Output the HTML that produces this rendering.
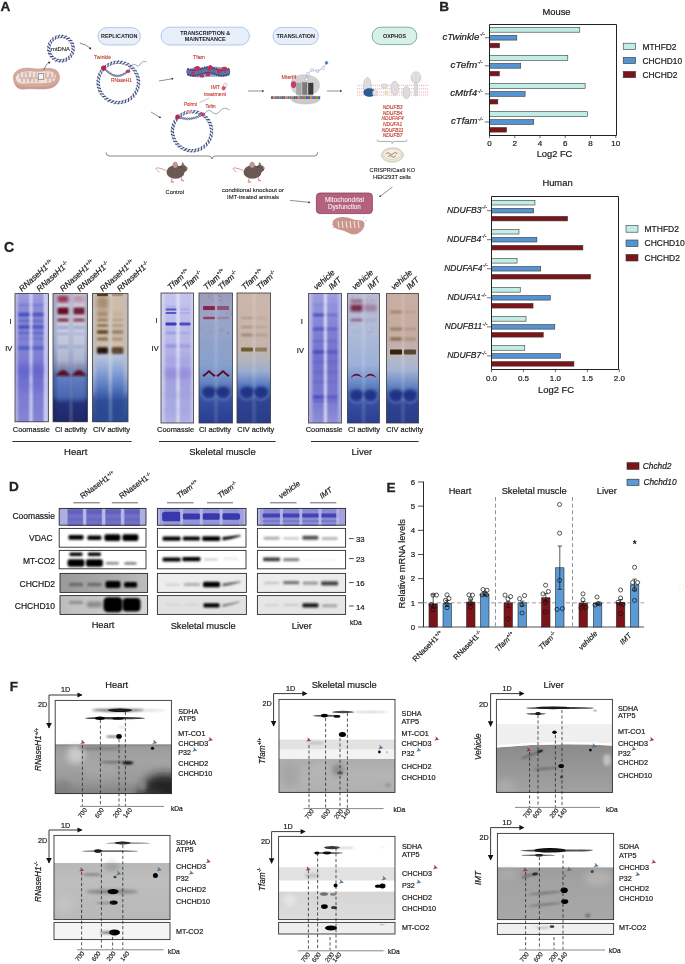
<!DOCTYPE html>
<html><head><meta charset="utf-8"><title>Figure</title><style>
html,body{margin:0;padding:0;background:#ffffff;width:685px;height:964px;overflow:hidden;}
svg{display:block;will-change:transform;}
text{font-family:"Liberation Sans", sans-serif;}
</style></head><body>
<svg width="685" height="964" viewBox="0 0 685 964">
<defs><filter id="b06" x="-50%" y="-50%" width="200%" height="200%"><feGaussianBlur stdDeviation="0.6"/></filter><filter id="b1" x="-50%" y="-50%" width="200%" height="200%"><feGaussianBlur stdDeviation="1"/></filter><filter id="b08" x="-50%" y="-50%" width="200%" height="200%"><feGaussianBlur stdDeviation="0.8"/></filter><filter id="b15" x="-50%" y="-50%" width="200%" height="200%"><feGaussianBlur stdDeviation="1.5"/></filter><filter id="b2" x="-50%" y="-50%" width="200%" height="200%"><feGaussianBlur stdDeviation="2"/></filter><filter id="b3" x="-50%" y="-50%" width="200%" height="200%"><feGaussianBlur stdDeviation="3"/></filter><filter id="b5" x="-50%" y="-50%" width="200%" height="200%"><feGaussianBlur stdDeviation="5"/></filter><linearGradient id="vg1" x1="0" x2="0" y1="0" y2="1"><stop offset="0.0000" stop-color="#bcbce8"/><stop offset="0.5179" stop-color="#a8a8e0"/><stop offset="1.0000" stop-color="#b4b4e6"/></linearGradient><linearGradient id="vg2" x1="0" x2="0" y1="0" y2="1"><stop offset="0.0000" stop-color="#a0a0de"/><stop offset="0.1279" stop-color="#8c8cd6"/><stop offset="0.4789" stop-color="#8080d2"/><stop offset="0.6349" stop-color="#6c6ccc"/><stop offset="0.7676" stop-color="#7a7ad0"/><stop offset="1.0000" stop-color="#8686d4"/></linearGradient><linearGradient id="vg3" x1="0" x2="0" y1="0" y2="1"><stop offset="0.0000" stop-color="#a8acc8"/><stop offset="0.2839" stop-color="#a8b0cc"/><stop offset="0.4399" stop-color="#98a4c8"/><stop offset="0.5647" stop-color="#7c88b4"/><stop offset="0.6427" stop-color="#4a68b0"/><stop offset="0.7988" stop-color="#3a58a0"/><stop offset="0.8456" stop-color="#222e70"/><stop offset="1.0000" stop-color="#1c2662"/></linearGradient><linearGradient id="vg4" x1="0" x2="0" y1="0" y2="1"><stop offset="0.0000" stop-color="#d0ccdc"/><stop offset="0.3619" stop-color="#c4c8dc"/><stop offset="0.5647" stop-color="#a8b0cc"/><stop offset="0.6427" stop-color="#6080c0"/><stop offset="0.7988" stop-color="#4a68b0"/><stop offset="0.8456" stop-color="#24307a"/><stop offset="1.0000" stop-color="#1e2868"/></linearGradient><linearGradient id="vg5" x1="0" x2="0" y1="0" y2="1"><stop offset="0.0000" stop-color="#c8bcb8"/><stop offset="0.4399" stop-color="#c4bcbc"/><stop offset="0.5023" stop-color="#b8c0d4"/><stop offset="0.6115" stop-color="#a4b4d4"/><stop offset="0.7520" stop-color="#7088c0"/><stop offset="0.8300" stop-color="#3a58a0"/><stop offset="1.0000" stop-color="#2a4890"/></linearGradient><linearGradient id="vg6" x1="0" x2="0" y1="0" y2="1"><stop offset="0.0000" stop-color="#d2c0b0"/><stop offset="0.4009" stop-color="#cebca8"/><stop offset="0.4867" stop-color="#b8c4dc"/><stop offset="0.5959" stop-color="#8aa4d4"/><stop offset="0.7129" stop-color="#5a7cc4"/><stop offset="0.8300" stop-color="#2e4c98"/><stop offset="1.0000" stop-color="#2a4890"/></linearGradient><linearGradient id="vg7" x1="0" x2="0" y1="0" y2="1"><stop offset="0.0000" stop-color="#d2d2f0"/><stop offset="1.0000" stop-color="#c4c4ec"/></linearGradient><linearGradient id="vg8" x1="0" x2="0" y1="0" y2="1"><stop offset="0.0000" stop-color="#c4c4ee"/><stop offset="0.3615" stop-color="#b8b8e8"/><stop offset="0.5154" stop-color="#acace4"/><stop offset="0.6692" stop-color="#a2a2e0"/><stop offset="1.0000" stop-color="#b0b0e6"/></linearGradient><linearGradient id="vg9" x1="0" x2="0" y1="0" y2="1"><stop offset="0.0000" stop-color="#9c9cbc"/><stop offset="0.2077" stop-color="#9aa4c8"/><stop offset="0.5538" stop-color="#86a0cc"/><stop offset="0.6692" stop-color="#6a8ac4"/><stop offset="0.8231" stop-color="#3650a0"/><stop offset="1.0000" stop-color="#2a3c90"/></linearGradient><linearGradient id="vg10" x1="0" x2="0" y1="0" y2="1"><stop offset="0.0000" stop-color="#ccb6ac"/><stop offset="0.4000" stop-color="#c6b4ac"/><stop offset="0.5154" stop-color="#b4b4bc"/><stop offset="0.6077" stop-color="#98acd0"/><stop offset="0.7077" stop-color="#5a7ac0"/><stop offset="0.8231" stop-color="#2e4494"/><stop offset="1.0000" stop-color="#2a3c88"/></linearGradient><linearGradient id="vg11" x1="0" x2="0" y1="0" y2="1"><stop offset="0.0000" stop-color="#b8b8e8"/><stop offset="1.0000" stop-color="#a8a8e0"/></linearGradient><linearGradient id="vg12" x1="0" x2="0" y1="0" y2="1"><stop offset="0.0000" stop-color="#a0a0e0"/><stop offset="0.2813" stop-color="#8080d4"/><stop offset="0.5131" stop-color="#7070cc"/><stop offset="0.8223" stop-color="#7a7ad0"/><stop offset="1.0000" stop-color="#9090d8"/></linearGradient><linearGradient id="vg13" x1="0" x2="0" y1="0" y2="1"><stop offset="0.0000" stop-color="#b8bcd4"/><stop offset="0.2813" stop-color="#b0bcd8"/><stop offset="0.5518" stop-color="#9cb0d8"/><stop offset="0.6832" stop-color="#6c8cc8"/><stop offset="0.8377" stop-color="#3650a0"/><stop offset="1.0000" stop-color="#2c3e92"/></linearGradient><linearGradient id="vg14" x1="0" x2="0" y1="0" y2="1"><stop offset="0.0000" stop-color="#c8ada2"/><stop offset="0.3586" stop-color="#c4aca2"/><stop offset="0.4977" stop-color="#b8b8c4"/><stop offset="0.5904" stop-color="#a4b4d4"/><stop offset="0.7063" stop-color="#6888c4"/><stop offset="0.8377" stop-color="#2e4494"/><stop offset="1.0000" stop-color="#2a3c88"/></linearGradient><marker id="ah" viewBox="0 0 10 10" refX="9" refY="5" markerWidth="5" markerHeight="5" orient="auto" markerUnits="userSpaceOnUse"><path d="M0,0 L10,5 L0,10 z" fill="#111"/></marker><linearGradient id="vg15" x1="0" x2="0" y1="0" y2="1"><stop offset="0.0000" stop-color="#868686"/><stop offset="0.0649" stop-color="#9c9c9c"/><stop offset="0.3185" stop-color="#a4a4a4"/><stop offset="0.7241" stop-color="#9a9a9a"/><stop offset="1.0000" stop-color="#808080"/></linearGradient><linearGradient id="vg16" x1="0" x2="0" y1="0" y2="1"><stop offset="0.0000" stop-color="#b8b8b8"/><stop offset="0.3004" stop-color="#bebebe"/><stop offset="1.0000" stop-color="#b8b8b8"/></linearGradient><linearGradient id="vg17" x1="0" x2="0" y1="0" y2="1"><stop offset="0.0000" stop-color="#acacac"/><stop offset="0.4790" stop-color="#b4b4b4"/><stop offset="1.0000" stop-color="#b0b0b0"/></linearGradient><linearGradient id="vg18" x1="0" x2="0" y1="0" y2="1"><stop offset="0.0000" stop-color="#d6d6d6"/><stop offset="1.0000" stop-color="#dcdcdc"/></linearGradient><linearGradient id="vg19" x1="0" x2="0" y1="0" y2="1"><stop offset="0.0000" stop-color="#8a8a8a"/><stop offset="0.3306" stop-color="#939393"/><stop offset="1.0000" stop-color="#a2a2a2"/></linearGradient><linearGradient id="vg20" x1="0" x2="0" y1="0" y2="1"><stop offset="0.0000" stop-color="#9c9c9c"/><stop offset="0.2414" stop-color="#a2a2a2"/><stop offset="1.0000" stop-color="#a8a8a8"/></linearGradient></defs>
<rect x="0" y="0" width="685" height="964" fill="#ffffff"/>
<text x="439.20" y="10.80" font-size="13.6" fill="#222" font-weight="bold" stroke="#222" stroke-width="0.3">B</text>
<text x="556.50" y="14.70" font-size="9.4" fill="#1a1a1a" stroke="#1a1a1a" stroke-width="0.2" text-anchor="middle" >Mouse</text>
<rect x="489.50" y="27.40" width="90.30" height="4.80" fill="#c0ede6" stroke="#3a3a3a" stroke-width="0.6" />
<rect x="489.50" y="35.30" width="27.28" height="4.80" fill="#5593d2" stroke="#3a3a3a" stroke-width="0.6" />
<rect x="489.50" y="43.20" width="10.10" height="4.60" fill="#7c1419" stroke="#3a3a3a" stroke-width="0.6" />
<line x1="484.80" y1="37.70" x2="489.50" y2="37.70" stroke="#333" stroke-width="0.7" />
<text x="442.40" y="39.70" font-size="9.4" fill="#1a1a1a" stroke="#1a1a1a" stroke-width="0.2" font-style="italic" textLength="37.00" lengthAdjust="spacingAndGlyphs" >cTwinkle</text>
<text x="479.70" y="36.30" font-size="5.4" fill="#444" stroke="#444" stroke-width="0.2" font-style="italic" >-/-</text>
<rect x="489.50" y="55.50" width="78.31" height="4.80" fill="#c0ede6" stroke="#3a3a3a" stroke-width="0.6" />
<rect x="489.50" y="63.40" width="31.20" height="4.80" fill="#5593d2" stroke="#3a3a3a" stroke-width="0.6" />
<rect x="489.50" y="71.30" width="9.85" height="4.60" fill="#7c1419" stroke="#3a3a3a" stroke-width="0.6" />
<line x1="484.80" y1="65.80" x2="489.50" y2="65.80" stroke="#333" stroke-width="0.7" />
<text x="450.60" y="67.80" font-size="9.4" fill="#1a1a1a" stroke="#1a1a1a" stroke-width="0.2" font-style="italic" textLength="26.60" lengthAdjust="spacingAndGlyphs" >cTefm</text>
<text x="477.50" y="64.40" font-size="5.4" fill="#444" stroke="#444" stroke-width="0.2" font-style="italic" >-/-</text>
<rect x="489.50" y="83.60" width="95.61" height="4.80" fill="#c0ede6" stroke="#3a3a3a" stroke-width="0.6" />
<rect x="489.50" y="91.50" width="35.62" height="4.80" fill="#5593d2" stroke="#3a3a3a" stroke-width="0.6" />
<rect x="489.50" y="99.40" width="8.34" height="4.60" fill="#7c1419" stroke="#3a3a3a" stroke-width="0.6" />
<line x1="484.80" y1="93.90" x2="489.50" y2="93.90" stroke="#333" stroke-width="0.7" />
<text x="450.20" y="95.90" font-size="9.4" fill="#1a1a1a" stroke="#1a1a1a" stroke-width="0.2" font-style="italic" textLength="27.00" lengthAdjust="spacingAndGlyphs" >cMtrf4</text>
<text x="477.50" y="92.50" font-size="5.4" fill="#444" stroke="#444" stroke-width="0.2" font-style="italic" >-/-</text>
<rect x="489.50" y="111.70" width="97.88" height="4.80" fill="#c0ede6" stroke="#3a3a3a" stroke-width="0.6" />
<rect x="489.50" y="119.60" width="44.21" height="4.80" fill="#5593d2" stroke="#3a3a3a" stroke-width="0.6" />
<rect x="489.50" y="127.50" width="17.05" height="4.60" fill="#7c1419" stroke="#3a3a3a" stroke-width="0.6" />
<line x1="484.80" y1="122.00" x2="489.50" y2="122.00" stroke="#333" stroke-width="0.7" />
<text x="451.00" y="124.00" font-size="9.4" fill="#1a1a1a" stroke="#1a1a1a" stroke-width="0.2" font-style="italic" textLength="26.60" lengthAdjust="spacingAndGlyphs" >cTfam</text>
<text x="477.90" y="120.60" font-size="5.4" fill="#444" stroke="#444" stroke-width="0.2" font-style="italic" >-/-</text>
<path d="M489.5,24.5 L616.5,24.5 L616.5,135.5 L489.5,135.5 Z" fill="none" stroke="#222" stroke-width="1"/>
<line x1="489.50" y1="135.00" x2="489.50" y2="138.20" stroke="#333" stroke-width="0.7" />
<text x="489.50" y="146.40" font-size="8" fill="#1a1a1a" stroke="#1a1a1a" stroke-width="0.2" text-anchor="middle" >0</text>
<line x1="514.76" y1="135.00" x2="514.76" y2="138.20" stroke="#333" stroke-width="0.7" />
<text x="514.76" y="146.40" font-size="8" fill="#1a1a1a" stroke="#1a1a1a" stroke-width="0.2" text-anchor="middle" >2</text>
<line x1="540.02" y1="135.00" x2="540.02" y2="138.20" stroke="#333" stroke-width="0.7" />
<text x="540.02" y="146.40" font-size="8" fill="#1a1a1a" stroke="#1a1a1a" stroke-width="0.2" text-anchor="middle" >4</text>
<line x1="565.28" y1="135.00" x2="565.28" y2="138.20" stroke="#333" stroke-width="0.7" />
<text x="565.28" y="146.40" font-size="8" fill="#1a1a1a" stroke="#1a1a1a" stroke-width="0.2" text-anchor="middle" >6</text>
<line x1="590.54" y1="135.00" x2="590.54" y2="138.20" stroke="#333" stroke-width="0.7" />
<text x="590.54" y="146.40" font-size="8" fill="#1a1a1a" stroke="#1a1a1a" stroke-width="0.2" text-anchor="middle" >8</text>
<line x1="615.80" y1="135.00" x2="615.80" y2="138.20" stroke="#333" stroke-width="0.7" />
<text x="615.80" y="146.40" font-size="8" fill="#1a1a1a" stroke="#1a1a1a" stroke-width="0.2" text-anchor="middle" >10</text>
<text x="554.50" y="157.00" font-size="9.3" fill="#1a1a1a" stroke="#1a1a1a" stroke-width="0.2" text-anchor="middle" >Log2 FC</text>
<rect x="623.20" y="43.20" width="12.40" height="6.30" fill="#c0ede6" stroke="#3a3a3a" stroke-width="0.6" />
<text x="642.50" y="49.60" font-size="8.4" fill="#1a1a1a" stroke="#1a1a1a" stroke-width="0.2" >MTHFD2</text>
<rect x="623.20" y="57.30" width="12.40" height="6.30" fill="#5593d2" stroke="#3a3a3a" stroke-width="0.6" />
<text x="642.50" y="63.70" font-size="8.4" fill="#1a1a1a" stroke="#1a1a1a" stroke-width="0.2" >CHCHD10</text>
<rect x="623.20" y="71.40" width="12.40" height="6.30" fill="#7c1419" stroke="#3a3a3a" stroke-width="0.6" />
<text x="642.50" y="77.80" font-size="8.4" fill="#1a1a1a" stroke="#1a1a1a" stroke-width="0.2" >CHCHD2</text>
<text x="557.50" y="186.00" font-size="9.4" fill="#1a1a1a" stroke="#1a1a1a" stroke-width="0.2" text-anchor="middle" >Human</text>
<rect x="491.50" y="200.40" width="43.45" height="4.60" fill="#c0ede6" stroke="#3a3a3a" stroke-width="0.6" />
<rect x="491.50" y="208.35" width="42.17" height="4.60" fill="#5593d2" stroke="#3a3a3a" stroke-width="0.6" />
<rect x="491.50" y="216.30" width="76.04" height="4.60" fill="#7c1419" stroke="#3a3a3a" stroke-width="0.6" />
<line x1="487.00" y1="210.65" x2="491.50" y2="210.65" stroke="#333" stroke-width="0.7" />
<text x="447.00" y="212.75" font-size="9" fill="#1a1a1a" stroke="#1a1a1a" stroke-width="0.2" font-style="italic" textLength="34.60" lengthAdjust="spacingAndGlyphs" >NDUFB3</text>
<text x="481.90" y="209.35" font-size="5.4" fill="#444" stroke="#444" stroke-width="0.2" font-style="italic" >-/-</text>
<rect x="491.50" y="229.45" width="27.48" height="4.60" fill="#c0ede6" stroke="#3a3a3a" stroke-width="0.6" />
<rect x="491.50" y="237.40" width="45.37" height="4.60" fill="#5593d2" stroke="#3a3a3a" stroke-width="0.6" />
<rect x="491.50" y="245.35" width="91.38" height="4.60" fill="#7c1419" stroke="#3a3a3a" stroke-width="0.6" />
<line x1="487.00" y1="239.70" x2="491.50" y2="239.70" stroke="#333" stroke-width="0.7" />
<text x="447.00" y="241.80" font-size="9" fill="#1a1a1a" stroke="#1a1a1a" stroke-width="0.2" font-style="italic" textLength="34.20" lengthAdjust="spacingAndGlyphs" >NDUFB4</text>
<text x="481.50" y="238.40" font-size="5.4" fill="#444" stroke="#444" stroke-width="0.2" font-style="italic" >-/-</text>
<rect x="491.50" y="258.50" width="25.56" height="4.60" fill="#c0ede6" stroke="#3a3a3a" stroke-width="0.6" />
<rect x="491.50" y="266.45" width="49.20" height="4.60" fill="#5593d2" stroke="#3a3a3a" stroke-width="0.6" />
<rect x="491.50" y="274.40" width="99.05" height="4.60" fill="#7c1419" stroke="#3a3a3a" stroke-width="0.6" />
<line x1="487.00" y1="268.75" x2="491.50" y2="268.75" stroke="#333" stroke-width="0.7" />
<text x="444.20" y="270.85" font-size="9" fill="#1a1a1a" stroke="#1a1a1a" stroke-width="0.2" font-style="italic" textLength="38.20" lengthAdjust="spacingAndGlyphs" >NDUFAF4</text>
<text x="482.70" y="267.45" font-size="5.4" fill="#444" stroke="#444" stroke-width="0.2" font-style="italic" >-/-</text>
<rect x="491.50" y="287.55" width="28.75" height="4.60" fill="#c0ede6" stroke="#3a3a3a" stroke-width="0.6" />
<rect x="491.50" y="295.50" width="58.79" height="4.60" fill="#5593d2" stroke="#3a3a3a" stroke-width="0.6" />
<rect x="491.50" y="303.45" width="41.54" height="4.60" fill="#7c1419" stroke="#3a3a3a" stroke-width="0.6" />
<line x1="487.00" y1="297.80" x2="491.50" y2="297.80" stroke="#333" stroke-width="0.7" />
<text x="447.40" y="299.90" font-size="9" fill="#1a1a1a" stroke="#1a1a1a" stroke-width="0.2" font-style="italic" textLength="33.60" lengthAdjust="spacingAndGlyphs" >NDUFA1</text>
<text x="481.30" y="296.50" font-size="5.4" fill="#444" stroke="#444" stroke-width="0.2" font-style="italic" >-/-</text>
<rect x="491.50" y="316.60" width="34.51" height="4.60" fill="#c0ede6" stroke="#3a3a3a" stroke-width="0.6" />
<rect x="491.50" y="324.55" width="63.26" height="4.60" fill="#5593d2" stroke="#3a3a3a" stroke-width="0.6" />
<rect x="491.50" y="332.50" width="51.76" height="4.60" fill="#7c1419" stroke="#3a3a3a" stroke-width="0.6" />
<line x1="487.00" y1="326.85" x2="491.50" y2="326.85" stroke="#333" stroke-width="0.7" />
<text x="444.80" y="328.95" font-size="9" fill="#1a1a1a" stroke="#1a1a1a" stroke-width="0.2" font-style="italic" textLength="37.40" lengthAdjust="spacingAndGlyphs" >NDUFB11</text>
<text x="482.50" y="325.55" font-size="5.4" fill="#444" stroke="#444" stroke-width="0.2" font-style="italic" >-/-</text>
<rect x="491.50" y="345.65" width="33.23" height="4.60" fill="#c0ede6" stroke="#3a3a3a" stroke-width="0.6" />
<rect x="491.50" y="353.60" width="69.01" height="4.60" fill="#5593d2" stroke="#3a3a3a" stroke-width="0.6" />
<rect x="491.50" y="361.55" width="82.43" height="4.60" fill="#7c1419" stroke="#3a3a3a" stroke-width="0.6" />
<line x1="487.00" y1="355.90" x2="491.50" y2="355.90" stroke="#333" stroke-width="0.7" />
<text x="447.20" y="358.00" font-size="9" fill="#1a1a1a" stroke="#1a1a1a" stroke-width="0.2" font-style="italic" textLength="34.00" lengthAdjust="spacingAndGlyphs" >NDUFB7</text>
<text x="481.50" y="354.60" font-size="5.4" fill="#444" stroke="#444" stroke-width="0.2" font-style="italic" >-/-</text>
<path d="M491.5,196.5 L618.5,196.5 L618.5,369.5 L491.5,369.5 Z" fill="none" stroke="#222" stroke-width="1"/>
<line x1="491.50" y1="369.00" x2="491.50" y2="372.20" stroke="#333" stroke-width="0.7" />
<text x="491.50" y="381.00" font-size="8" fill="#1a1a1a" stroke="#1a1a1a" stroke-width="0.2" text-anchor="middle" >0.0</text>
<line x1="523.45" y1="369.00" x2="523.45" y2="372.20" stroke="#333" stroke-width="0.7" />
<text x="523.45" y="381.00" font-size="8" fill="#1a1a1a" stroke="#1a1a1a" stroke-width="0.2" text-anchor="middle" >0.5</text>
<line x1="555.40" y1="369.00" x2="555.40" y2="372.20" stroke="#333" stroke-width="0.7" />
<text x="555.40" y="381.00" font-size="8" fill="#1a1a1a" stroke="#1a1a1a" stroke-width="0.2" text-anchor="middle" >1.0</text>
<line x1="587.35" y1="369.00" x2="587.35" y2="372.20" stroke="#333" stroke-width="0.7" />
<text x="587.35" y="381.00" font-size="8" fill="#1a1a1a" stroke="#1a1a1a" stroke-width="0.2" text-anchor="middle" >1.5</text>
<line x1="619.30" y1="369.00" x2="619.30" y2="372.20" stroke="#333" stroke-width="0.7" />
<text x="619.30" y="381.00" font-size="8" fill="#1a1a1a" stroke="#1a1a1a" stroke-width="0.2" text-anchor="middle" >2.0</text>
<text x="556.00" y="393.00" font-size="9.4" fill="#1a1a1a" stroke="#1a1a1a" stroke-width="0.2" text-anchor="middle" >Log2 FC</text>
<rect x="626.00" y="225.60" width="12.00" height="6.60" fill="#c0ede6" stroke="#3a3a3a" stroke-width="0.6" />
<text x="644.50" y="232.00" font-size="8.5" fill="#1a1a1a" stroke="#1a1a1a" stroke-width="0.2" >MTHFD2</text>
<rect x="626.00" y="240.00" width="12.00" height="6.60" fill="#5593d2" stroke="#3a3a3a" stroke-width="0.6" />
<text x="644.50" y="246.40" font-size="8.5" fill="#1a1a1a" stroke="#1a1a1a" stroke-width="0.2" >CHCHD10</text>
<rect x="626.00" y="254.40" width="12.00" height="6.60" fill="#7c1419" stroke="#3a3a3a" stroke-width="0.6" />
<text x="644.50" y="260.80" font-size="8.5" fill="#1a1a1a" stroke="#1a1a1a" stroke-width="0.2" >CHCHD2</text>
<text x="386.40" y="491.60" font-size="13.6" fill="#222" font-weight="bold" stroke="#222" stroke-width="0.3">E</text>
<line x1="423.50" y1="481.50" x2="423.50" y2="627.00" stroke="#111" stroke-width="0.9" />
<line x1="423.00" y1="627.00" x2="644.00" y2="627.00" stroke="#555" stroke-width="1.1" />
<line x1="418.00" y1="627.00" x2="423.50" y2="627.00" stroke="#222" stroke-width="0.8" />
<text x="415.20" y="629.70" font-size="7.8" fill="#1a1a1a" stroke="#1a1a1a" stroke-width="0.2" text-anchor="end" >0</text>
<line x1="418.00" y1="602.83" x2="423.50" y2="602.83" stroke="#222" stroke-width="0.8" />
<text x="415.20" y="605.53" font-size="7.8" fill="#1a1a1a" stroke="#1a1a1a" stroke-width="0.2" text-anchor="end" >1</text>
<line x1="418.00" y1="578.66" x2="423.50" y2="578.66" stroke="#222" stroke-width="0.8" />
<text x="415.20" y="581.36" font-size="7.8" fill="#1a1a1a" stroke="#1a1a1a" stroke-width="0.2" text-anchor="end" >2</text>
<line x1="418.00" y1="554.49" x2="423.50" y2="554.49" stroke="#222" stroke-width="0.8" />
<text x="415.20" y="557.19" font-size="7.8" fill="#1a1a1a" stroke="#1a1a1a" stroke-width="0.2" text-anchor="end" >3</text>
<line x1="418.00" y1="530.32" x2="423.50" y2="530.32" stroke="#222" stroke-width="0.8" />
<text x="415.20" y="533.02" font-size="7.8" fill="#1a1a1a" stroke="#1a1a1a" stroke-width="0.2" text-anchor="end" >4</text>
<line x1="418.00" y1="506.15" x2="423.50" y2="506.15" stroke="#222" stroke-width="0.8" />
<text x="415.20" y="508.85" font-size="7.8" fill="#1a1a1a" stroke="#1a1a1a" stroke-width="0.2" text-anchor="end" >5</text>
<line x1="418.00" y1="481.98" x2="423.50" y2="481.98" stroke="#222" stroke-width="0.8" />
<text x="415.20" y="484.68" font-size="7.8" fill="#1a1a1a" stroke="#1a1a1a" stroke-width="0.2" text-anchor="end" >6</text>
<text transform="translate(404.60,563.80) rotate(-90)" x="0" y="0" font-size="9.3" fill="#1a1a1a" stroke="#1a1a1a" stroke-width="0.2" text-anchor="middle" >Relative mRNA levels</text>
<text x="460.00" y="494.40" font-size="9.3" fill="#1a1a1a" stroke="#1a1a1a" stroke-width="0.2" text-anchor="middle" >Heart</text>
<text x="534.20" y="494.40" font-size="9.3" fill="#1a1a1a" stroke="#1a1a1a" stroke-width="0.2" text-anchor="middle" >Skeletal muscle</text>
<text x="606.80" y="494.40" font-size="9.3" fill="#1a1a1a" stroke="#1a1a1a" stroke-width="0.2" text-anchor="middle" >Liver</text>
<line x1="495.50" y1="497.00" x2="495.50" y2="627.00" stroke="#777" stroke-width="0.8" stroke-dasharray="4,2.6"/>
<line x1="572.50" y1="497.00" x2="572.50" y2="627.00" stroke="#777" stroke-width="0.8" stroke-dasharray="4,2.6"/>
<line x1="423.00" y1="602.83" x2="644.00" y2="602.83" stroke="#888" stroke-width="0.8" stroke-dasharray="4.2,2.6"/>
<rect x="429.00" y="603.80" width="8.40" height="23.20" fill="#7c1419" stroke="#222" stroke-width="0.6" />
<line x1="433.20" y1="607.66" x2="433.20" y2="594.37" stroke="#111" stroke-width="0.7" />
<line x1="431.00" y1="594.37" x2="435.40" y2="594.37" stroke="#111" stroke-width="0.7" />
<line x1="431.00" y1="607.66" x2="435.40" y2="607.66" stroke="#111" stroke-width="0.7" />
<circle cx="433.00" cy="595.10" r="2.05" fill="none" stroke="#111" stroke-width="0.7"/>
<circle cx="436.50" cy="595.10" r="2.05" fill="none" stroke="#111" stroke-width="0.7"/>
<circle cx="431.00" cy="604.52" r="2.05" fill="none" stroke="#111" stroke-width="0.7"/>
<circle cx="434.00" cy="606.46" r="2.05" fill="none" stroke="#111" stroke-width="0.7"/>
<circle cx="433.00" cy="609.60" r="2.05" fill="none" stroke="#111" stroke-width="0.7"/>
<rect x="443.00" y="603.31" width="8.40" height="23.69" fill="#5b9bd5" stroke="#222" stroke-width="0.6" />
<line x1="447.20" y1="606.46" x2="447.20" y2="600.41" stroke="#111" stroke-width="0.7" />
<line x1="445.00" y1="600.41" x2="449.40" y2="600.41" stroke="#111" stroke-width="0.7" />
<line x1="445.00" y1="606.46" x2="449.40" y2="606.46" stroke="#111" stroke-width="0.7" />
<circle cx="447.00" cy="594.85" r="2.05" fill="none" stroke="#111" stroke-width="0.7"/>
<circle cx="445.50" cy="600.41" r="2.05" fill="none" stroke="#111" stroke-width="0.7"/>
<circle cx="449.00" cy="598.48" r="2.05" fill="none" stroke="#111" stroke-width="0.7"/>
<circle cx="447.00" cy="604.04" r="2.05" fill="none" stroke="#111" stroke-width="0.7"/>
<circle cx="447.00" cy="607.66" r="2.05" fill="none" stroke="#111" stroke-width="0.7"/>
<rect x="466.60" y="602.10" width="8.40" height="24.90" fill="#7c1419" stroke="#222" stroke-width="0.6" />
<line x1="470.80" y1="604.76" x2="470.80" y2="599.20" stroke="#111" stroke-width="0.7" />
<line x1="468.60" y1="599.20" x2="473.00" y2="599.20" stroke="#111" stroke-width="0.7" />
<line x1="468.60" y1="604.76" x2="473.00" y2="604.76" stroke="#111" stroke-width="0.7" />
<circle cx="469.00" cy="594.85" r="2.05" fill="none" stroke="#111" stroke-width="0.7"/>
<circle cx="472.50" cy="595.10" r="2.05" fill="none" stroke="#111" stroke-width="0.7"/>
<circle cx="470.50" cy="599.20" r="2.05" fill="none" stroke="#111" stroke-width="0.7"/>
<circle cx="470.50" cy="602.83" r="2.05" fill="none" stroke="#111" stroke-width="0.7"/>
<circle cx="470.50" cy="607.18" r="2.05" fill="none" stroke="#111" stroke-width="0.7"/>
<rect x="480.60" y="594.13" width="8.40" height="32.87" fill="#5b9bd5" stroke="#222" stroke-width="0.6" />
<line x1="484.80" y1="595.82" x2="484.80" y2="592.44" stroke="#111" stroke-width="0.7" />
<line x1="482.60" y1="592.44" x2="487.00" y2="592.44" stroke="#111" stroke-width="0.7" />
<line x1="482.60" y1="595.82" x2="487.00" y2="595.82" stroke="#111" stroke-width="0.7" />
<circle cx="483.00" cy="589.54" r="2.05" fill="none" stroke="#111" stroke-width="0.7"/>
<circle cx="487.00" cy="590.26" r="2.05" fill="none" stroke="#111" stroke-width="0.7"/>
<circle cx="485.00" cy="593.16" r="2.05" fill="none" stroke="#111" stroke-width="0.7"/>
<circle cx="482.00" cy="594.85" r="2.05" fill="none" stroke="#111" stroke-width="0.7"/>
<circle cx="486.50" cy="594.85" r="2.05" fill="none" stroke="#111" stroke-width="0.7"/>
<rect x="504.00" y="602.83" width="8.40" height="24.17" fill="#7c1419" stroke="#222" stroke-width="0.6" />
<line x1="508.20" y1="607.66" x2="508.20" y2="601.62" stroke="#111" stroke-width="0.7" />
<line x1="506.00" y1="601.62" x2="510.40" y2="601.62" stroke="#111" stroke-width="0.7" />
<line x1="506.00" y1="607.66" x2="510.40" y2="607.66" stroke="#111" stroke-width="0.7" />
<circle cx="505.00" cy="595.10" r="2.05" fill="none" stroke="#111" stroke-width="0.7"/>
<circle cx="510.60" cy="596.55" r="2.05" fill="none" stroke="#111" stroke-width="0.7"/>
<circle cx="508.00" cy="598.96" r="2.05" fill="none" stroke="#111" stroke-width="0.7"/>
<circle cx="508.00" cy="618.78" r="2.05" fill="none" stroke="#111" stroke-width="0.7"/>
<rect x="518.00" y="602.83" width="8.40" height="24.17" fill="#5b9bd5" stroke="#222" stroke-width="0.6" />
<line x1="522.20" y1="605.97" x2="522.20" y2="601.14" stroke="#111" stroke-width="0.7" />
<line x1="520.00" y1="601.14" x2="524.40" y2="601.14" stroke="#111" stroke-width="0.7" />
<line x1="520.00" y1="605.97" x2="524.40" y2="605.97" stroke="#111" stroke-width="0.7" />
<circle cx="519.60" cy="598.72" r="2.05" fill="none" stroke="#111" stroke-width="0.7"/>
<circle cx="524.60" cy="595.58" r="2.05" fill="none" stroke="#111" stroke-width="0.7"/>
<circle cx="522.00" cy="604.76" r="2.05" fill="none" stroke="#111" stroke-width="0.7"/>
<circle cx="522.00" cy="612.98" r="2.05" fill="none" stroke="#111" stroke-width="0.7"/>
<rect x="541.60" y="597.75" width="8.40" height="29.25" fill="#7c1419" stroke="#222" stroke-width="0.6" />
<line x1="545.80" y1="601.62" x2="545.80" y2="593.65" stroke="#111" stroke-width="0.7" />
<line x1="543.60" y1="593.65" x2="548.00" y2="593.65" stroke="#111" stroke-width="0.7" />
<line x1="543.60" y1="601.62" x2="548.00" y2="601.62" stroke="#111" stroke-width="0.7" />
<circle cx="545.60" cy="585.19" r="2.05" fill="none" stroke="#111" stroke-width="0.7"/>
<circle cx="543.00" cy="593.89" r="2.05" fill="none" stroke="#111" stroke-width="0.7"/>
<circle cx="548.40" cy="591.47" r="2.05" fill="none" stroke="#111" stroke-width="0.7"/>
<circle cx="545.60" cy="602.35" r="2.05" fill="none" stroke="#111" stroke-width="0.7"/>
<circle cx="545.60" cy="612.01" r="2.05" fill="none" stroke="#111" stroke-width="0.7"/>
<rect x="555.60" y="567.78" width="8.40" height="59.22" fill="#5b9bd5" stroke="#222" stroke-width="0.6" />
<line x1="559.80" y1="589.29" x2="559.80" y2="546.03" stroke="#111" stroke-width="0.7" />
<line x1="557.60" y1="546.03" x2="562.00" y2="546.03" stroke="#111" stroke-width="0.7" />
<line x1="557.60" y1="589.29" x2="562.00" y2="589.29" stroke="#111" stroke-width="0.7" />
<circle cx="559.60" cy="504.46" r="2.05" fill="none" stroke="#111" stroke-width="0.7"/>
<circle cx="559.60" cy="533.22" r="2.05" fill="none" stroke="#111" stroke-width="0.7"/>
<circle cx="559.60" cy="580.35" r="2.05" fill="none" stroke="#111" stroke-width="0.7"/>
<circle cx="557.00" cy="609.36" r="2.05" fill="none" stroke="#111" stroke-width="0.7"/>
<circle cx="562.40" cy="608.63" r="2.05" fill="none" stroke="#111" stroke-width="0.7"/>
<rect x="579.00" y="603.07" width="8.40" height="23.93" fill="#7c1419" stroke="#222" stroke-width="0.6" />
<line x1="583.20" y1="605.25" x2="583.20" y2="601.62" stroke="#111" stroke-width="0.7" />
<line x1="581.00" y1="601.62" x2="585.40" y2="601.62" stroke="#111" stroke-width="0.7" />
<line x1="581.00" y1="605.25" x2="585.40" y2="605.25" stroke="#111" stroke-width="0.7" />
<circle cx="583.00" cy="593.89" r="2.05" fill="none" stroke="#111" stroke-width="0.7"/>
<circle cx="583.00" cy="599.69" r="2.05" fill="none" stroke="#111" stroke-width="0.7"/>
<circle cx="581.00" cy="607.91" r="2.05" fill="none" stroke="#111" stroke-width="0.7"/>
<circle cx="586.00" cy="607.42" r="2.05" fill="none" stroke="#111" stroke-width="0.7"/>
<rect x="593.40" y="603.56" width="8.40" height="23.44" fill="#5b9bd5" stroke="#222" stroke-width="0.6" />
<line x1="597.60" y1="604.52" x2="597.60" y2="602.83" stroke="#111" stroke-width="0.7" />
<line x1="595.40" y1="602.83" x2="599.80" y2="602.83" stroke="#111" stroke-width="0.7" />
<line x1="595.40" y1="604.52" x2="599.80" y2="604.52" stroke="#111" stroke-width="0.7" />
<circle cx="597.00" cy="597.03" r="2.05" fill="none" stroke="#111" stroke-width="0.7"/>
<circle cx="595.00" cy="605.01" r="2.05" fill="none" stroke="#111" stroke-width="0.7"/>
<circle cx="599.60" cy="603.80" r="2.05" fill="none" stroke="#111" stroke-width="0.7"/>
<circle cx="598.00" cy="603.56" r="2.05" fill="none" stroke="#111" stroke-width="0.7"/>
<rect x="616.40" y="602.35" width="8.40" height="24.65" fill="#7c1419" stroke="#222" stroke-width="0.6" />
<line x1="620.60" y1="604.76" x2="620.60" y2="599.69" stroke="#111" stroke-width="0.7" />
<line x1="618.40" y1="599.69" x2="622.80" y2="599.69" stroke="#111" stroke-width="0.7" />
<line x1="618.40" y1="604.76" x2="622.80" y2="604.76" stroke="#111" stroke-width="0.7" />
<circle cx="620.60" cy="590.02" r="2.05" fill="none" stroke="#111" stroke-width="0.7"/>
<circle cx="620.60" cy="598.00" r="2.05" fill="none" stroke="#111" stroke-width="0.7"/>
<circle cx="618.00" cy="602.35" r="2.05" fill="none" stroke="#111" stroke-width="0.7"/>
<circle cx="623.00" cy="604.52" r="2.05" fill="none" stroke="#111" stroke-width="0.7"/>
<circle cx="620.60" cy="613.71" r="2.05" fill="none" stroke="#111" stroke-width="0.7"/>
<rect x="630.40" y="584.94" width="8.40" height="42.06" fill="#5b9bd5" stroke="#222" stroke-width="0.6" />
<line x1="634.60" y1="590.26" x2="634.60" y2="579.14" stroke="#111" stroke-width="0.7" />
<line x1="632.40" y1="579.14" x2="636.80" y2="579.14" stroke="#111" stroke-width="0.7" />
<line x1="632.40" y1="590.26" x2="636.80" y2="590.26" stroke="#111" stroke-width="0.7" />
<circle cx="634.60" cy="567.30" r="2.05" fill="none" stroke="#111" stroke-width="0.7"/>
<circle cx="632.60" cy="582.53" r="2.05" fill="none" stroke="#111" stroke-width="0.7"/>
<circle cx="637.60" cy="582.53" r="2.05" fill="none" stroke="#111" stroke-width="0.7"/>
<circle cx="634.60" cy="589.54" r="2.05" fill="none" stroke="#111" stroke-width="0.7"/>
<circle cx="634.60" cy="600.41" r="2.05" fill="none" stroke="#111" stroke-width="0.7"/>
<text x="634.60" y="547.50" font-size="10" fill="#111" text-anchor="middle" font-weight="bold" >*</text>
<circle cx="681.4" cy="587" r="2.3" fill="none" stroke="#eeeeee" stroke-width="0.6"/>
<rect x="627.00" y="462.70" width="12.00" height="6.60" fill="#7c1419" stroke="#222" stroke-width="0.6" />
<rect x="627.00" y="479.20" width="12.00" height="6.20" fill="#5b9bd5" stroke="#222" stroke-width="0.6" />
<text x="642.80" y="468.60" font-size="8.3" fill="#1a1a1a" stroke="#1a1a1a" stroke-width="0.2" font-style="italic" >Chchd2</text>
<text x="643.40" y="485.00" font-size="8.3" fill="#1a1a1a" stroke="#1a1a1a" stroke-width="0.2" font-style="italic" >Chchd10</text>
<text transform="translate(443.50,634.00) rotate(-45)" x="0" y="0" font-size="7.5" fill="#1a1a1a" stroke="#1a1a1a" stroke-width="0.2" text-anchor="end" >RNaseH1<tspan font-size="4.8" dy="-2.8">+/+</tspan></text>
<text transform="translate(482.50,634.00) rotate(-45)" x="0" y="0" font-size="7.5" fill="#1a1a1a" stroke="#1a1a1a" stroke-width="0.2" text-anchor="end" >RNaseH1<tspan font-size="4.8" dy="-2.8">-/-</tspan></text>
<text transform="translate(515.00,635.00) rotate(-45)" x="0" y="0" font-size="7.5" fill="#1a1a1a" stroke="#1a1a1a" stroke-width="0.2" text-anchor="end" ><tspan font-style="italic">Tfam</tspan><tspan font-size="4.8" dy="-2.8">+/+</tspan></text>
<text transform="translate(557.00,635.00) rotate(-45)" x="0" y="0" font-size="7.5" fill="#1a1a1a" stroke="#1a1a1a" stroke-width="0.2" text-anchor="end" ><tspan font-style="italic">Tfam</tspan><tspan font-size="4.8" dy="-2.8">-/-</tspan></text>
<text transform="translate(598.00,634.00) rotate(-45)" x="0" y="0" font-size="7.5" fill="#1a1a1a" stroke="#1a1a1a" stroke-width="0.2" text-anchor="end" ><tspan font-style="italic">vehicle</tspan></text>
<text transform="translate(632.00,636.00) rotate(-45)" x="0" y="0" font-size="7.5" fill="#1a1a1a" stroke="#1a1a1a" stroke-width="0.2" text-anchor="end" ><tspan font-style="italic">IMT</tspan></text>
<text x="8.90" y="491.40" font-size="13.6" fill="#222" font-weight="bold" stroke="#222" stroke-width="0.3">D</text>
<text x="55.00" y="519.00" font-size="8.5" fill="#1a1a1a" stroke="#1a1a1a" stroke-width="0.2" text-anchor="end" >Coomassie</text>
<text x="52.60" y="541.30" font-size="8.5" fill="#1a1a1a" stroke="#1a1a1a" stroke-width="0.2" text-anchor="end" >VDAC</text>
<text x="55.00" y="564.00" font-size="8.5" fill="#1a1a1a" stroke="#1a1a1a" stroke-width="0.2" text-anchor="end" >MT-CO2</text>
<text x="55.00" y="587.40" font-size="8.5" fill="#1a1a1a" stroke="#1a1a1a" stroke-width="0.2" text-anchor="end" >CHCHD2</text>
<text x="55.00" y="609.00" font-size="8.5" fill="#1a1a1a" stroke="#1a1a1a" stroke-width="0.2" text-anchor="end" >CHCHD10</text>
<svg x="59.20" y="508.40" width="86.80" height="16.80" viewBox="59.20 508.40 86.80 16.80" overflow="hidden">
<rect x="59.20" y="508.40" width="86.80" height="16.80" fill="#aeaee0" />
<rect x="59.20" y="508.40" width="86.80" height="16.80" fill="#aeaee0" />
<g filter="url(#b06)"><rect x="67.55" y="507" width="16.50" height="20" fill="#7270c6"/></g>
<g filter="url(#b06)"><rect x="85.75" y="507" width="16.50" height="20" fill="#7270c6"/></g>
<g filter="url(#b06)"><rect x="104.95" y="507" width="16.50" height="20" fill="#7270c6"/></g>
<g filter="url(#b06)"><rect x="123.35" y="507" width="16.50" height="20" fill="#7270c6"/></g>
<g filter="url(#b06)"><rect x="67.80" y="509.75" width="16.00" height="4.50" rx="1.35" fill="#5654b6" opacity="0.55"/></g>
<g filter="url(#b06)"><rect x="86.00" y="509.75" width="16.00" height="4.50" rx="1.35" fill="#5654b6" opacity="0.55"/></g>
<g filter="url(#b06)"><rect x="105.20" y="509.75" width="16.00" height="4.50" rx="1.35" fill="#5654b6" opacity="0.55"/></g>
<g filter="url(#b06)"><rect x="123.60" y="509.75" width="16.00" height="4.50" rx="1.35" fill="#5654b6" opacity="0.55"/></g>
<g filter="url(#b06)"><rect x="67.80" y="518.25" width="16.00" height="2.50" rx="0.75" fill="#5a58b8" opacity="0.35"/></g>
<g filter="url(#b06)"><rect x="86.00" y="518.25" width="16.00" height="2.50" rx="0.75" fill="#5a58b8" opacity="0.35"/></g>
<g filter="url(#b06)"><rect x="105.20" y="518.25" width="16.00" height="2.50" rx="0.75" fill="#5a58b8" opacity="0.35"/></g>
<g filter="url(#b06)"><rect x="123.60" y="518.25" width="16.00" height="2.50" rx="0.75" fill="#5a58b8" opacity="0.35"/></g>
<g filter="url(#b06)"><rect x="82.80" y="508" width="3.60" height="18" fill="#b8b8ea" opacity="0.85"/></g>
<g filter="url(#b06)"><rect x="101.80" y="508" width="3.60" height="18" fill="#b8b8ea" opacity="0.85"/></g>
<g filter="url(#b06)"><rect x="120.80" y="508" width="3.60" height="18" fill="#b8b8ea" opacity="0.85"/></g>
</svg>
<rect x="59.20" y="508.40" width="86.80" height="16.80" fill="none" stroke="#2a2a2a" stroke-width="0.9" />
<svg x="59.20" y="528.40" width="86.80" height="18.80" viewBox="59.20 528.40 86.80 18.80" overflow="hidden">
<rect x="59.20" y="528.40" width="86.80" height="18.80" fill="#ffffff" />
<g filter="url(#b08)"><rect x="68.50" y="535.10" width="15.00" height="4.60" rx="1.38" fill="#000" opacity="1"/></g>
<g filter="url(#b08)"><rect x="87.40" y="535.60" width="14.00" height="4.40" rx="1.32" fill="#000" opacity="1"/></g>
<g filter="url(#b08)"><rect x="104.40" y="534.30" width="16.00" height="6.60" rx="1.98" fill="#000" opacity="1"/></g>
<g filter="url(#b08)"><rect x="122.40" y="534.30" width="16.00" height="6.60" rx="1.98" fill="#000" opacity="1"/></g>
</svg>
<rect x="59.20" y="528.40" width="86.80" height="18.80" fill="none" stroke="#2a2a2a" stroke-width="0.9" />
<svg x="59.20" y="550.40" width="86.80" height="18.40" viewBox="59.20 550.40 86.80 18.40" overflow="hidden">
<rect x="59.20" y="550.40" width="86.80" height="18.40" fill="#ffffff" />
<g filter="url(#b08)"><rect x="69.50" y="552.50" width="13.00" height="3.40" rx="1.02" fill="#000" opacity="1"/></g>
<g filter="url(#b08)"><rect x="87.90" y="552.50" width="13.00" height="3.40" rx="1.02" fill="#000" opacity="1"/></g>
<g filter="url(#b08)"><rect x="67.50" y="559.25" width="17.00" height="7.50" rx="2.25" fill="#000" opacity="1"/></g>
<g filter="url(#b08)"><rect x="85.90" y="559.25" width="17.00" height="7.50" rx="2.25" fill="#000" opacity="1"/></g>
<g filter="url(#b08)"><rect x="105.90" y="561.90" width="13.00" height="2.60" rx="0.78" fill="#555" opacity="0.7"/></g>
<g filter="url(#b08)"><rect x="124.40" y="562.10" width="12.00" height="2.60" rx="0.78" fill="#555" opacity="0.7"/></g>
</svg>
<rect x="59.20" y="550.40" width="86.80" height="18.40" fill="none" stroke="#2a2a2a" stroke-width="0.9" />
<svg x="60.00" y="573.40" width="87.60" height="19.00" viewBox="60.00 573.40 87.60 19.00" overflow="hidden">
<rect x="60.00" y="573.40" width="87.60" height="19.00" fill="#a8a8a8" />
<defs><linearGradient id="gc2h" x1="0" x2="1" y1="0" y2="0"><stop offset="0" stop-color="#9a9a9a"/><stop offset="0.5" stop-color="#a8a8a8"/><stop offset="1" stop-color="#bdbdbd"/></linearGradient></defs>
<rect x="60.00" y="573.40" width="87.60" height="19.00" fill="url(#gc2h)" />
<g filter="url(#b1)"><rect x="69.00" y="582.85" width="14.00" height="3.50" rx="1.05" fill="#555" opacity="0.7"/></g>
<g filter="url(#b1)"><rect x="87.40" y="582.85" width="14.00" height="3.50" rx="1.05" fill="#555" opacity="0.7"/></g>
<g filter="url(#b08)"><rect x="105.50" y="581.10" width="15.00" height="7.00" rx="2.10" fill="#000" opacity="1"/></g>
<g filter="url(#b08)"><rect x="124.10" y="582.05" width="13.00" height="5.50" rx="1.65" fill="#000" opacity="1"/></g>
</svg>
<rect x="60.00" y="573.40" width="87.60" height="19.00" fill="none" stroke="#2a2a2a" stroke-width="0.9" />
<svg x="60.00" y="595.60" width="87.60" height="18.80" viewBox="60.00 595.60 87.60 18.80" overflow="hidden">
<rect x="60.00" y="595.60" width="87.60" height="18.80" fill="#c8c8c8" />
<defs><linearGradient id="gc10h" x1="0" x2="1" y1="0" y2="0"><stop offset="0" stop-color="#bdbdbd"/><stop offset="1" stop-color="#d6d6d6"/></linearGradient></defs>
<rect x="60.00" y="595.60" width="87.60" height="19.00" fill="url(#gc10h)" />
<g filter="url(#b1)"><rect x="69.00" y="600.75" width="14.00" height="3.50" rx="1.05" fill="#777" opacity="0.6"/></g>
<g filter="url(#b15)"><rect x="86.90" y="601.50" width="15.00" height="6.00" rx="1.80" fill="#666" opacity="0.6"/></g>
<g filter="url(#b08)"><rect x="103.50" y="597.30" width="19.00" height="15.00" rx="4.50" fill="#000" opacity="1"/></g>
<g filter="url(#b08)"><rect x="122.50" y="598.05" width="18.00" height="13.50" rx="4.05" fill="#000" opacity="1"/></g>
</svg>
<rect x="60.00" y="595.60" width="87.60" height="18.80" fill="none" stroke="#2a2a2a" stroke-width="0.9" />
<svg x="157.40" y="508.40" width="88.60" height="16.80" viewBox="157.40 508.40 88.60 16.80" overflow="hidden">
<rect x="157.40" y="508.40" width="88.60" height="16.80" fill="#a0a0dc" />
<rect x="157.40" y="508.40" width="88.60" height="16.80" fill="#a0a0dc" />
<g filter="url(#b06)"><rect x="163.60" y="507" width="16.00" height="20" fill="#9494d8"/></g>
<g filter="url(#b06)"><rect x="183.40" y="507" width="16.00" height="20" fill="#9494d8"/></g>
<g filter="url(#b06)"><rect x="203.20" y="507" width="16.00" height="20" fill="#9494d8"/></g>
<g filter="url(#b06)"><rect x="223.00" y="507" width="16.00" height="20" fill="#9494d8"/></g>
<g filter="url(#b06)"><rect x="162.10" y="511.75" width="19.00" height="9.50" rx="2.85" fill="#3434aa" opacity="0.95"/></g>
<g filter="url(#b06)"><rect x="182.40" y="513.50" width="18.00" height="6.00" rx="1.80" fill="#3434aa" opacity="0.95"/></g>
<g filter="url(#b06)"><rect x="202.20" y="513.25" width="18.00" height="6.50" rx="1.95" fill="#3434aa" opacity="0.95"/></g>
<g filter="url(#b06)"><rect x="222.00" y="513.25" width="18.00" height="6.50" rx="1.95" fill="#3434aa" opacity="0.95"/></g>
<g filter="url(#b06)"><rect x="157.10" y="508" width="2.80" height="18" fill="#b8b8ea" opacity="0.85"/></g>
<g filter="url(#b06)"><rect x="180.10" y="508" width="2.80" height="18" fill="#b8b8ea" opacity="0.85"/></g>
<g filter="url(#b06)"><rect x="199.90" y="508" width="2.80" height="18" fill="#b8b8ea" opacity="0.85"/></g>
<g filter="url(#b06)"><rect x="219.70" y="508" width="2.80" height="18" fill="#b8b8ea" opacity="0.85"/></g>
<g filter="url(#b06)"><rect x="243.40" y="508" width="2.80" height="18" fill="#b8b8ea" opacity="0.85"/></g>
</svg>
<rect x="157.40" y="508.40" width="88.60" height="16.80" fill="none" stroke="#2a2a2a" stroke-width="0.9" />
<svg x="157.40" y="528.40" width="88.60" height="18.80" viewBox="157.40 528.40 88.60 18.80" overflow="hidden">
<rect x="157.40" y="528.40" width="88.60" height="18.80" fill="#ffffff" />
<g filter="url(#b08)"><rect x="162.60" y="536.50" width="18.00" height="4.20" rx="1.26" fill="#000" opacity="1"/></g>
<g filter="url(#b08)"><rect x="182.90" y="536.60" width="17.00" height="4.00" rx="1.20" fill="#000" opacity="1"/></g>
<g filter="url(#b08)"><rect x="202.20" y="536.30" width="18.00" height="4.60" rx="1.38" fill="#000" opacity="1"/></g>
<g filter="url(#b08)"><path d="M222.50,537.00 Q231.50,536.04 240.50,535.00 L240.50,536.20 Q231.50,539.32 222.50,540.60 Z" fill="#000" opacity="0.95"/></g>
</svg>
<rect x="157.40" y="528.40" width="88.60" height="18.80" fill="none" stroke="#2a2a2a" stroke-width="0.9" />
<svg x="157.40" y="550.40" width="88.60" height="18.40" viewBox="157.40 550.40 88.60 18.40" overflow="hidden">
<rect x="157.40" y="550.40" width="88.60" height="18.40" fill="#ffffff" />
<g filter="url(#b08)"><rect x="162.60" y="557.40" width="18.00" height="4.00" rx="1.20" fill="#000" opacity="1"/></g>
<g filter="url(#b08)"><rect x="182.40" y="557.10" width="18.00" height="4.20" rx="1.26" fill="#000" opacity="1"/></g>
<g filter="url(#b1)"><rect x="204.20" y="558.40" width="14.00" height="2.00" rx="0.60" fill="#999" opacity="0.5"/></g>
<g filter="url(#b1)"><rect x="224.00" y="557.70" width="14.00" height="1.80" rx="0.54" fill="#bbb" opacity="0.4"/></g>
</svg>
<rect x="157.40" y="550.40" width="88.60" height="18.40" fill="none" stroke="#2a2a2a" stroke-width="0.9" />
<svg x="157.40" y="573.40" width="89.00" height="19.00" viewBox="157.40 573.40 89.00 19.00" overflow="hidden">
<rect x="157.40" y="573.40" width="89.00" height="19.00" fill="#ededed" />
<g filter="url(#b1)"><rect x="166.00" y="583.55" width="14.00" height="2.50" rx="0.75" fill="#bbb" opacity="0.5"/></g>
<g filter="url(#b1)"><rect x="184.00" y="583.10" width="16.00" height="3.00" rx="0.90" fill="#888" opacity="0.6"/></g>
<g filter="url(#b08)"><rect x="203.00" y="581.85" width="17.00" height="5.50" rx="1.65" fill="#000" opacity="1"/></g>
<g filter="url(#b08)"><path d="M222.50,583.40 Q231.50,582.44 240.50,581.30 L240.50,582.30 Q231.50,585.32 222.50,586.60 Z" fill="#444" opacity="0.8"/></g>
</svg>
<rect x="157.40" y="573.40" width="89.00" height="19.00" fill="none" stroke="#2a2a2a" stroke-width="0.9" />
<svg x="157.40" y="595.60" width="89.00" height="18.80" viewBox="157.40 595.60 89.00 18.80" overflow="hidden">
<rect x="157.40" y="595.60" width="89.00" height="18.80" fill="#e2e2e2" />
<g filter="url(#b1)"><rect x="166.00" y="603.80" width="14.00" height="2.00" rx="0.60" fill="#bbb" opacity="0.4"/></g>
<g filter="url(#b1)"><rect x="185.00" y="603.80" width="14.00" height="2.00" rx="0.60" fill="#bbb" opacity="0.4"/></g>
<g filter="url(#b08)"><rect x="203.50" y="603.30" width="16.00" height="4.20" rx="1.26" fill="#000" opacity="1"/></g>
<g filter="url(#b08)"><path d="M222.50,604.30 Q231.00,603.10 239.50,601.30 L239.50,602.30 Q231.00,605.70 222.50,607.30 Z" fill="#666" opacity="0.75"/></g>
</svg>
<rect x="157.40" y="595.60" width="89.00" height="18.80" fill="none" stroke="#2a2a2a" stroke-width="0.9" />
<svg x="257.40" y="508.40" width="88.20" height="16.80" viewBox="257.40 508.40 88.20 16.80" overflow="hidden">
<rect x="257.40" y="508.40" width="88.20" height="16.80" fill="#a2a2dc" />
<rect x="257.40" y="508.40" width="88.20" height="16.80" fill="#a2a2dc" />
<g filter="url(#b06)"><rect x="263.60" y="507" width="16.00" height="20" fill="#8a8ad4"/></g>
<g filter="url(#b06)"><rect x="283.20" y="507" width="16.00" height="20" fill="#8a8ad4"/></g>
<g filter="url(#b06)"><rect x="302.40" y="507" width="16.00" height="20" fill="#8a8ad4"/></g>
<g filter="url(#b06)"><rect x="321.60" y="507" width="16.00" height="20" fill="#8a8ad4"/></g>
<g filter="url(#b06)"><rect x="262.60" y="513.40" width="18.00" height="4.20" rx="1.26" fill="#3c3cb0" opacity="0.92"/></g>
<g filter="url(#b06)"><rect x="282.20" y="513.40" width="18.00" height="4.20" rx="1.26" fill="#3c3cb0" opacity="0.92"/></g>
<g filter="url(#b06)"><rect x="301.40" y="513.40" width="18.00" height="4.20" rx="1.26" fill="#3c3cb0" opacity="0.92"/></g>
<g filter="url(#b06)"><rect x="320.60" y="513.40" width="18.00" height="4.20" rx="1.26" fill="#3c3cb0" opacity="0.92"/></g>
<g filter="url(#b06)"><rect x="262.60" y="520.00" width="18.00" height="2.00" rx="0.60" fill="#6a6ac8" opacity="0.5"/></g>
<g filter="url(#b06)"><rect x="282.20" y="520.00" width="18.00" height="2.00" rx="0.60" fill="#6a6ac8" opacity="0.5"/></g>
<g filter="url(#b06)"><rect x="301.40" y="520.00" width="18.00" height="2.00" rx="0.60" fill="#6a6ac8" opacity="0.5"/></g>
<g filter="url(#b06)"><rect x="320.60" y="520.00" width="18.00" height="2.00" rx="0.60" fill="#6a6ac8" opacity="0.5"/></g>
<g filter="url(#b06)"><rect x="257.10" y="508" width="2.80" height="18" fill="#b8b8ea" opacity="0.85"/></g>
<g filter="url(#b06)"><rect x="280.00" y="508" width="2.80" height="18" fill="#b8b8ea" opacity="0.85"/></g>
<g filter="url(#b06)"><rect x="299.40" y="508" width="2.80" height="18" fill="#b8b8ea" opacity="0.85"/></g>
<g filter="url(#b06)"><rect x="318.60" y="508" width="2.80" height="18" fill="#b8b8ea" opacity="0.85"/></g>
<g filter="url(#b06)"><rect x="336.20" y="508" width="2.80" height="18" fill="#b8b8ea" opacity="0.85"/></g>
</svg>
<rect x="257.40" y="508.40" width="88.20" height="16.80" fill="none" stroke="#2a2a2a" stroke-width="0.9" />
<svg x="257.40" y="528.40" width="88.20" height="18.80" viewBox="257.40 528.40 88.20 18.80" overflow="hidden">
<rect x="257.40" y="528.40" width="88.20" height="18.80" fill="#ffffff" />
<g filter="url(#b1)"><rect x="263.60" y="536.70" width="16.00" height="3.00" rx="0.90" fill="#888" opacity="0.7"/></g>
<g filter="url(#b1)"><rect x="283.20" y="537.10" width="16.00" height="2.60" rx="0.78" fill="#aaa" opacity="0.6"/></g>
<g filter="url(#b1)"><rect x="302.40" y="535.80" width="16.00" height="4.00" rx="1.20" fill="#333" opacity="0.85"/></g>
<g filter="url(#b1)"><rect x="321.60" y="536.90" width="16.00" height="3.00" rx="0.90" fill="#999" opacity="0.7"/></g>
</svg>
<rect x="257.40" y="528.40" width="88.20" height="18.80" fill="none" stroke="#2a2a2a" stroke-width="0.9" />
<svg x="257.40" y="550.40" width="88.20" height="18.40" viewBox="257.40 550.40 88.20 18.40" overflow="hidden">
<rect x="257.40" y="550.40" width="88.20" height="18.40" fill="#ffffff" />
<g filter="url(#b1)"><rect x="263.10" y="557.60" width="17.00" height="3.60" rx="1.08" fill="#222" opacity="0.9"/></g>
<g filter="url(#b1)"><rect x="283.20" y="558.00" width="16.00" height="3.20" rx="0.96" fill="#666" opacity="0.8"/></g>
<g filter="url(#b1)"><rect x="303.40" y="559.25" width="14.00" height="1.50" rx="0.45" fill="#ddd" opacity="0.4"/></g>
<g filter="url(#b1)"><rect x="322.60" y="559.25" width="14.00" height="1.50" rx="0.45" fill="#ddd" opacity="0.4"/></g>
</svg>
<rect x="257.40" y="550.40" width="88.20" height="18.40" fill="none" stroke="#2a2a2a" stroke-width="0.9" />
<svg x="257.40" y="573.40" width="88.20" height="19.00" viewBox="257.40 573.40 88.20 19.00" overflow="hidden">
<rect x="257.40" y="573.40" width="88.20" height="19.00" fill="#ececec" />
<g filter="url(#b1)"><rect x="264.10" y="581.70" width="15.00" height="2.60" rx="0.78" fill="#aaa" opacity="0.6"/></g>
<g filter="url(#b1)"><rect x="283.20" y="580.90" width="16.00" height="3.40" rx="1.02" fill="#555" opacity="0.8"/></g>
<g filter="url(#b1)"><rect x="302.90" y="581.60" width="15.00" height="3.20" rx="0.96" fill="#777" opacity="0.7"/></g>
<g filter="url(#b1)"><rect x="321.10" y="581.30" width="17.00" height="4.20" rx="1.26" fill="#333" opacity="0.9"/></g>
</svg>
<rect x="257.40" y="573.40" width="88.20" height="19.00" fill="none" stroke="#2a2a2a" stroke-width="0.9" />
<svg x="257.40" y="595.60" width="88.20" height="18.80" viewBox="257.40 595.60 88.20 18.80" overflow="hidden">
<rect x="257.40" y="595.60" width="88.20" height="18.80" fill="#e6e6e6" />
<g filter="url(#b1)"><rect x="264.60" y="604.20" width="14.00" height="2.00" rx="0.60" fill="#bbb" opacity="0.5"/></g>
<g filter="url(#b1)"><rect x="283.70" y="603.90" width="15.00" height="2.20" rx="0.66" fill="#aaa" opacity="0.5"/></g>
<g filter="url(#b1)"><rect x="302.40" y="603.20" width="16.00" height="4.40" rx="1.32" fill="#111" opacity="0.95"/></g>
<g filter="url(#b1)"><rect x="322.10" y="604.30" width="15.00" height="3.00" rx="0.90" fill="#888" opacity="0.7"/></g>
</svg>
<rect x="257.40" y="595.60" width="88.20" height="18.80" fill="none" stroke="#2a2a2a" stroke-width="0.9" />
<line x1="349.00" y1="538.60" x2="353.80" y2="538.60" stroke="#222" stroke-width="0.8" />
<text x="356.00" y="541.60" font-size="7.8" fill="#1a1a1a" stroke="#1a1a1a" stroke-width="0.2" >33</text>
<line x1="349.00" y1="558.60" x2="353.80" y2="558.60" stroke="#222" stroke-width="0.8" />
<text x="356.00" y="561.60" font-size="7.8" fill="#1a1a1a" stroke="#1a1a1a" stroke-width="0.2" >23</text>
<line x1="349.00" y1="582.60" x2="353.80" y2="582.60" stroke="#222" stroke-width="0.8" />
<text x="356.00" y="585.60" font-size="7.8" fill="#1a1a1a" stroke="#1a1a1a" stroke-width="0.2" >16</text>
<line x1="349.00" y1="606.00" x2="353.80" y2="606.00" stroke="#222" stroke-width="0.8" />
<text x="356.00" y="610.00" font-size="7.8" fill="#1a1a1a" stroke="#1a1a1a" stroke-width="0.2" >14</text>
<text x="350.00" y="624.60" font-size="6.6" fill="#1a1a1a" stroke="#1a1a1a" stroke-width="0.2" >kDa</text>
<text x="103.00" y="628.40" font-size="9.3" fill="#1a1a1a" stroke="#1a1a1a" stroke-width="0.2" text-anchor="middle" >Heart</text>
<text x="203.20" y="628.60" font-size="9.3" fill="#1a1a1a" stroke="#1a1a1a" stroke-width="0.2" text-anchor="middle" >Skeletal muscle</text>
<text x="301.80" y="628.60" font-size="9.3" fill="#1a1a1a" stroke="#1a1a1a" stroke-width="0.2" text-anchor="middle" >Liver</text>
<line x1="73.30" y1="502.80" x2="99.80" y2="502.80" stroke="#555" stroke-width="0.9" />
<line x1="111.80" y1="502.80" x2="138.00" y2="502.80" stroke="#555" stroke-width="0.9" />
<line x1="167.00" y1="502.80" x2="193.60" y2="502.80" stroke="#555" stroke-width="0.9" />
<line x1="207.00" y1="502.80" x2="233.00" y2="502.80" stroke="#555" stroke-width="0.9" />
<line x1="270.00" y1="502.80" x2="296.60" y2="502.80" stroke="#555" stroke-width="0.9" />
<line x1="310.00" y1="502.80" x2="336.40" y2="502.80" stroke="#555" stroke-width="0.9" />
<text transform="translate(82.50,499.00) rotate(-36)" x="0" y="0" font-size="7.8" fill="#1a1a1a" stroke="#1a1a1a" stroke-width="0.2" >RNaseH1<tspan font-size="4.8" dy="-2.8">+/+</tspan></text>
<text transform="translate(121.50,499.00) rotate(-36)" x="0" y="0" font-size="7.8" fill="#1a1a1a" stroke="#1a1a1a" stroke-width="0.2" >RNaseH1<tspan font-size="4.8" dy="-2.8">-/-</tspan></text>
<text transform="translate(179.00,498.50) rotate(-36)" x="0" y="0" font-size="7.8" fill="#1a1a1a" stroke="#1a1a1a" stroke-width="0.2" ><tspan font-style="italic">Tfam</tspan><tspan font-size="4.8" dy="-2.8">+/+</tspan></text>
<text transform="translate(220.00,498.50) rotate(-36)" x="0" y="0" font-size="7.8" fill="#1a1a1a" stroke="#1a1a1a" stroke-width="0.2" ><tspan font-style="italic">Tfam</tspan><tspan font-size="4.8" dy="-2.8">-/-</tspan></text>
<text transform="translate(281.00,499.00) rotate(-36)" x="0" y="0" font-size="7.8" fill="#1a1a1a" stroke="#1a1a1a" stroke-width="0.2" ><tspan font-style="italic">vehicle</tspan></text>
<text transform="translate(322.00,499.00) rotate(-36)" x="0" y="0" font-size="7.8" fill="#1a1a1a" stroke="#1a1a1a" stroke-width="0.2" ><tspan font-style="italic">IMT</tspan></text>
<text x="4.00" y="252.30" font-size="14" fill="#222" font-weight="bold" stroke="#222" stroke-width="0.3">C</text>
<svg x="15.00" y="293.60" width="33.40" height="128.20" viewBox="15.00 293.60 33.40 128.20" overflow="hidden">
<rect x="15.00" y="293.60" width="33.40" height="128.20" fill="url(#vg1)" />
<g filter="url(#b1)"><rect x="18.00" y="291.60" width="12.00" height="132.20" fill="url(#vg2)"/></g>
<g filter="url(#b1)"><rect x="32.00" y="291.60" width="12.00" height="132.20" fill="url(#vg2)"/></g>
<g filter="url(#b1)"><rect x="29.50" y="291.60" width="3" height="132.20" fill="#d8d8f8" opacity="0.7"/></g>
<g filter="url(#b1)"><rect x="44.00" y="291.60" width="3" height="132.20" fill="#d8d8f8" opacity="0.7"/></g>
<g filter="url(#b1)"><rect x="18.50" y="304.00" width="11.00" height="2.00" rx="1" fill="#5a64cc" opacity="0.5"/></g>
<g filter="url(#b1)"><rect x="32.50" y="304.00" width="11.00" height="2.00" rx="1" fill="#5a64cc" opacity="0.5"/></g>
<g filter="url(#b1)"><rect x="18.50" y="312.80" width="11.00" height="3.60" rx="1" fill="#3c48bc" opacity="0.9"/></g>
<g filter="url(#b1)"><rect x="32.50" y="312.80" width="11.00" height="3.60" rx="1" fill="#3c48bc" opacity="0.8"/></g>
<g filter="url(#b1)"><rect x="18.50" y="319.80" width="11.00" height="2.40" rx="1" fill="#4a54c0" opacity="0.7"/></g>
<g filter="url(#b1)"><rect x="32.50" y="319.80" width="11.00" height="2.40" rx="1" fill="#4a54c0" opacity="0.6"/></g>
<g filter="url(#b1)"><rect x="18.50" y="325.20" width="11.00" height="3.60" rx="1" fill="#3c48bc" opacity="0.9"/></g>
<g filter="url(#b1)"><rect x="32.50" y="325.20" width="11.00" height="3.60" rx="1" fill="#3c48bc" opacity="0.8"/></g>
<g filter="url(#b1)"><rect x="18.50" y="331.70" width="11.00" height="2.60" rx="1" fill="#4a54c0" opacity="0.7"/></g>
<g filter="url(#b1)"><rect x="32.50" y="331.70" width="11.00" height="2.60" rx="1" fill="#4a54c0" opacity="0.6"/></g>
<g filter="url(#b1)"><rect x="18.50" y="337.40" width="11.00" height="2.20" rx="1" fill="#5a64cc" opacity="0.5"/></g>
<g filter="url(#b1)"><rect x="32.50" y="337.40" width="11.00" height="2.20" rx="1" fill="#5a64cc" opacity="0.5"/></g>
<g filter="url(#b1)"><rect x="18.50" y="346.30" width="11.00" height="3.40" rx="1" fill="#4050c0" opacity="0.8"/></g>
<g filter="url(#b1)"><rect x="32.50" y="346.30" width="11.00" height="3.40" rx="1" fill="#4050c0" opacity="0.7"/></g>
<g filter="url(#b2)"><rect x="18.50" y="365.00" width="11.00" height="10.00" rx="1" fill="#5a5ad0" opacity="0.5"/></g>
<g filter="url(#b2)"><rect x="32.50" y="365.00" width="11.00" height="10.00" rx="1" fill="#5a5ad0" opacity="0.5"/></g>
<g filter="url(#b2)"><rect x="18.50" y="382.00" width="11.00" height="8.00" rx="1" fill="#6a6ad4" opacity="0.35"/></g>
<g filter="url(#b2)"><rect x="32.50" y="382.00" width="11.00" height="8.00" rx="1" fill="#6a6ad4" opacity="0.35"/></g>
</svg>
<rect x="15.00" y="293.60" width="33.40" height="128.20" fill="none" stroke="#3a3a3a" stroke-width="0.8" />
<svg x="53.00" y="293.60" width="34.40" height="128.20" viewBox="53.00 293.60 34.40 128.20" overflow="hidden">
<rect x="53.00" y="293.60" width="34.40" height="128.20" fill="url(#vg3)" />
<g filter="url(#b1)"><rect x="57.00" y="291.60" width="12.00" height="132.20" fill="url(#vg4)"/></g>
<g filter="url(#b1)"><rect x="73.00" y="291.60" width="12.00" height="132.20" fill="url(#vg4)"/></g>
<g filter="url(#b1)"><rect x="69.50" y="291.60" width="3" height="132.20" fill="#ffffff" opacity="0.2"/></g>
<g filter="url(#b15)"><rect x="57.50" y="295.50" width="11.00" height="7.00" rx="1" fill="#8a2040" opacity="0.85"/></g>
<g filter="url(#b15)"><rect x="73.50" y="295.50" width="11.00" height="7.00" rx="1" fill="#8a2040" opacity="0.3"/></g>
<g filter="url(#b1)"><rect x="57.50" y="307.50" width="11.00" height="7.00" rx="1" fill="#600018" opacity="0.95"/></g>
<g filter="url(#b1)"><rect x="73.50" y="307.50" width="11.00" height="7.00" rx="1" fill="#600018" opacity="0.85"/></g>
<g filter="url(#b08)"><rect x="57.50" y="318.40" width="11.00" height="3.20" rx="1" fill="#701020" opacity="0.9"/></g>
<g filter="url(#b08)"><rect x="73.50" y="318.40" width="11.00" height="3.20" rx="1" fill="#701020" opacity="0.75"/></g>
<g filter="url(#b1)"><rect x="57.50" y="326.40" width="11.00" height="2.20" rx="1" fill="#6a88c8" opacity="0.7"/></g>
<g filter="url(#b1)"><rect x="73.50" y="326.40" width="11.00" height="2.20" rx="1" fill="#6a88c8" opacity="0.6"/></g>
<g filter="url(#b1)"><rect x="57.50" y="333.00" width="11.00" height="2.00" rx="1" fill="#7a94cc" opacity="0.5"/></g>
<g filter="url(#b1)"><rect x="73.50" y="333.00" width="11.00" height="2.00" rx="1" fill="#7a94cc" opacity="0.4"/></g>
<g filter="url(#b1)"><rect x="57.50" y="345.50" width="11.00" height="3.00" rx="1" fill="#7a94cc" opacity="0.6"/></g>
<g filter="url(#b1)"><rect x="73.50" y="345.50" width="11.00" height="3.00" rx="1" fill="#7a94cc" opacity="0.4"/></g>
<g filter="url(#b2)"><ellipse cx="63.00" cy="368" rx="7" ry="5" fill="#4a5078" opacity="0.35"/></g>
<g filter="url(#b1)"><path d="M55.50,376 Q63.00,364 70.50,376 Z" fill="#5a0820"/></g>
<g filter="url(#b2)"><ellipse cx="79.00" cy="368" rx="7" ry="5" fill="#4a5078" opacity="0.35"/></g>
<g filter="url(#b1)"><path d="M71.50,376 Q79.00,364 86.50,376 Z" fill="#5a0820"/></g>
</svg>
<rect x="53.00" y="293.60" width="34.40" height="128.20" fill="none" stroke="#3a3a3a" stroke-width="0.8" />
<svg x="92.40" y="293.60" width="35.60" height="128.20" viewBox="92.40 293.60 35.60 128.20" overflow="hidden">
<rect x="92.40" y="293.60" width="35.60" height="128.20" fill="url(#vg5)" />
<g filter="url(#b1)"><rect x="96.50" y="291.60" width="12.00" height="132.20" fill="url(#vg6)"/></g>
<g filter="url(#b1)"><rect x="111.50" y="291.60" width="12.00" height="132.20" fill="url(#vg6)"/></g>
<g filter="url(#b1)"><rect x="109.00" y="291.60" width="3" height="132.20" fill="#ffffff" opacity="0.2"/></g>
<g filter="url(#b06)"><rect x="97.00" y="293.75" width="11.00" height="2.50" rx="1" fill="#3a2818" opacity="0.9"/></g>
<g filter="url(#b06)"><rect x="112.00" y="293.75" width="11.00" height="2.50" rx="1" fill="#3a2818" opacity="0.3"/></g>
<g filter="url(#b2)"><rect x="97.00" y="297.00" width="11.00" height="12.00" rx="1" fill="#8a6a48" opacity="0.6"/></g>
<g filter="url(#b2)"><rect x="112.00" y="297.00" width="11.00" height="12.00" rx="1" fill="#8a6a48" opacity="0.05"/></g>
<g filter="url(#b15)"><rect x="97.00" y="311.00" width="11.00" height="6.00" rx="1" fill="#90704c" opacity="0.6"/></g>
<g filter="url(#b15)"><rect x="112.00" y="311.00" width="11.00" height="6.00" rx="1" fill="#90704c" opacity="0.15"/></g>
<g filter="url(#b1)"><rect x="97.00" y="318.80" width="11.00" height="2.40" rx="1" fill="#7a5a30" opacity="0.7"/></g>
<g filter="url(#b1)"><rect x="112.00" y="318.80" width="11.00" height="2.40" rx="1" fill="#7a5a30" opacity="0.3"/></g>
<g filter="url(#b1)"><rect x="97.00" y="324.20" width="11.00" height="2.60" rx="1" fill="#6a4a20" opacity="0.75"/></g>
<g filter="url(#b1)"><rect x="112.00" y="324.20" width="11.00" height="2.60" rx="1" fill="#6a4a20" opacity="0.35"/></g>
<g filter="url(#b1)"><rect x="97.00" y="330.20" width="11.00" height="3.60" rx="1" fill="#4a3010" opacity="0.9"/></g>
<g filter="url(#b1)"><rect x="112.00" y="330.20" width="11.00" height="3.60" rx="1" fill="#4a3010" opacity="0.45"/></g>
<g filter="url(#b1)"><rect x="97.00" y="337.50" width="11.00" height="3.00" rx="1" fill="#6a5030" opacity="0.75"/></g>
<g filter="url(#b1)"><rect x="112.00" y="337.50" width="11.00" height="3.00" rx="1" fill="#6a5030" opacity="0.4"/></g>
<g filter="url(#b1)"><rect x="97.00" y="347.25" width="11.00" height="6.50" rx="1" fill="#24160a" opacity="1"/></g>
<g filter="url(#b1)"><rect x="112.00" y="347.25" width="11.00" height="6.50" rx="1" fill="#24160a" opacity="0.7"/></g>
<g filter="url(#b1)"><rect x="112.00" y="348.00" width="11.00" height="5.00" rx="1" fill="#6a4a20" opacity="0.6"/></g>
</svg>
<rect x="92.40" y="293.60" width="35.60" height="128.20" fill="none" stroke="#3a3a3a" stroke-width="0.8" />
<svg x="161.00" y="293.00" width="32.60" height="130.00" viewBox="161.00 293.00 32.60 130.00" overflow="hidden">
<rect x="161.00" y="293.00" width="32.60" height="130.00" fill="url(#vg7)" />
<g filter="url(#b1)"><rect x="165.00" y="291.00" width="12.00" height="134.00" fill="url(#vg8)"/></g>
<g filter="url(#b1)"><rect x="179.00" y="291.00" width="12.00" height="134.00" fill="url(#vg8)"/></g>
<g filter="url(#b1)"><rect x="176.50" y="291.00" width="3" height="134.00" fill="#ffffff" opacity="0.4"/></g>
<g filter="url(#b1)"><rect x="165.50" y="306.25" width="11.00" height="1.50" rx="1" fill="#7070d0" opacity="0.4"/></g>
<g filter="url(#b1)"><rect x="179.50" y="306.25" width="11.00" height="1.50" rx="1" fill="#7070d0" opacity="0.1"/></g>
<g filter="url(#b06)"><rect x="165.50" y="308.50" width="11.00" height="2.00" rx="1" fill="#4a4ac0" opacity="0.9"/></g>
<g filter="url(#b06)"><rect x="179.50" y="308.50" width="11.00" height="2.00" rx="1" fill="#4a4ac0" opacity="0.15"/></g>
<g filter="url(#b06)"><rect x="165.50" y="312.00" width="11.00" height="2.00" rx="1" fill="#4a4ac0" opacity="0.9"/></g>
<g filter="url(#b06)"><rect x="179.50" y="312.00" width="11.00" height="2.00" rx="1" fill="#4a4ac0" opacity="0.15"/></g>
<g filter="url(#b06)"><rect x="165.50" y="322.50" width="11.00" height="3.00" rx="1" fill="#3a3ab8" opacity="1"/></g>
<g filter="url(#b06)"><rect x="179.50" y="322.50" width="11.00" height="3.00" rx="1" fill="#3a3ab8" opacity="0.85"/></g>
<g filter="url(#b1)"><rect x="165.50" y="332.00" width="11.00" height="2.00" rx="1" fill="#6a6ad0" opacity="0.5"/></g>
<g filter="url(#b1)"><rect x="179.50" y="332.00" width="11.00" height="2.00" rx="1" fill="#6a6ad0" opacity="0.3"/></g>
<g filter="url(#b1)"><rect x="165.50" y="344.50" width="11.00" height="3.00" rx="1" fill="#7a7ad4" opacity="0.6"/></g>
<g filter="url(#b1)"><rect x="179.50" y="344.50" width="11.00" height="3.00" rx="1" fill="#7a7ad4" opacity="0.45"/></g>
<g filter="url(#b2)"><rect x="165.50" y="358.00" width="11.00" height="4.00" rx="1" fill="#9a9ad8" opacity="0.5"/></g>
<g filter="url(#b2)"><rect x="179.50" y="358.00" width="11.00" height="4.00" rx="1" fill="#9a9ad8" opacity="0.4"/></g>
<g filter="url(#b2)"><rect x="165.50" y="368.00" width="11.00" height="10.00" rx="1" fill="#8a7ad4" opacity="0.55"/></g>
<g filter="url(#b2)"><rect x="179.50" y="368.00" width="11.00" height="10.00" rx="1" fill="#8a7ad4" opacity="0.55"/></g>
<g filter="url(#b2)"><rect x="165.50" y="392.00" width="11.00" height="6.00" rx="1" fill="#9a9ad8" opacity="0.5"/></g>
<g filter="url(#b2)"><rect x="179.50" y="392.00" width="11.00" height="6.00" rx="1" fill="#9a9ad8" opacity="0.4"/></g>
<g filter="url(#b2)"><rect x="165.50" y="407.00" width="11.00" height="6.00" rx="1" fill="#a0a0dc" opacity="0.4"/></g>
<g filter="url(#b2)"><rect x="179.50" y="407.00" width="11.00" height="6.00" rx="1" fill="#a0a0dc" opacity="0.3"/></g>
</svg>
<rect x="161.00" y="293.00" width="32.60" height="130.00" fill="none" stroke="#3a3a3a" stroke-width="0.8" />
<svg x="199.00" y="293.00" width="33.40" height="130.00" viewBox="199.00 293.00 33.40 130.00" overflow="hidden">
<rect x="199.00" y="293.00" width="33.40" height="130.00" fill="url(#vg9)" />
<g filter="url(#b1)"><rect x="214.50" y="291.00" width="3" height="134.00" fill="#ffffff" opacity="0.15"/></g>
<g filter="url(#b06)"><rect x="203.00" y="306.00" width="12.00" height="4.00" rx="1" fill="#8a1a40" opacity="0.95"/></g>
<g filter="url(#b06)"><rect x="217.00" y="306.00" width="12.00" height="4.00" rx="1" fill="#8a1a40" opacity="0.6"/></g>
<g filter="url(#b06)"><rect x="203.00" y="316.75" width="12.00" height="2.50" rx="1" fill="#8a2040" opacity="0.7"/></g>
<g filter="url(#b06)"><rect x="217.00" y="316.75" width="12.00" height="2.50" rx="1" fill="#8a2040" opacity="0.2"/></g>
<g filter="url(#b06)"><path d="M203.00,376.20 Q207.00,373.50 209.00,371.20 Q211.00,373.50 215.00,376.20" fill="none" stroke="#5a0a2a" stroke-width="2.0" opacity="1" stroke-linejoin="round"/></g>
<g filter="url(#b1)"><path d="M201.50,392.00 A7.50,8.00 0 0 0 216.50,392.00" fill="none" stroke="#7890d0" stroke-width="1.2" opacity="0.8"/></g>
<g filter="url(#b15)"><ellipse cx="209.00" cy="392.00" rx="7.00" ry="5.50" fill="#1e2e80" opacity="0.95"/></g>
<g filter="url(#b06)"><path d="M217.00,376.20 Q221.00,373.50 223.00,371.20 Q225.00,373.50 229.00,376.20" fill="none" stroke="#5a0a2a" stroke-width="2.0" opacity="1" stroke-linejoin="round"/></g>
<g filter="url(#b1)"><path d="M215.50,392.00 A7.50,8.00 0 0 0 230.50,392.00" fill="none" stroke="#7890d0" stroke-width="1.2" opacity="0.8"/></g>
<g filter="url(#b15)"><ellipse cx="223.00" cy="392.00" rx="7.00" ry="5.50" fill="#1e2e80" opacity="0.95"/></g>
<circle cx="206.9" cy="315.8" r="0.35" fill="#8a2040" opacity="0.6"/>
<circle cx="211.2" cy="318.2" r="0.35" fill="#8a2040" opacity="0.6"/>
<circle cx="219.6" cy="296.6" r="0.35" fill="#8a2040" opacity="0.6"/>
<circle cx="199.4" cy="327.5" r="0.35" fill="#8a2040" opacity="0.6"/>
<circle cx="207.6" cy="303.4" r="0.35" fill="#8a2040" opacity="0.6"/>
<circle cx="231.9" cy="312.8" r="0.35" fill="#8a2040" opacity="0.6"/>
<circle cx="226.6" cy="313.1" r="0.35" fill="#8a2040" opacity="0.6"/>
<circle cx="220.1" cy="300.0" r="0.35" fill="#8a2040" opacity="0.6"/>
<circle cx="220.0" cy="328.7" r="0.35" fill="#8a2040" opacity="0.6"/>
<circle cx="216.3" cy="323.7" r="0.35" fill="#8a2040" opacity="0.6"/>
<circle cx="221.2" cy="296.6" r="0.35" fill="#8a2040" opacity="0.6"/>
<circle cx="224.0" cy="317.6" r="0.35" fill="#8a2040" opacity="0.6"/>
<circle cx="208.9" cy="295.2" r="0.35" fill="#8a2040" opacity="0.6"/>
<circle cx="227.6" cy="312.9" r="0.35" fill="#8a2040" opacity="0.6"/>
<circle cx="222.7" cy="329.2" r="0.35" fill="#8a2040" opacity="0.6"/>
<circle cx="222.6" cy="330.8" r="0.35" fill="#8a2040" opacity="0.6"/>
<circle cx="212.0" cy="326.0" r="0.35" fill="#8a2040" opacity="0.6"/>
<circle cx="213.7" cy="331.4" r="0.35" fill="#8a2040" opacity="0.6"/>
<circle cx="228.0" cy="297.9" r="0.35" fill="#8a2040" opacity="0.6"/>
<circle cx="203.5" cy="302.7" r="0.35" fill="#8a2040" opacity="0.6"/>
<circle cx="230.9" cy="311.4" r="0.35" fill="#8a2040" opacity="0.6"/>
<circle cx="219.7" cy="306.0" r="0.35" fill="#8a2040" opacity="0.6"/>
<circle cx="215.7" cy="309.4" r="0.35" fill="#8a2040" opacity="0.6"/>
<circle cx="210.6" cy="317.4" r="0.35" fill="#8a2040" opacity="0.6"/>
<circle cx="218.3" cy="330.2" r="0.35" fill="#8a2040" opacity="0.6"/>
<circle cx="221.5" cy="331.2" r="0.35" fill="#8a2040" opacity="0.6"/>
<circle cx="227.3" cy="333.6" r="0.35" fill="#8a2040" opacity="0.6"/>
<circle cx="221.2" cy="300.5" r="0.35" fill="#8a2040" opacity="0.6"/>
<circle cx="227.4" cy="332.6" r="0.35" fill="#8a2040" opacity="0.6"/>
<circle cx="228.9" cy="316.8" r="0.35" fill="#8a2040" opacity="0.6"/>
<circle cx="222.6" cy="302.4" r="0.35" fill="#8a2040" opacity="0.6"/>
<circle cx="226.4" cy="316.9" r="0.35" fill="#8a2040" opacity="0.6"/>
<circle cx="208.4" cy="296.5" r="0.35" fill="#8a2040" opacity="0.6"/>
<circle cx="227.2" cy="333.6" r="0.35" fill="#8a2040" opacity="0.6"/>
<circle cx="201.9" cy="326.0" r="0.35" fill="#8a2040" opacity="0.6"/>
<circle cx="212.5" cy="300.0" r="0.35" fill="#8a2040" opacity="0.6"/>
<circle cx="208.7" cy="324.8" r="0.35" fill="#8a2040" opacity="0.6"/>
<circle cx="227.8" cy="295.8" r="0.35" fill="#8a2040" opacity="0.6"/>
<circle cx="219.3" cy="295.8" r="0.35" fill="#8a2040" opacity="0.6"/>
<circle cx="222.7" cy="307.2" r="0.35" fill="#8a2040" opacity="0.6"/>
<circle cx="228.1" cy="333.2" r="0.35" fill="#8a2040" opacity="0.6"/>
<circle cx="215.7" cy="333.9" r="0.35" fill="#8a2040" opacity="0.6"/>
<circle cx="209.2" cy="297.1" r="0.35" fill="#8a2040" opacity="0.6"/>
<circle cx="218.8" cy="295.3" r="0.35" fill="#8a2040" opacity="0.6"/>
<circle cx="205.5" cy="310.3" r="0.35" fill="#8a2040" opacity="0.6"/>
<circle cx="219.1" cy="300.2" r="0.35" fill="#8a2040" opacity="0.6"/>
<circle cx="200.4" cy="328.7" r="0.35" fill="#8a2040" opacity="0.6"/>
<circle cx="209.4" cy="332.3" r="0.35" fill="#8a2040" opacity="0.6"/>
<circle cx="228.6" cy="309.1" r="0.35" fill="#8a2040" opacity="0.6"/>
<circle cx="214.2" cy="314.8" r="0.35" fill="#8a2040" opacity="0.6"/>
<circle cx="220.2" cy="317.8" r="0.35" fill="#8a2040" opacity="0.6"/>
<circle cx="217.5" cy="318.8" r="0.35" fill="#8a2040" opacity="0.6"/>
<circle cx="230.0" cy="314.3" r="0.35" fill="#8a2040" opacity="0.6"/>
<circle cx="213.2" cy="322.8" r="0.35" fill="#8a2040" opacity="0.6"/>
<circle cx="206.8" cy="306.0" r="0.35" fill="#8a2040" opacity="0.6"/>
<circle cx="231.3" cy="314.8" r="0.35" fill="#8a2040" opacity="0.6"/>
<circle cx="217.1" cy="294.5" r="0.35" fill="#8a2040" opacity="0.6"/>
<circle cx="212.7" cy="317.2" r="0.35" fill="#8a2040" opacity="0.6"/>
<circle cx="199.7" cy="318.6" r="0.35" fill="#8a2040" opacity="0.6"/>
<circle cx="219.9" cy="296.4" r="0.35" fill="#8a2040" opacity="0.6"/>
</svg>
<rect x="199.00" y="293.00" width="33.40" height="130.00" fill="none" stroke="#3a3a3a" stroke-width="0.8" />
<svg x="237.00" y="293.00" width="33.60" height="130.00" viewBox="237.00 293.00 33.60 130.00" overflow="hidden">
<rect x="237.00" y="293.00" width="33.60" height="130.00" fill="url(#vg10)" />
<g filter="url(#b1)"><rect x="252.50" y="291.00" width="3" height="134.00" fill="#ffffff" opacity="0.15"/></g>
<g filter="url(#b1)"><rect x="241.00" y="317.00" width="12.00" height="2.00" rx="1" fill="#a08a68" opacity="0.6"/></g>
<g filter="url(#b1)"><rect x="255.00" y="317.00" width="12.00" height="2.00" rx="1" fill="#a08a68" opacity="0.3"/></g>
<g filter="url(#b1)"><rect x="241.00" y="326.00" width="12.00" height="2.00" rx="1" fill="#8a7a58" opacity="0.6"/></g>
<g filter="url(#b1)"><rect x="255.00" y="326.00" width="12.00" height="2.00" rx="1" fill="#8a7a58" opacity="0.3"/></g>
<g filter="url(#b1)"><rect x="241.00" y="333.80" width="12.00" height="2.40" rx="1" fill="#7a6a48" opacity="0.6"/></g>
<g filter="url(#b1)"><rect x="255.00" y="333.80" width="12.00" height="2.40" rx="1" fill="#7a6a48" opacity="0.3"/></g>
<g filter="url(#b06)"><rect x="241.00" y="347.60" width="12.00" height="4.00" rx="1" fill="#6a5a28" opacity="0.95"/></g>
<g filter="url(#b06)"><rect x="255.00" y="347.60" width="12.00" height="4.00" rx="1" fill="#6a5a28" opacity="0.6"/></g>
<g filter="url(#b1)"><path d="M239.50,392.00 A7.50,8.00 0 0 0 254.50,392.00" fill="none" stroke="#7890d0" stroke-width="1.2" opacity="0.8"/></g>
<g filter="url(#b15)"><ellipse cx="247.00" cy="392.00" rx="7.00" ry="5.50" fill="#1e2e84" opacity="0.95"/></g>
<g filter="url(#b1)"><path d="M253.50,392.00 A7.50,8.00 0 0 0 268.50,392.00" fill="none" stroke="#7890d0" stroke-width="1.2" opacity="0.8"/></g>
<g filter="url(#b15)"><ellipse cx="261.00" cy="392.00" rx="7.00" ry="5.50" fill="#1e2e84" opacity="0.95"/></g>
</svg>
<rect x="237.00" y="293.00" width="33.60" height="130.00" fill="none" stroke="#3a3a3a" stroke-width="0.8" />
<svg x="308.40" y="293.60" width="33.20" height="129.40" viewBox="308.40 293.60 33.20 129.40" overflow="hidden">
<rect x="308.40" y="293.60" width="33.20" height="129.40" fill="url(#vg11)" />
<g filter="url(#b1)"><rect x="312.50" y="291.60" width="12.00" height="133.40" fill="url(#vg12)"/></g>
<g filter="url(#b1)"><rect x="326.00" y="291.60" width="12.00" height="133.40" fill="url(#vg12)"/></g>
<g filter="url(#b1)"><rect x="324.00" y="291.60" width="3" height="133.40" fill="#ffffff" opacity="0.55"/></g>
<g filter="url(#b1)"><rect x="313.00" y="304.00" width="11.00" height="2.00" rx="1" fill="#6a6ad0" opacity="0.4"/></g>
<g filter="url(#b1)"><rect x="326.50" y="304.00" width="11.00" height="2.00" rx="1" fill="#6a6ad0" opacity="0.2"/></g>
<g filter="url(#b1)"><rect x="313.00" y="313.70" width="11.00" height="2.60" rx="1" fill="#3a3ab4" opacity="0.8"/></g>
<g filter="url(#b1)"><rect x="326.50" y="313.70" width="11.00" height="2.60" rx="1" fill="#3a3ab4" opacity="0.4"/></g>
<g filter="url(#b1)"><rect x="313.00" y="327.60" width="11.00" height="2.80" rx="1" fill="#4848bc" opacity="0.8"/></g>
<g filter="url(#b1)"><rect x="326.50" y="327.60" width="11.00" height="2.80" rx="1" fill="#4848bc" opacity="0.5"/></g>
<g filter="url(#b1)"><rect x="313.00" y="340.00" width="11.00" height="2.00" rx="1" fill="#5a5ac4" opacity="0.6"/></g>
<g filter="url(#b1)"><rect x="326.50" y="340.00" width="11.00" height="2.00" rx="1" fill="#5a5ac4" opacity="0.4"/></g>
<g filter="url(#b1)"><rect x="313.00" y="350.50" width="11.00" height="3.00" rx="1" fill="#4040b8" opacity="0.85"/></g>
<g filter="url(#b1)"><rect x="326.50" y="350.50" width="11.00" height="3.00" rx="1" fill="#4040b8" opacity="0.6"/></g>
<g filter="url(#b1)"><rect x="313.00" y="361.00" width="11.00" height="2.00" rx="1" fill="#5a5ac4" opacity="0.5"/></g>
<g filter="url(#b1)"><rect x="326.50" y="361.00" width="11.00" height="2.00" rx="1" fill="#5a5ac4" opacity="0.4"/></g>
<g filter="url(#b1)"><rect x="313.00" y="371.00" width="11.00" height="2.00" rx="1" fill="#5a5ac4" opacity="0.5"/></g>
<g filter="url(#b1)"><rect x="326.50" y="371.00" width="11.00" height="2.00" rx="1" fill="#5a5ac4" opacity="0.4"/></g>
<g filter="url(#b1)"><rect x="313.00" y="381.00" width="11.00" height="2.00" rx="1" fill="#5a5ac4" opacity="0.4"/></g>
<g filter="url(#b1)"><rect x="326.50" y="381.00" width="11.00" height="2.00" rx="1" fill="#5a5ac4" opacity="0.3"/></g>
<g filter="url(#b1)"><rect x="313.00" y="395.50" width="11.00" height="3.00" rx="1" fill="#4040b8" opacity="0.85"/></g>
<g filter="url(#b1)"><rect x="326.50" y="395.50" width="11.00" height="3.00" rx="1" fill="#4040b8" opacity="0.6"/></g>
<g filter="url(#b1)"><rect x="313.00" y="400.00" width="11.00" height="2.00" rx="1" fill="#5050c0" opacity="0.6"/></g>
<g filter="url(#b1)"><rect x="326.50" y="400.00" width="11.00" height="2.00" rx="1" fill="#5050c0" opacity="0.4"/></g>
</svg>
<rect x="308.40" y="293.60" width="33.20" height="129.40" fill="none" stroke="#3a3a3a" stroke-width="0.8" />
<svg x="347.40" y="293.60" width="32.00" height="129.40" viewBox="347.40 293.60 32.00 129.40" overflow="hidden">
<rect x="347.40" y="293.60" width="32.00" height="129.40" fill="url(#vg13)" />
<g filter="url(#b1)"><rect x="362.00" y="291.60" width="3" height="133.40" fill="#ffffff" opacity="0.15"/></g>
<g filter="url(#b1)"><rect x="350.50" y="299.00" width="12.00" height="4.00" rx="1" fill="#8a3050" opacity="0.5"/></g>
<g filter="url(#b1)"><rect x="364.50" y="299.00" width="12.00" height="4.00" rx="1" fill="#8a3050" opacity="0.05"/></g>
<g filter="url(#b15)"><rect x="350.50" y="304.50" width="12.00" height="7.00" rx="1" fill="#701030" opacity="0.85"/></g>
<g filter="url(#b15)"><rect x="364.50" y="304.50" width="12.00" height="7.00" rx="1" fill="#701030" opacity="0.3"/></g>
<g filter="url(#b1)"><rect x="350.50" y="318.80" width="12.00" height="2.40" rx="1" fill="#802040" opacity="0.6"/></g>
<g filter="url(#b1)"><rect x="364.50" y="318.80" width="12.00" height="2.40" rx="1" fill="#802040" opacity="0.1"/></g>
<g filter="url(#b06)"><path d="M350.25,378.06 Q356.50,369.31 362.75,378.06 Q356.50,372.83 350.25,378.06 Z" fill="#6a1030" opacity="1"/></g>
<g filter="url(#b1)"><path d="M349.50,395.00 A7.00,8.00 0 0 0 363.50,395.00" fill="none" stroke="#7890d0" stroke-width="1.2" opacity="0.8"/></g>
<g filter="url(#b15)"><ellipse cx="356.50" cy="395.00" rx="6.50" ry="5.50" fill="#1e2e84" opacity="0.95"/></g>
<g filter="url(#b06)"><path d="M364.25,378.06 Q370.50,369.31 376.75,378.06 Q370.50,372.83 364.25,378.06 Z" fill="#6a1030" opacity="1"/></g>
<g filter="url(#b1)"><path d="M363.50,395.00 A7.00,8.00 0 0 0 377.50,395.00" fill="none" stroke="#7890d0" stroke-width="1.2" opacity="0.8"/></g>
<g filter="url(#b15)"><ellipse cx="370.50" cy="395.00" rx="6.50" ry="5.50" fill="#1e2e84" opacity="0.95"/></g>
<circle cx="367.3" cy="323.7" r="0.35" fill="#8a2040" opacity="0.5"/>
<circle cx="372.8" cy="331.7" r="0.35" fill="#8a2040" opacity="0.5"/>
<circle cx="371.1" cy="330.9" r="0.35" fill="#8a2040" opacity="0.5"/>
<circle cx="348.3" cy="312.6" r="0.35" fill="#8a2040" opacity="0.5"/>
<circle cx="377.6" cy="320.0" r="0.35" fill="#8a2040" opacity="0.5"/>
<circle cx="376.2" cy="298.5" r="0.35" fill="#8a2040" opacity="0.5"/>
<circle cx="362.4" cy="303.9" r="0.35" fill="#8a2040" opacity="0.5"/>
<circle cx="364.8" cy="317.0" r="0.35" fill="#8a2040" opacity="0.5"/>
<circle cx="347.8" cy="302.7" r="0.35" fill="#8a2040" opacity="0.5"/>
<circle cx="356.3" cy="330.7" r="0.35" fill="#8a2040" opacity="0.5"/>
<circle cx="371.9" cy="300.4" r="0.35" fill="#8a2040" opacity="0.5"/>
<circle cx="372.9" cy="299.6" r="0.35" fill="#8a2040" opacity="0.5"/>
<circle cx="367.2" cy="299.1" r="0.35" fill="#8a2040" opacity="0.5"/>
<circle cx="347.5" cy="328.9" r="0.35" fill="#8a2040" opacity="0.5"/>
<circle cx="354.1" cy="302.6" r="0.35" fill="#8a2040" opacity="0.5"/>
<circle cx="378.8" cy="328.9" r="0.35" fill="#8a2040" opacity="0.5"/>
<circle cx="356.7" cy="332.5" r="0.35" fill="#8a2040" opacity="0.5"/>
<circle cx="364.7" cy="321.1" r="0.35" fill="#8a2040" opacity="0.5"/>
<circle cx="354.0" cy="331.6" r="0.35" fill="#8a2040" opacity="0.5"/>
<circle cx="369.5" cy="332.7" r="0.35" fill="#8a2040" opacity="0.5"/>
<circle cx="376.0" cy="306.0" r="0.35" fill="#8a2040" opacity="0.5"/>
<circle cx="359.0" cy="300.6" r="0.35" fill="#8a2040" opacity="0.5"/>
<circle cx="352.1" cy="296.6" r="0.35" fill="#8a2040" opacity="0.5"/>
<circle cx="357.0" cy="318.1" r="0.35" fill="#8a2040" opacity="0.5"/>
<circle cx="347.5" cy="321.1" r="0.35" fill="#8a2040" opacity="0.5"/>
<circle cx="358.2" cy="306.4" r="0.35" fill="#8a2040" opacity="0.5"/>
<circle cx="373.6" cy="313.2" r="0.35" fill="#8a2040" opacity="0.5"/>
<circle cx="357.5" cy="313.2" r="0.35" fill="#8a2040" opacity="0.5"/>
<circle cx="369.9" cy="296.3" r="0.35" fill="#8a2040" opacity="0.5"/>
<circle cx="378.6" cy="294.9" r="0.35" fill="#8a2040" opacity="0.5"/>
<circle cx="371.4" cy="327.8" r="0.35" fill="#8a2040" opacity="0.5"/>
<circle cx="348.0" cy="325.5" r="0.35" fill="#8a2040" opacity="0.5"/>
<circle cx="359.1" cy="317.1" r="0.35" fill="#8a2040" opacity="0.5"/>
<circle cx="347.7" cy="295.9" r="0.35" fill="#8a2040" opacity="0.5"/>
<circle cx="353.2" cy="332.2" r="0.35" fill="#8a2040" opacity="0.5"/>
<circle cx="353.7" cy="324.2" r="0.35" fill="#8a2040" opacity="0.5"/>
<circle cx="377.1" cy="331.7" r="0.35" fill="#8a2040" opacity="0.5"/>
<circle cx="358.4" cy="308.2" r="0.35" fill="#8a2040" opacity="0.5"/>
<circle cx="364.2" cy="325.0" r="0.35" fill="#8a2040" opacity="0.5"/>
<circle cx="350.9" cy="323.9" r="0.35" fill="#8a2040" opacity="0.5"/>
<circle cx="372.9" cy="328.4" r="0.35" fill="#8a2040" opacity="0.5"/>
<circle cx="348.6" cy="331.8" r="0.35" fill="#8a2040" opacity="0.5"/>
<circle cx="350.3" cy="307.6" r="0.35" fill="#8a2040" opacity="0.5"/>
<circle cx="366.9" cy="330.7" r="0.35" fill="#8a2040" opacity="0.5"/>
<circle cx="358.3" cy="331.0" r="0.35" fill="#8a2040" opacity="0.5"/>
<circle cx="364.8" cy="306.5" r="0.35" fill="#8a2040" opacity="0.5"/>
<circle cx="357.5" cy="301.1" r="0.35" fill="#8a2040" opacity="0.5"/>
<circle cx="349.9" cy="300.0" r="0.35" fill="#8a2040" opacity="0.5"/>
<circle cx="369.5" cy="333.9" r="0.35" fill="#8a2040" opacity="0.5"/>
<circle cx="352.6" cy="295.9" r="0.35" fill="#8a2040" opacity="0.5"/>
</svg>
<rect x="347.40" y="293.60" width="32.00" height="129.40" fill="none" stroke="#3a3a3a" stroke-width="0.8" />
<svg x="386.40" y="293.60" width="32.20" height="129.40" viewBox="386.40 293.60 32.20 129.40" overflow="hidden">
<rect x="386.40" y="293.60" width="32.20" height="129.40" fill="url(#vg14)" />
<g filter="url(#b1)"><rect x="401.50" y="291.60" width="3" height="133.40" fill="#ffffff" opacity="0.15"/></g>
<g filter="url(#b1)"><rect x="390.00" y="310.75" width="12.00" height="2.50" rx="1" fill="#8a7050" opacity="0.7"/></g>
<g filter="url(#b1)"><rect x="404.00" y="310.75" width="12.00" height="2.50" rx="1" fill="#8a7050" opacity="0.2"/></g>
<g filter="url(#b1)"><rect x="390.00" y="327.75" width="12.00" height="2.50" rx="1" fill="#7a6040" opacity="0.7"/></g>
<g filter="url(#b1)"><rect x="404.00" y="327.75" width="12.00" height="2.50" rx="1" fill="#7a6040" opacity="0.3"/></g>
<g filter="url(#b1)"><rect x="390.00" y="337.50" width="12.00" height="3.00" rx="1" fill="#6a5030" opacity="0.7"/></g>
<g filter="url(#b1)"><rect x="404.00" y="337.50" width="12.00" height="3.00" rx="1" fill="#6a5030" opacity="0.3"/></g>
<g filter="url(#b06)"><rect x="390.00" y="349.50" width="12.00" height="5.00" rx="1" fill="#3a2008" opacity="1"/></g>
<g filter="url(#b06)"><rect x="404.00" y="349.50" width="12.00" height="5.00" rx="1" fill="#3a2008" opacity="0.75"/></g>
<g filter="url(#b1)"><path d="M388.50,395.00 A7.50,8.00 0 0 0 403.50,395.00" fill="none" stroke="#7890d0" stroke-width="1.2" opacity="0.8"/></g>
<g filter="url(#b15)"><ellipse cx="396.00" cy="395.00" rx="7.00" ry="5.50" fill="#1e2e84" opacity="0.95"/></g>
<g filter="url(#b1)"><path d="M402.50,395.00 A7.50,8.00 0 0 0 417.50,395.00" fill="none" stroke="#7890d0" stroke-width="1.2" opacity="0.8"/></g>
<g filter="url(#b15)"><ellipse cx="410.00" cy="395.00" rx="7.00" ry="5.50" fill="#1e2e84" opacity="0.95"/></g>
</svg>
<rect x="386.40" y="293.60" width="32.20" height="129.40" fill="none" stroke="#3a3a3a" stroke-width="0.8" />
<text x="9.60" y="324.30" font-size="7.5" fill="#1a1a1a" stroke="#1a1a1a" stroke-width="0.2" >I</text>
<text x="5.20" y="351.30" font-size="7.5" fill="#1a1a1a" stroke="#1a1a1a" stroke-width="0.2" >IV</text>
<text x="155.60" y="323.30" font-size="7.5" fill="#1a1a1a" stroke="#1a1a1a" stroke-width="0.2" >I</text>
<text x="151.60" y="351.30" font-size="7.5" fill="#1a1a1a" stroke="#1a1a1a" stroke-width="0.2" >IV</text>
<text x="300.80" y="324.30" font-size="7.5" fill="#1a1a1a" stroke="#1a1a1a" stroke-width="0.2" >I</text>
<text x="296.80" y="353.30" font-size="7.5" fill="#1a1a1a" stroke="#1a1a1a" stroke-width="0.2" >IV</text>
<text x="31.30" y="432.40" font-size="7.4" fill="#1a1a1a" stroke="#1a1a1a" stroke-width="0.2" text-anchor="middle" >Coomassie</text>
<text x="71.00" y="432.40" font-size="7.4" fill="#1a1a1a" stroke="#1a1a1a" stroke-width="0.2" text-anchor="middle" >CI activity</text>
<text x="111.50" y="432.40" font-size="7.4" fill="#1a1a1a" stroke="#1a1a1a" stroke-width="0.2" text-anchor="middle" >CIV activity</text>
<text x="175.60" y="432.40" font-size="7.4" fill="#1a1a1a" stroke="#1a1a1a" stroke-width="0.2" text-anchor="middle" >Coomassie</text>
<text x="215.00" y="432.40" font-size="7.4" fill="#1a1a1a" stroke="#1a1a1a" stroke-width="0.2" text-anchor="middle" >CI activity</text>
<text x="255.80" y="432.40" font-size="7.4" fill="#1a1a1a" stroke="#1a1a1a" stroke-width="0.2" text-anchor="middle" >CIV activity</text>
<text x="324.20" y="432.40" font-size="7.4" fill="#1a1a1a" stroke="#1a1a1a" stroke-width="0.2" text-anchor="middle" >Coomassie</text>
<text x="364.00" y="432.40" font-size="7.4" fill="#1a1a1a" stroke="#1a1a1a" stroke-width="0.2" text-anchor="middle" >CI activity</text>
<text x="404.70" y="432.40" font-size="7.4" fill="#1a1a1a" stroke="#1a1a1a" stroke-width="0.2" text-anchor="middle" >CIV activity</text>
<line x1="12.40" y1="441.50" x2="131.60" y2="441.50" stroke="#1a1a1a" stroke-width="0.9" />
<line x1="159.00" y1="441.50" x2="275.60" y2="441.50" stroke="#1a1a1a" stroke-width="0.9" />
<line x1="311.00" y1="441.50" x2="418.60" y2="441.50" stroke="#1a1a1a" stroke-width="0.9" />
<text x="75.70" y="454.50" font-size="9.5" fill="#1a1a1a" stroke="#1a1a1a" stroke-width="0.2" text-anchor="middle" >Heart</text>
<text x="222.50" y="454.50" font-size="9.5" fill="#1a1a1a" stroke="#1a1a1a" stroke-width="0.2" text-anchor="middle" >Skeletal muscle</text>
<text x="361.80" y="454.50" font-size="9.5" fill="#1a1a1a" stroke="#1a1a1a" stroke-width="0.2" text-anchor="middle" >Liver</text>
<text transform="translate(22.00,292.00) rotate(-42)" x="0" y="0" font-size="8.2" fill="#1a1a1a" stroke="#1a1a1a" stroke-width="0.2" ><tspan font-style="italic">RNaseH1</tspan><tspan font-size="5.2" dy="-3.2">+/+</tspan></text>
<text transform="translate(39.50,292.00) rotate(-42)" x="0" y="0" font-size="8.2" fill="#1a1a1a" stroke="#1a1a1a" stroke-width="0.2" ><tspan font-style="italic">RNaseH1</tspan><tspan font-size="5.2" dy="-3.2">-/-</tspan></text>
<text transform="translate(63.00,292.00) rotate(-42)" x="0" y="0" font-size="8.2" fill="#1a1a1a" stroke="#1a1a1a" stroke-width="0.2" ><tspan font-style="italic">RNaseH1</tspan><tspan font-size="5.2" dy="-3.2">+/+</tspan></text>
<text transform="translate(80.00,292.00) rotate(-42)" x="0" y="0" font-size="8.2" fill="#1a1a1a" stroke="#1a1a1a" stroke-width="0.2" ><tspan font-style="italic">RNaseH1</tspan><tspan font-size="5.2" dy="-3.2">-/-</tspan></text>
<text transform="translate(103.00,292.00) rotate(-42)" x="0" y="0" font-size="8.2" fill="#1a1a1a" stroke="#1a1a1a" stroke-width="0.2" ><tspan font-style="italic">RNaseH1</tspan><tspan font-size="5.2" dy="-3.2">+/+</tspan></text>
<text transform="translate(120.00,292.00) rotate(-42)" x="0" y="0" font-size="8.2" fill="#1a1a1a" stroke="#1a1a1a" stroke-width="0.2" ><tspan font-style="italic">RNaseH1</tspan><tspan font-size="5.2" dy="-3.2">-/-</tspan></text>
<text transform="translate(170.50,290.20) rotate(-42)" x="0" y="0" font-size="8.2" fill="#1a1a1a" stroke="#1a1a1a" stroke-width="0.2" ><tspan font-style="italic">Tfam</tspan><tspan font-size="5.2" dy="-3.2">+/+</tspan></text>
<text transform="translate(185.50,290.20) rotate(-42)" x="0" y="0" font-size="8.2" fill="#1a1a1a" stroke="#1a1a1a" stroke-width="0.2" ><tspan font-style="italic">Tfam</tspan><tspan font-size="5.2" dy="-3.2">-/-</tspan></text>
<text transform="translate(206.50,290.20) rotate(-42)" x="0" y="0" font-size="8.2" fill="#1a1a1a" stroke="#1a1a1a" stroke-width="0.2" ><tspan font-style="italic">Tfam</tspan><tspan font-size="5.2" dy="-3.2">+/+</tspan></text>
<text transform="translate(221.00,290.20) rotate(-42)" x="0" y="0" font-size="8.2" fill="#1a1a1a" stroke="#1a1a1a" stroke-width="0.2" ><tspan font-style="italic">Tfam</tspan><tspan font-size="5.2" dy="-3.2">-/-</tspan></text>
<text transform="translate(244.50,290.20) rotate(-42)" x="0" y="0" font-size="8.2" fill="#1a1a1a" stroke="#1a1a1a" stroke-width="0.2" ><tspan font-style="italic">Tfam</tspan><tspan font-size="5.2" dy="-3.2">+/+</tspan></text>
<text transform="translate(259.50,290.20) rotate(-42)" x="0" y="0" font-size="8.2" fill="#1a1a1a" stroke="#1a1a1a" stroke-width="0.2" ><tspan font-style="italic">Tfam</tspan><tspan font-size="5.2" dy="-3.2">-/-</tspan></text>
<text transform="translate(316.50,290.20) rotate(-42)" x="0" y="0" font-size="8.2" fill="#1a1a1a" stroke="#1a1a1a" stroke-width="0.2" ><tspan font-style="italic">vehicle</tspan></text>
<text transform="translate(331.50,290.20) rotate(-42)" x="0" y="0" font-size="8.2" fill="#1a1a1a" stroke="#1a1a1a" stroke-width="0.2" ><tspan font-style="italic">IMT</tspan></text>
<text transform="translate(355.00,290.20) rotate(-42)" x="0" y="0" font-size="8.2" fill="#1a1a1a" stroke="#1a1a1a" stroke-width="0.2" ><tspan font-style="italic">vehicle</tspan></text>
<text transform="translate(370.30,290.20) rotate(-42)" x="0" y="0" font-size="8.2" fill="#1a1a1a" stroke="#1a1a1a" stroke-width="0.2" ><tspan font-style="italic">IMT</tspan></text>
<text transform="translate(394.00,290.20) rotate(-42)" x="0" y="0" font-size="8.2" fill="#1a1a1a" stroke="#1a1a1a" stroke-width="0.2" ><tspan font-style="italic">vehicle</tspan></text>
<text transform="translate(409.20,290.20) rotate(-42)" x="0" y="0" font-size="8.2" fill="#1a1a1a" stroke="#1a1a1a" stroke-width="0.2" ><tspan font-style="italic">IMT</tspan></text>
<text x="9.80" y="691.00" font-size="13.4" fill="#222" font-weight="bold" stroke="#222" stroke-width="0.3">F</text>
<svg x="55.20" y="700.40" width="116.20" height="93.20" viewBox="55.20 700.40 116.20 93.20" overflow="hidden">
<rect x="55.20" y="700.40" width="116.20" height="93.20" fill="#ffffff" />
<rect x="55.20" y="744.30" width="117.00" height="50.00" fill="url(#vg15)" />
<g filter="url(#b3)"><ellipse cx="76.00" cy="755.00" rx="9.00" ry="9.00" fill="#cecece" opacity="0.95"/></g>
<g filter="url(#b3)"><ellipse cx="100.00" cy="770.00" rx="18.00" ry="6.00" fill="#b0b0b0" opacity="0.5"/></g>
<g filter="url(#b5)"><ellipse cx="165.00" cy="788.00" rx="22.00" ry="14.00" fill="#1a1a1a" opacity="0.95"/></g>
<g filter="url(#b3)"><ellipse cx="150.00" cy="794.00" rx="14.00" ry="6.00" fill="#333" opacity="0.8"/></g>
<g filter="url(#b2)"><ellipse cx="143.00" cy="786.00" rx="3.00" ry="6.00" fill="#a0a0a0" opacity="0.6"/></g>
<g filter="url(#b3)"><ellipse cx="62.00" cy="788.00" rx="10.00" ry="8.00" fill="#7a7a7a" opacity="0.6"/></g>
<g filter="url(#b1)"><ellipse cx="100.00" cy="748.50" rx="22.00" ry="1.60" fill="#666" opacity="0.5"/></g>
<g filter="url(#b1)"><ellipse cx="127.80" cy="762.80" rx="5.50" ry="1.60" fill="#000" opacity="1"/></g>
<g filter="url(#b1)"><ellipse cx="113.00" cy="762.20" rx="13.00" ry="1.30" fill="#444" opacity="0.55"/></g>
<g filter="url(#b06)"><ellipse cx="152.50" cy="748.20" rx="1.60" ry="1.50" fill="#000" opacity="1"/></g>
<g filter="url(#b06)"><ellipse cx="120.00" cy="710.20" rx="12.00" ry="1.80" fill="#000" opacity="1"/></g>
<g filter="url(#b1)"><ellipse cx="118.00" cy="710.20" rx="26.00" ry="1.60" fill="#333" opacity="0.7"/></g>
<g filter="url(#b1)"><ellipse cx="150.00" cy="710.40" rx="15.00" ry="1.00" fill="#999" opacity="0.4"/></g>
<g filter="url(#b06)"><ellipse cx="115.00" cy="718.20" rx="30.00" ry="1.20" fill="#222" opacity="0.85"/></g>
<g filter="url(#b06)"><ellipse cx="100.00" cy="718.20" rx="5.00" ry="1.70" fill="#000" opacity="1"/></g>
<g filter="url(#b06)"><ellipse cx="118.00" cy="718.40" rx="6.00" ry="1.40" fill="#111" opacity="1"/></g>
<g filter="url(#b1)"><ellipse cx="123.00" cy="727.00" rx="5.00" ry="0.80" fill="#bbb" opacity="0.6"/></g>
<g filter="url(#b06)"><ellipse cx="119.00" cy="736.40" rx="2.80" ry="2.30" fill="#000" opacity="1"/></g>
<g filter="url(#b1)"><ellipse cx="112.00" cy="736.60" rx="6.00" ry="1.10" fill="#444" opacity="0.7"/></g>
</svg>
<rect x="55.20" y="700.40" width="116.20" height="93.20" fill="none" stroke="#333" stroke-width="0.9" />
<line x1="82.40" y1="745.00" x2="82.40" y2="806.00" stroke="#222" stroke-width="0.75" stroke-dasharray="3.2,2.2"/>
<line x1="100.40" y1="720.00" x2="100.40" y2="806.00" stroke="#222" stroke-width="0.75" stroke-dasharray="3.2,2.2"/>
<line x1="119.00" y1="739.00" x2="119.00" y2="806.00" stroke="#222" stroke-width="0.75" stroke-dasharray="3.2,2.2"/>
<line x1="125.40" y1="712.00" x2="125.40" y2="806.00" stroke="#222" stroke-width="0.75" stroke-dasharray="3.2,2.2"/>
<path d="M81.10,740.50 L84.90,742.40 L81.10,744.30 L82.10,742.40 Z" fill="#c0283e" stroke="#333" stroke-width="0.25" transform="rotate(15 83.00 742.40)"/>
<path d="M153.10,740.50 L156.90,742.40 L153.10,744.30 L154.10,742.40 Z" fill="#3a86c0" stroke="#333" stroke-width="0.25" transform="rotate(15 155.00 742.40)"/>
<text x="178.30" y="713.70" font-size="7.2" fill="#1a1a1a" stroke="#1a1a1a" stroke-width="0.2" >SDHA</text>
<text x="178.30" y="720.60" font-size="7.2" fill="#1a1a1a" stroke="#1a1a1a" stroke-width="0.2" >ATP5</text>
<text x="178.30" y="736.10" font-size="7.2" fill="#1a1a1a" stroke="#1a1a1a" stroke-width="0.2" >MT-CO1</text>
<text x="178.30" y="746.40" font-size="7.2" fill="#1a1a1a" stroke="#1a1a1a" stroke-width="0.2" >CHCHD3</text>
<text x="178.30" y="755.40" font-size="7.2" fill="#1a1a1a" stroke="#1a1a1a" stroke-width="0.2" >P32</text>
<text x="178.30" y="765.50" font-size="7.2" fill="#1a1a1a" stroke="#1a1a1a" stroke-width="0.2" >CHCHD2</text>
<text x="178.30" y="776.40" font-size="7.2" fill="#1a1a1a" stroke="#1a1a1a" stroke-width="0.2" >CHCHD10</text>
<path d="M208.80,737.70 L212.60,739.60 L208.80,741.50 L209.80,739.60 Z" fill="#c0283e" stroke="#333" stroke-width="0.25" transform="rotate(15 210.70 739.60)"/>
<path d="M193.10,748.10 L196.90,750.00 L193.10,751.90 L194.10,750.00 Z" fill="#3a86c0" stroke="#333" stroke-width="0.25" transform="rotate(15 195.00 750.00)"/>
<line x1="80.00" y1="806.40" x2="164.00" y2="806.40" stroke="#888" stroke-width="1.0" />
<text transform="translate(82.40,812.90) rotate(-52)" x="0" y="2.2" font-size="6.3" text-anchor="middle" fill="#1a1a1a" stroke="#1a1a1a" stroke-width="0.15">700</text>
<text transform="translate(99.30,812.90) rotate(-52)" x="0" y="2.2" font-size="6.3" text-anchor="middle" fill="#1a1a1a" stroke="#1a1a1a" stroke-width="0.15">600</text>
<text transform="translate(117.20,812.90) rotate(-52)" x="0" y="2.2" font-size="6.3" text-anchor="middle" fill="#1a1a1a" stroke="#1a1a1a" stroke-width="0.15">200</text>
<text transform="translate(127.40,812.90) rotate(-52)" x="0" y="2.2" font-size="6.3" text-anchor="middle" fill="#1a1a1a" stroke="#1a1a1a" stroke-width="0.15">140</text>
<text x="171.00" y="811.00" font-size="6.6" fill="#1a1a1a" stroke="#1a1a1a" stroke-width="0.2" >kDa</text>
<path d="M82.00,695.00 L49.00,695.00 L49.00,728.00" fill="none" stroke="#222" stroke-width="0.9"/>
<path d="M77.50,692.40 L82.50,695.00 L77.50,697.60 Z" fill="#111"/>
<path d="M46.20,723.00 L49.00,728.50 L51.80,723.00 Z" fill="#111"/>
<text x="61.00" y="692.40" font-size="7.2" fill="#1a1a1a" stroke="#1a1a1a" stroke-width="0.2" >1D</text>
<text x="38.00" y="707.40" font-size="7.2" fill="#1a1a1a" stroke="#1a1a1a" stroke-width="0.2" >2D</text>
<text transform="translate(40.80,771.00) rotate(-90)" x="0" y="0" font-size="8.2" fill="#1a1a1a" stroke="#1a1a1a" stroke-width="0.2" font-style="italic" >RNaseH1<tspan font-size="5.2" dy="-3.2">+/+</tspan></text>
<text x="116.70" y="688.00" font-size="9.3" fill="#1a1a1a" stroke="#1a1a1a" stroke-width="0.2" text-anchor="middle" >Heart</text>
<svg x="54.00" y="835.40" width="116.00" height="84.20" viewBox="54.00 835.40 116.00 84.20" overflow="hidden">
<rect x="54.00" y="835.40" width="116.00" height="84.20" fill="#ffffff" />
<rect x="54.00" y="863.00" width="117.00" height="57.00" fill="url(#vg16)" />
<g filter="url(#b2)"><ellipse cx="112.00" cy="867.00" rx="8.00" ry="4.00" fill="#888" opacity="0.5"/></g>
<g filter="url(#b3)"><ellipse cx="65.00" cy="905.00" rx="10.00" ry="10.00" fill="#c8c8c8" opacity="0.6"/></g>
<g filter="url(#b1)"><ellipse cx="92.00" cy="874.60" rx="10.00" ry="1.50" fill="#777" opacity="0.7"/></g>
<g filter="url(#b06)"><ellipse cx="115.00" cy="877.00" rx="1.60" ry="1.30" fill="#333" opacity="0.9"/></g>
<g filter="url(#b06)"><ellipse cx="155.40" cy="875.60" rx="2.50" ry="2.50" fill="#000" opacity="1"/></g>
<g filter="url(#b15)"><ellipse cx="112.00" cy="891.60" rx="26.00" ry="2.20" fill="#555" opacity="0.55"/></g>
<g filter="url(#b06)"><ellipse cx="113.00" cy="891.60" rx="5.50" ry="2.60" fill="#000" opacity="1"/></g>
<g filter="url(#b06)"><ellipse cx="113.60" cy="902.60" rx="4.00" ry="2.20" fill="#000" opacity="1"/></g>
<g filter="url(#b1)"><ellipse cx="105.00" cy="903.00" rx="10.00" ry="1.20" fill="#666" opacity="0.5"/></g>
<g filter="url(#b06)"><ellipse cx="122.60" cy="843.00" rx="8.00" ry="1.40" fill="#000" opacity="1"/></g>
<g filter="url(#b06)"><ellipse cx="128.00" cy="843.20" rx="22.00" ry="0.90" fill="#555" opacity="0.6"/></g>
<g filter="url(#b06)"><ellipse cx="98.00" cy="851.00" rx="4.00" ry="1.80" fill="#000" opacity="1"/></g>
<g filter="url(#b06)"><ellipse cx="110.00" cy="851.20" rx="28.00" ry="0.90" fill="#333" opacity="0.7"/></g>
<g filter="url(#b1)"><ellipse cx="112.00" cy="858.60" rx="3.00" ry="0.80" fill="#ccc" opacity="0.5"/></g>
</svg>
<rect x="54.00" y="835.40" width="116.00" height="84.20" fill="none" stroke="#333" stroke-width="0.9" />
<svg x="54.00" y="922.40" width="116.00" height="17.20" viewBox="54.00 922.40 116.00 17.20" overflow="hidden">
<rect x="54.00" y="922.40" width="116.00" height="17.20" fill="#ffffff" />
<rect x="54.00" y="922.40" width="116.00" height="17.20" fill="#f4f4f4" />
<g filter="url(#b06)"><ellipse cx="114.50" cy="932.40" rx="5.50" ry="3.00" fill="#000" opacity="1"/></g>
<g filter="url(#b1)"><ellipse cx="107.00" cy="932.60" rx="7.00" ry="1.50" fill="#333" opacity="0.6"/></g>
</svg>
<rect x="54.00" y="922.40" width="116.00" height="17.20" fill="none" stroke="#333" stroke-width="0.9" />
<line x1="81.60" y1="872.00" x2="81.60" y2="949.40" stroke="#222" stroke-width="0.75" stroke-dasharray="3.2,2.2"/>
<line x1="101.40" y1="853.00" x2="101.40" y2="949.40" stroke="#222" stroke-width="0.75" stroke-dasharray="3.2,2.2"/>
<line x1="112.60" y1="937.00" x2="112.60" y2="949.40" stroke="#222" stroke-width="0.75" stroke-dasharray="3.2,2.2"/>
<line x1="122.80" y1="845.00" x2="122.80" y2="949.40" stroke="#222" stroke-width="0.75" stroke-dasharray="3.2,2.2"/>
<path d="M80.10,868.10 L83.90,870.00 L80.10,871.90 L81.10,870.00 Z" fill="#c0283e" stroke="#333" stroke-width="0.25" transform="rotate(15 82.00 870.00)"/>
<path d="M117.10,871.70 L120.90,873.60 L117.10,875.50 L118.10,873.60 Z" fill="#3a86c0" stroke="#333" stroke-width="0.25" transform="rotate(15 119.00 873.60)"/>
<path d="M157.50,867.70 L161.30,869.60 L157.50,871.50 L158.50,869.60 Z" fill="#3a86c0" stroke="#333" stroke-width="0.25" transform="rotate(15 159.40 869.60)"/>
<text x="176.00" y="845.00" font-size="7.2" fill="#1a1a1a" stroke="#1a1a1a" stroke-width="0.2" >SDHA</text>
<text x="176.00" y="852.00" font-size="7.2" fill="#1a1a1a" stroke="#1a1a1a" stroke-width="0.2" >ATP5</text>
<text x="176.00" y="868.60" font-size="7.2" fill="#1a1a1a" stroke="#1a1a1a" stroke-width="0.2" >CHCHD3</text>
<text x="176.00" y="880.60" font-size="7.2" fill="#1a1a1a" stroke="#1a1a1a" stroke-width="0.2" >P32</text>
<text x="176.00" y="892.40" font-size="7.2" fill="#1a1a1a" stroke="#1a1a1a" stroke-width="0.2" >CHCHD2</text>
<text x="176.00" y="903.60" font-size="7.2" fill="#1a1a1a" stroke="#1a1a1a" stroke-width="0.2" >CHCHD10</text>
<text x="176.00" y="933.60" font-size="7.2" fill="#1a1a1a" stroke="#1a1a1a" stroke-width="0.2" >MT-CO2</text>
<path d="M206.70,859.50 L210.50,861.40 L206.70,863.30 L207.70,861.40 Z" fill="#c0283e" stroke="#333" stroke-width="0.25" transform="rotate(15 208.60 861.40)"/>
<path d="M189.70,871.10 L193.50,873.00 L189.70,874.90 L190.70,873.00 Z" fill="#3a86c0" stroke="#333" stroke-width="0.25" transform="rotate(15 191.60 873.00)"/>
<line x1="77.00" y1="949.80" x2="163.60" y2="949.80" stroke="#888" stroke-width="1.0" />
<text transform="translate(79.70,956.20) rotate(-52)" x="0" y="2.2" font-size="6.3" text-anchor="middle" fill="#1a1a1a" stroke="#1a1a1a" stroke-width="0.15">700</text>
<text transform="translate(96.00,956.20) rotate(-52)" x="0" y="2.2" font-size="6.3" text-anchor="middle" fill="#1a1a1a" stroke="#1a1a1a" stroke-width="0.15">600</text>
<text transform="translate(110.90,956.20) rotate(-52)" x="0" y="2.2" font-size="6.3" text-anchor="middle" fill="#1a1a1a" stroke="#1a1a1a" stroke-width="0.15">200</text>
<text transform="translate(124.70,956.20) rotate(-52)" x="0" y="2.2" font-size="6.3" text-anchor="middle" fill="#1a1a1a" stroke="#1a1a1a" stroke-width="0.15">140</text>
<text x="168.00" y="954.00" font-size="6.6" fill="#1a1a1a" stroke="#1a1a1a" stroke-width="0.2" >kDa</text>
<path d="M82.00,830.00 L49.00,830.00 L49.00,863.00" fill="none" stroke="#222" stroke-width="0.9"/>
<path d="M77.50,827.40 L82.50,830.00 L77.50,832.60 Z" fill="#111"/>
<path d="M46.20,858.00 L49.00,863.50 L51.80,858.00 Z" fill="#111"/>
<text x="61.00" y="827.60" font-size="7.2" fill="#1a1a1a" stroke="#1a1a1a" stroke-width="0.2" >1D</text>
<text x="38.00" y="842.60" font-size="7.2" fill="#1a1a1a" stroke="#1a1a1a" stroke-width="0.2" >2D</text>
<text transform="translate(41.20,902.00) rotate(-90)" x="0" y="0" font-size="8.2" fill="#1a1a1a" stroke="#1a1a1a" stroke-width="0.2" font-style="italic" >RNaseH1<tspan font-size="5.2" dy="-3.2">-/-</tspan></text>
<svg x="279.00" y="699.40" width="116.00" height="93.00" viewBox="279.00 699.40 116.00 93.00" overflow="hidden">
<rect x="279.00" y="699.40" width="116.00" height="93.00" fill="#ffffff" />
<rect x="279.00" y="739.60" width="117.00" height="10.00" fill="#e2e2e2" />
<rect x="279.00" y="749.60" width="117.00" height="9.40" fill="#f3f3f3" />
<rect x="279.00" y="759.00" width="117.00" height="34.00" fill="url(#vg17)" />
<g filter="url(#b3)"><ellipse cx="290.00" cy="775.00" rx="10.00" ry="12.00" fill="#999" opacity="0.5"/></g>
<g filter="url(#b2)"><ellipse cx="338.00" cy="770.00" rx="6.00" ry="6.00" fill="#777" opacity="0.6"/></g>
<g filter="url(#b06)"><ellipse cx="340.00" cy="773.00" rx="3.00" ry="1.50" fill="#555" opacity="0.8"/></g>
<g filter="url(#b2)"><ellipse cx="320.00" cy="767.00" rx="8.00" ry="5.00" fill="#bbb" opacity="0.4"/></g>
<g filter="url(#b1)"><ellipse cx="388.00" cy="785.00" rx="3.00" ry="2.00" fill="#888" opacity="0.6"/></g>
<g filter="url(#b1)"><ellipse cx="316.00" cy="743.00" rx="8.00" ry="1.60" fill="#bbb" opacity="0.8"/></g>
<g filter="url(#b06)"><ellipse cx="379.40" cy="752.00" rx="1.40" ry="1.40" fill="#111" opacity="1"/></g>
<g filter="url(#b06)"><ellipse cx="387.00" cy="752.20" rx="1.00" ry="1.00" fill="#999" opacity="0.7"/></g>
<g filter="url(#b06)"><ellipse cx="343.00" cy="712.00" rx="11.00" ry="1.20" fill="#333" opacity="0.9"/></g>
<g filter="url(#b1)"><ellipse cx="370.00" cy="712.00" rx="18.00" ry="0.90" fill="#aaa" opacity="0.5"/></g>
<g filter="url(#b06)"><ellipse cx="326.00" cy="715.80" rx="13.00" ry="1.00" fill="#333" opacity="0.8"/></g>
<g filter="url(#b06)"><ellipse cx="324.40" cy="715.60" rx="3.40" ry="1.90" fill="#000" opacity="1"/></g>
<g filter="url(#b06)"><ellipse cx="337.00" cy="716.40" rx="3.40" ry="1.30" fill="#111" opacity="1"/></g>
<g filter="url(#b06)"><ellipse cx="342.40" cy="734.40" rx="3.60" ry="2.50" fill="#000" opacity="1"/></g>
</svg>
<rect x="279.00" y="699.40" width="116.00" height="93.00" fill="none" stroke="#333" stroke-width="0.9" />
<line x1="309.00" y1="745.00" x2="309.00" y2="808.40" stroke="#222" stroke-width="0.75" stroke-dasharray="3.2,2.2"/>
<line x1="325.60" y1="718.00" x2="325.60" y2="808.40" stroke="#222" stroke-width="0.75" stroke-dasharray="3.2,2.2"/>
<line x1="340.00" y1="738.00" x2="340.00" y2="808.40" stroke="#222" stroke-width="0.75" stroke-dasharray="3.2,2.2"/>
<line x1="347.40" y1="713.00" x2="347.40" y2="808.40" stroke="#222" stroke-width="0.75" stroke-dasharray="3.2,2.2"/>
<path d="M307.10,738.10 L310.90,740.00 L307.10,741.90 L308.10,740.00 Z" fill="#c0283e" stroke="#333" stroke-width="0.25" transform="rotate(15 309.00 740.00)"/>
<path d="M379.10,745.70 L382.90,747.60 L379.10,749.50 L380.10,747.60 Z" fill="#3a86c0" stroke="#333" stroke-width="0.25" transform="rotate(15 381.00 747.60)"/>
<text x="401.60" y="716.40" font-size="7.2" fill="#1a1a1a" stroke="#1a1a1a" stroke-width="0.2" >SDHA</text>
<text x="401.60" y="723.60" font-size="7.2" fill="#1a1a1a" stroke="#1a1a1a" stroke-width="0.2" >ATP5</text>
<text x="401.60" y="736.00" font-size="7.2" fill="#1a1a1a" stroke="#1a1a1a" stroke-width="0.2" >MT-CO1</text>
<text x="401.60" y="746.40" font-size="7.2" fill="#1a1a1a" stroke="#1a1a1a" stroke-width="0.2" >CHCHD3</text>
<text x="401.60" y="756.40" font-size="7.2" fill="#1a1a1a" stroke="#1a1a1a" stroke-width="0.2" >P32</text>
<text x="401.60" y="768.60" font-size="7.2" fill="#1a1a1a" stroke="#1a1a1a" stroke-width="0.2" >CHCHD2</text>
<text x="401.60" y="779.60" font-size="7.2" fill="#1a1a1a" stroke="#1a1a1a" stroke-width="0.2" >CHCHD10</text>
<path d="M435.10,737.10 L438.90,739.00 L435.10,740.90 L436.10,739.00 Z" fill="#c0283e" stroke="#333" stroke-width="0.25" transform="rotate(15 437.00 739.00)"/>
<path d="M417.10,748.10 L420.90,750.00 L417.10,751.90 L418.10,750.00 Z" fill="#3a86c0" stroke="#333" stroke-width="0.25" transform="rotate(15 419.00 750.00)"/>
<line x1="303.60" y1="808.60" x2="383.60" y2="808.60" stroke="#888" stroke-width="1.0" />
<text transform="translate(309.30,814.00) rotate(-52)" x="0" y="2.2" font-size="6.3" text-anchor="middle" fill="#1a1a1a" stroke="#1a1a1a" stroke-width="0.15">700</text>
<text transform="translate(325.60,814.00) rotate(-52)" x="0" y="2.2" font-size="6.3" text-anchor="middle" fill="#1a1a1a" stroke="#1a1a1a" stroke-width="0.15">600</text>
<text transform="translate(338.40,814.00) rotate(-52)" x="0" y="2.2" font-size="6.3" text-anchor="middle" fill="#1a1a1a" stroke="#1a1a1a" stroke-width="0.15">200</text>
<text transform="translate(345.60,814.00) rotate(-52)" x="0" y="2.2" font-size="6.3" text-anchor="middle" fill="#1a1a1a" stroke="#1a1a1a" stroke-width="0.15">140</text>
<text x="393.40" y="812.00" font-size="6.6" fill="#1a1a1a" stroke="#1a1a1a" stroke-width="0.2" >kDa</text>
<path d="M306.90,693.60 L273.60,693.60 L273.60,726.10" fill="none" stroke="#222" stroke-width="0.9"/>
<path d="M302.40,691.00 L307.40,693.60 L302.40,696.20 Z" fill="#111"/>
<path d="M270.80,721.10 L273.60,726.60 L276.40,721.10 Z" fill="#111"/>
<text x="286.00" y="691.00" font-size="7.2" fill="#1a1a1a" stroke="#1a1a1a" stroke-width="0.2" >1D</text>
<text x="262.60" y="706.00" font-size="7.2" fill="#1a1a1a" stroke="#1a1a1a" stroke-width="0.2" >2D</text>
<text transform="translate(264.50,764.00) rotate(-90)" x="0" y="0" font-size="8.2" fill="#1a1a1a" stroke="#1a1a1a" stroke-width="0.2" ><tspan font-style="italic">Tfam</tspan><tspan font-size="5.2" dy="-3.2">+/+</tspan></text>
<text x="344.20" y="688.00" font-size="9.3" fill="#1a1a1a" stroke="#1a1a1a" stroke-width="0.2" text-anchor="middle" >Skeletal muscle</text>
<svg x="278.60" y="836.40" width="116.40" height="83.20" viewBox="278.60 836.40 116.40 83.20" overflow="hidden">
<rect x="278.60" y="836.40" width="116.40" height="83.20" fill="#ffffff" />
<rect x="278.60" y="867.20" width="117.00" height="13.30" fill="#e2e2e2" />
<rect x="278.60" y="891.60" width="117.00" height="28.00" fill="url(#vg18)" />
<g filter="url(#b1)"><ellipse cx="312.00" cy="875.50" rx="8.00" ry="2.00" fill="#bbb" opacity="0.8"/></g>
<g filter="url(#b2)"><ellipse cx="290.00" cy="900.00" rx="6.00" ry="6.00" fill="#eee" opacity="0.6"/></g>
<g filter="url(#b06)"><ellipse cx="335.60" cy="885.60" rx="2.00" ry="2.00" fill="#000" opacity="1"/></g>
<g filter="url(#b06)"><ellipse cx="382.50" cy="886.00" rx="3.00" ry="2.40" fill="#000" opacity="1"/></g>
<g filter="url(#b06)"><ellipse cx="378.00" cy="886.20" rx="3.00" ry="1.60" fill="#000" opacity="1"/></g>
<g filter="url(#b06)"><ellipse cx="324.00" cy="894.00" rx="4.00" ry="1.80" fill="#555" opacity="0.8"/></g>
<g filter="url(#b06)"><ellipse cx="333.00" cy="894.20" rx="3.00" ry="1.50" fill="#666" opacity="0.7"/></g>
<g filter="url(#b06)"><ellipse cx="324.40" cy="906.60" rx="3.40" ry="2.40" fill="#000" opacity="1"/></g>
<g filter="url(#b06)"><ellipse cx="334.00" cy="907.40" rx="3.00" ry="1.50" fill="#222" opacity="0.9"/></g>
<g filter="url(#b06)"><ellipse cx="332.00" cy="847.60" rx="8.00" ry="1.60" fill="#222" opacity="0.9"/></g>
<g filter="url(#b1)"><ellipse cx="345.00" cy="847.80" rx="10.00" ry="0.90" fill="#999" opacity="0.5"/></g>
<g filter="url(#b06)"><ellipse cx="328.00" cy="853.00" rx="15.00" ry="0.90" fill="#444" opacity="0.8"/></g>
<g filter="url(#b06)"><ellipse cx="317.00" cy="853.00" rx="2.40" ry="1.60" fill="#000" opacity="1"/></g>
<g filter="url(#b06)"><ellipse cx="327.00" cy="853.00" rx="4.00" ry="1.40" fill="#111" opacity="1"/></g>
<g filter="url(#b1)"><ellipse cx="382.00" cy="847.00" rx="3.00" ry="0.70" fill="#ddd" opacity="0.6"/></g>
</svg>
<rect x="278.60" y="836.40" width="116.40" height="83.20" fill="none" stroke="#333" stroke-width="0.9" />
<svg x="278.60" y="922.40" width="116.40" height="11.60" viewBox="278.60 922.40 116.40 11.60" overflow="hidden">
<rect x="278.60" y="922.40" width="116.40" height="11.60" fill="#ffffff" />
<rect x="278.60" y="922.40" width="117.00" height="11.60" fill="#eeeeee" />
<g filter="url(#b06)"><ellipse cx="331.00" cy="928.00" rx="6.00" ry="2.60" fill="#000" opacity="1"/></g>
<g filter="url(#b06)"><ellipse cx="382.00" cy="924.60" rx="3.00" ry="0.80" fill="#aaa" opacity="0.6"/></g>
</svg>
<rect x="278.60" y="922.40" width="116.40" height="11.60" fill="none" stroke="#333" stroke-width="0.9" />
<line x1="308.40" y1="870.00" x2="308.40" y2="950.40" stroke="#222" stroke-width="0.75" stroke-dasharray="3.2,2.2"/>
<line x1="317.60" y1="853.00" x2="317.60" y2="950.40" stroke="#222" stroke-width="0.75" stroke-dasharray="3.2,2.2"/>
<line x1="330.00" y1="937.00" x2="330.00" y2="950.40" stroke="#222" stroke-width="0.75" stroke-dasharray="3.2,2.2"/>
<line x1="336.00" y1="848.00" x2="336.00" y2="950.40" stroke="#222" stroke-width="0.75" stroke-dasharray="3.2,2.2"/>
<path d="M306.50,867.10 L310.30,869.00 L306.50,870.90 L307.50,869.00 Z" fill="#c0283e" stroke="#333" stroke-width="0.25" transform="rotate(15 308.40 869.00)"/>
<path d="M339.70,880.10 L343.50,882.00 L339.70,883.90 L340.70,882.00 Z" fill="#3a86c0" stroke="#333" stroke-width="0.25" transform="rotate(15 341.60 882.00)"/>
<path d="M382.50,876.70 L386.30,878.60 L382.50,880.50 L383.50,878.60 Z" fill="#3a86c0" stroke="#333" stroke-width="0.25" transform="rotate(15 384.40 878.60)"/>
<text x="402.00" y="849.40" font-size="7.2" fill="#1a1a1a" stroke="#1a1a1a" stroke-width="0.2" >SDHA</text>
<text x="402.00" y="856.60" font-size="7.2" fill="#1a1a1a" stroke="#1a1a1a" stroke-width="0.2" >ATP5</text>
<text x="402.00" y="876.40" font-size="7.2" fill="#1a1a1a" stroke="#1a1a1a" stroke-width="0.2" >CHCHD3</text>
<text x="402.00" y="888.00" font-size="7.2" fill="#1a1a1a" stroke="#1a1a1a" stroke-width="0.2" >P32</text>
<text x="402.00" y="899.60" font-size="7.2" fill="#1a1a1a" stroke="#1a1a1a" stroke-width="0.2" >CHCHD2</text>
<text x="402.00" y="911.00" font-size="7.2" fill="#1a1a1a" stroke="#1a1a1a" stroke-width="0.2" >CHCHD10</text>
<text x="402.00" y="930.00" font-size="7.2" fill="#1a1a1a" stroke="#1a1a1a" stroke-width="0.2" >MT-CO2</text>
<path d="M433.70,865.70 L437.50,867.60 L433.70,869.50 L434.70,867.60 Z" fill="#c0283e" stroke="#333" stroke-width="0.25" transform="rotate(15 435.60 867.60)"/>
<path d="M417.10,880.10 L420.90,882.00 L417.10,883.90 L418.10,882.00 Z" fill="#3a86c0" stroke="#333" stroke-width="0.25" transform="rotate(15 419.00 882.00)"/>
<line x1="297.60" y1="950.80" x2="383.60" y2="950.80" stroke="#888" stroke-width="1.0" />
<text transform="translate(305.40,957.20) rotate(-52)" x="0" y="2.2" font-size="6.3" text-anchor="middle" fill="#1a1a1a" stroke="#1a1a1a" stroke-width="0.15">700</text>
<text transform="translate(316.30,957.20) rotate(-52)" x="0" y="2.2" font-size="6.3" text-anchor="middle" fill="#1a1a1a" stroke="#1a1a1a" stroke-width="0.15">600</text>
<text transform="translate(329.50,957.20) rotate(-52)" x="0" y="2.2" font-size="6.3" text-anchor="middle" fill="#1a1a1a" stroke="#1a1a1a" stroke-width="0.15">200</text>
<text transform="translate(336.80,957.20) rotate(-52)" x="0" y="2.2" font-size="6.3" text-anchor="middle" fill="#1a1a1a" stroke="#1a1a1a" stroke-width="0.15">140</text>
<text x="388.00" y="953.60" font-size="6.6" fill="#1a1a1a" stroke="#1a1a1a" stroke-width="0.2" >kDa</text>
<path d="M305.10,831.60 L271.60,831.60 L271.60,863.30" fill="none" stroke="#222" stroke-width="0.9"/>
<path d="M300.60,829.00 L305.60,831.60 L300.60,834.20 Z" fill="#111"/>
<path d="M268.80,858.30 L271.60,863.80 L274.40,858.30 Z" fill="#111"/>
<text x="283.60" y="829.00" font-size="7.2" fill="#1a1a1a" stroke="#1a1a1a" stroke-width="0.2" >1D</text>
<text x="261.00" y="844.00" font-size="7.2" fill="#1a1a1a" stroke="#1a1a1a" stroke-width="0.2" >2D</text>
<text transform="translate(264.50,891.00) rotate(-90)" x="0" y="0" font-size="8.2" fill="#1a1a1a" stroke="#1a1a1a" stroke-width="0.2" ><tspan font-style="italic">Tfam</tspan><tspan font-size="5.2" dy="-3.2">-/-</tspan></text>
<svg x="496.40" y="699.40" width="116.00" height="93.00" viewBox="496.40 699.40 116.00 93.00" overflow="hidden">
<rect x="496.40" y="699.40" width="116.00" height="93.00" fill="#ffffff" />
<rect x="496.40" y="724.20" width="117.00" height="24.00" fill="#efefef" />
<path d="M496,747.5 Q555,742 613,745.6 L613,793 L496,793 Z" fill="url(#vg19)"/>
<g filter="url(#b06)"><path d="M496,746.4 Q555,741 613,744.6" fill="none" stroke="#ffffff" stroke-width="2.2"/></g>
<g filter="url(#b15)"><ellipse cx="607.00" cy="760.00" rx="4.00" ry="6.00" fill="#c8c8c8" opacity="0.9"/></g>
<g filter="url(#b3)"><ellipse cx="505.00" cy="787.00" rx="10.00" ry="8.00" fill="#b0b0b0" opacity="0.6"/></g>
<g filter="url(#b1)"><path d="M522,758.5 Q533,754 543,750.4" fill="none" stroke="#444" stroke-width="1.3" opacity="0.8"/></g>
<g filter="url(#b06)"><ellipse cx="540.00" cy="751.20" rx="3.00" ry="1.30" fill="#222" opacity="0.9" transform="rotate(-20 540.00 751.20)"/></g>
<g filter="url(#b06)"><ellipse cx="590.40" cy="750.10" rx="1.40" ry="1.30" fill="#000" opacity="1"/></g>
<g filter="url(#b06)"><ellipse cx="561.20" cy="766.00" rx="2.80" ry="2.10" fill="#000" opacity="1"/></g>
<g filter="url(#b1)"><ellipse cx="546.00" cy="768.50" rx="13.00" ry="1.20" fill="#555" opacity="0.6" transform="rotate(-6 546.00 768.50)"/></g>
<g filter="url(#b06)"><ellipse cx="561.50" cy="777.00" rx="1.60" ry="1.60" fill="#444" opacity="0.9"/></g>
<g filter="url(#b06)"><ellipse cx="553.00" cy="707.80" rx="17.00" ry="1.40" fill="#000" opacity="1"/></g>
<g filter="url(#b06)"><ellipse cx="560.00" cy="708.00" rx="34.00" ry="1.00" fill="#222" opacity="0.85"/></g>
<g filter="url(#b06)"><ellipse cx="595.00" cy="710.60" rx="2.00" ry="1.20" fill="#999" opacity="0.6"/></g>
<g filter="url(#b06)"><ellipse cx="538.00" cy="713.60" rx="2.80" ry="1.50" fill="#000" opacity="1"/></g>
<g filter="url(#b06)"><ellipse cx="536.00" cy="713.80" rx="10.00" ry="0.90" fill="#222" opacity="0.8"/></g>
<g filter="url(#b06)"><ellipse cx="554.50" cy="732.30" rx="2.20" ry="1.70" fill="#000" opacity="1"/></g>
</svg>
<rect x="496.40" y="699.40" width="116.00" height="93.00" fill="none" stroke="#333" stroke-width="0.9" />
<line x1="529.60" y1="752.00" x2="529.60" y2="807.00" stroke="#222" stroke-width="0.75" stroke-dasharray="3.2,2.2"/>
<line x1="538.00" y1="715.00" x2="538.00" y2="807.00" stroke="#222" stroke-width="0.75" stroke-dasharray="3.2,2.2"/>
<line x1="555.40" y1="735.00" x2="555.40" y2="807.00" stroke="#222" stroke-width="0.75" stroke-dasharray="3.2,2.2"/>
<line x1="562.00" y1="710.00" x2="562.00" y2="807.00" stroke="#222" stroke-width="0.75" stroke-dasharray="3.2,2.2"/>
<path d="M527.10,748.10 L530.90,750.00 L527.10,751.90 L528.10,750.00 Z" fill="#c0283e" stroke="#333" stroke-width="0.25" transform="rotate(15 529.00 750.00)"/>
<path d="M592.50,744.10 L596.30,746.00 L592.50,747.90 L593.50,746.00 Z" fill="#3a86c0" stroke="#333" stroke-width="0.25" transform="rotate(15 594.40 746.00)"/>
<text x="618.00" y="711.00" font-size="7.2" fill="#1a1a1a" stroke="#1a1a1a" stroke-width="0.2" >SDHA</text>
<text x="618.00" y="718.00" font-size="7.2" fill="#1a1a1a" stroke="#1a1a1a" stroke-width="0.2" >ATP5</text>
<text x="618.00" y="734.00" font-size="7.2" fill="#1a1a1a" stroke="#1a1a1a" stroke-width="0.2" >MT-CO1</text>
<text x="618.00" y="746.00" font-size="7.2" fill="#1a1a1a" stroke="#1a1a1a" stroke-width="0.2" >CHCHD3</text>
<text x="618.00" y="755.60" font-size="7.2" fill="#1a1a1a" stroke="#1a1a1a" stroke-width="0.2" >P32</text>
<text x="618.00" y="765.00" font-size="7.2" fill="#1a1a1a" stroke="#1a1a1a" stroke-width="0.2" >CHCHD2</text>
<text x="618.00" y="778.00" font-size="7.2" fill="#1a1a1a" stroke="#1a1a1a" stroke-width="0.2" >CHCHD10</text>
<path d="M650.10,737.70 L653.90,739.60 L650.10,741.50 L651.10,739.60 Z" fill="#c0283e" stroke="#333" stroke-width="0.25" transform="rotate(15 652.00 739.60)"/>
<path d="M632.10,747.10 L635.90,749.00 L632.10,750.90 L633.10,749.00 Z" fill="#3a86c0" stroke="#333" stroke-width="0.25" transform="rotate(15 634.00 749.00)"/>
<line x1="515.00" y1="807.40" x2="600.00" y2="807.40" stroke="#888" stroke-width="1.0" />
<text transform="translate(527.50,813.30) rotate(-52)" x="0" y="2.2" font-size="6.3" text-anchor="middle" fill="#1a1a1a" stroke="#1a1a1a" stroke-width="0.15">700</text>
<text transform="translate(537.10,813.30) rotate(-52)" x="0" y="2.2" font-size="6.3" text-anchor="middle" fill="#1a1a1a" stroke="#1a1a1a" stroke-width="0.15">600</text>
<text transform="translate(553.90,813.30) rotate(-52)" x="0" y="2.2" font-size="6.3" text-anchor="middle" fill="#1a1a1a" stroke="#1a1a1a" stroke-width="0.15">200</text>
<text transform="translate(562.10,813.30) rotate(-52)" x="0" y="2.2" font-size="6.3" text-anchor="middle" fill="#1a1a1a" stroke="#1a1a1a" stroke-width="0.15">140</text>
<text x="606.00" y="812.00" font-size="6.6" fill="#1a1a1a" stroke="#1a1a1a" stroke-width="0.2" >kDa</text>
<path d="M523.90,693.60 L490.60,693.60 L490.60,726.30" fill="none" stroke="#222" stroke-width="0.9"/>
<path d="M519.40,691.00 L524.40,693.60 L519.40,696.20 Z" fill="#111"/>
<path d="M487.80,721.30 L490.60,726.80 L493.40,721.30 Z" fill="#111"/>
<text x="502.40" y="691.40" font-size="7.2" fill="#1a1a1a" stroke="#1a1a1a" stroke-width="0.2" >1D</text>
<text x="479.00" y="707.00" font-size="7.2" fill="#1a1a1a" stroke="#1a1a1a" stroke-width="0.2" >2D</text>
<text transform="translate(480.60,760.00) rotate(-90)" x="0" y="0" font-size="8.2" fill="#1a1a1a" stroke="#1a1a1a" stroke-width="0.2" font-style="italic" >Vehicle</text>
<text x="553.70" y="688.00" font-size="9.3" fill="#1a1a1a" stroke="#1a1a1a" stroke-width="0.2" text-anchor="middle" >Liver</text>
<svg x="497.40" y="833.40" width="116.20" height="86.20" viewBox="497.40 833.40 116.20 86.20" overflow="hidden">
<rect x="497.40" y="833.40" width="116.20" height="86.20" fill="#ffffff" />
<rect x="497.40" y="867.40" width="117.00" height="53.00" fill="url(#vg20)" />
<g filter="url(#b3)"><ellipse cx="598.00" cy="878.00" rx="14.00" ry="8.00" fill="#b8b8b8" opacity="0.7"/></g>
<g filter="url(#b3)"><ellipse cx="508.00" cy="874.00" rx="10.00" ry="5.00" fill="#b4b4b4" opacity="0.6"/></g>
<g filter="url(#b1)"><path d="M522,877.5 Q530,874.5 538,873.6" fill="none" stroke="#444" stroke-width="1.4" opacity="0.85"/></g>
<g filter="url(#b06)"><ellipse cx="535.00" cy="874.00" rx="3.00" ry="1.50" fill="#222" opacity="0.9" transform="rotate(-10 535.00 874.00)"/></g>
<g filter="url(#b06)"><ellipse cx="565.00" cy="875.50" rx="1.50" ry="1.50" fill="#777" opacity="0.7"/></g>
<g filter="url(#b06)"><ellipse cx="592.20" cy="871.40" rx="1.50" ry="1.50" fill="#333" opacity="0.9"/></g>
<g filter="url(#b06)"><ellipse cx="564.20" cy="890.20" rx="3.60" ry="2.80" fill="#000" opacity="1"/></g>
<g filter="url(#b1)"><ellipse cx="545.00" cy="893.00" rx="17.00" ry="1.30" fill="#555" opacity="0.55" transform="rotate(-5 545.00 893.00)"/></g>
<g filter="url(#b06)"><ellipse cx="564.70" cy="901.60" rx="3.60" ry="2.40" fill="#000" opacity="1"/></g>
<g filter="url(#b1)"><ellipse cx="545.00" cy="904.50" rx="17.00" ry="1.30" fill="#555" opacity="0.55" transform="rotate(-5 545.00 904.50)"/></g>
<g filter="url(#b1)"><ellipse cx="587.80" cy="915.60" rx="2.60" ry="2.00" fill="#666" opacity="0.8"/></g>
<g filter="url(#b06)"><ellipse cx="550.00" cy="850.40" rx="16.00" ry="2.40" fill="#000" opacity="1"/></g>
<g filter="url(#b06)"><ellipse cx="556.00" cy="850.60" rx="36.00" ry="1.10" fill="#222" opacity="0.8"/></g>
<g filter="url(#b06)"><ellipse cx="585.00" cy="850.20" rx="8.00" ry="1.00" fill="#555" opacity="0.6"/></g>
<g filter="url(#b06)"><ellipse cx="539.00" cy="855.30" rx="4.00" ry="1.20" fill="#000" opacity="0.95"/></g>
<g filter="url(#b06)"><ellipse cx="538.00" cy="855.30" rx="17.00" ry="0.80" fill="#333" opacity="0.75"/></g>
<g filter="url(#b06)"><ellipse cx="552.00" cy="853.20" rx="8.00" ry="0.70" fill="#fff" opacity="0.8"/></g>
</svg>
<rect x="497.40" y="833.40" width="116.20" height="86.20" fill="none" stroke="#333" stroke-width="0.9" />
<svg x="497.40" y="923.40" width="116.20" height="11.00" viewBox="497.40 923.40 116.20 11.00" overflow="hidden">
<rect x="497.40" y="923.40" width="116.20" height="11.00" fill="#ffffff" />
<rect x="497.40" y="923.40" width="117.00" height="11.00" fill="#f0f0f0" />
<g filter="url(#b06)"><ellipse cx="552.00" cy="926.60" rx="2.40" ry="1.40" fill="#222" opacity="0.9"/></g>
<g filter="url(#b1)"><ellipse cx="543.00" cy="927.60" rx="8.00" ry="0.90" fill="#777" opacity="0.5"/></g>
</svg>
<rect x="497.40" y="923.40" width="116.20" height="11.00" fill="none" stroke="#333" stroke-width="0.9" />
<line x1="525.60" y1="872.00" x2="525.60" y2="949.60" stroke="#222" stroke-width="0.75" stroke-dasharray="3.2,2.2"/>
<line x1="539.40" y1="857.00" x2="539.40" y2="949.60" stroke="#222" stroke-width="0.75" stroke-dasharray="3.2,2.2"/>
<line x1="554.00" y1="937.00" x2="554.00" y2="949.60" stroke="#222" stroke-width="0.75" stroke-dasharray="3.2,2.2"/>
<line x1="563.00" y1="855.00" x2="563.00" y2="949.60" stroke="#222" stroke-width="0.75" stroke-dasharray="3.2,2.2"/>
<path d="M523.70,868.10 L527.50,870.00 L523.70,871.90 L524.70,870.00 Z" fill="#c0283e" stroke="#333" stroke-width="0.25" transform="rotate(15 525.60 870.00)"/>
<path d="M567.70,867.70 L571.50,869.60 L567.70,871.50 L568.70,869.60 Z" fill="#3a86c0" stroke="#333" stroke-width="0.25" transform="rotate(15 569.60 869.60)"/>
<path d="M594.50,863.70 L598.30,865.60 L594.50,867.50 L595.50,865.60 Z" fill="#3a86c0" stroke="#333" stroke-width="0.25" transform="rotate(15 596.40 865.60)"/>
<text x="619.00" y="848.60" font-size="7.2" fill="#1a1a1a" stroke="#1a1a1a" stroke-width="0.2" >SDHA</text>
<text x="619.00" y="858.00" font-size="7.2" fill="#1a1a1a" stroke="#1a1a1a" stroke-width="0.2" >ATP5</text>
<text x="619.00" y="870.00" font-size="7.2" fill="#1a1a1a" stroke="#1a1a1a" stroke-width="0.2" >CHCHD3</text>
<text x="619.00" y="881.00" font-size="7.2" fill="#1a1a1a" stroke="#1a1a1a" stroke-width="0.2" >P32</text>
<text x="619.00" y="891.00" font-size="7.2" fill="#1a1a1a" stroke="#1a1a1a" stroke-width="0.2" >CHCHD2</text>
<text x="619.00" y="901.00" font-size="7.2" fill="#1a1a1a" stroke="#1a1a1a" stroke-width="0.2" >CHCHD10</text>
<text x="619.00" y="930.40" font-size="7.2" fill="#1a1a1a" stroke="#1a1a1a" stroke-width="0.2" >MT-CO2</text>
<path d="M652.10,860.10 L655.90,862.00 L652.10,863.90 L653.10,862.00 Z" fill="#c0283e" stroke="#333" stroke-width="0.25" transform="rotate(15 654.00 862.00)"/>
<path d="M636.10,872.50 L639.90,874.40 L636.10,876.30 L637.10,874.40 Z" fill="#3a86c0" stroke="#333" stroke-width="0.25" transform="rotate(15 638.00 874.40)"/>
<line x1="519.00" y1="950.00" x2="605.00" y2="950.00" stroke="#888" stroke-width="1.0" />
<text transform="translate(524.30,957.00) rotate(-52)" x="0" y="2.2" font-size="6.3" text-anchor="middle" fill="#1a1a1a" stroke="#1a1a1a" stroke-width="0.15">700</text>
<text transform="translate(538.10,957.00) rotate(-52)" x="0" y="2.2" font-size="6.3" text-anchor="middle" fill="#1a1a1a" stroke="#1a1a1a" stroke-width="0.15">600</text>
<text transform="translate(553.40,957.00) rotate(-52)" x="0" y="2.2" font-size="6.3" text-anchor="middle" fill="#1a1a1a" stroke="#1a1a1a" stroke-width="0.15">200</text>
<text transform="translate(562.60,957.00) rotate(-52)" x="0" y="2.2" font-size="6.3" text-anchor="middle" fill="#1a1a1a" stroke="#1a1a1a" stroke-width="0.15">140</text>
<text x="609.00" y="953.00" font-size="6.6" fill="#1a1a1a" stroke="#1a1a1a" stroke-width="0.2" >kDa</text>
<path d="M523.90,827.60 L490.60,827.60 L490.60,859.90" fill="none" stroke="#222" stroke-width="0.9"/>
<path d="M519.40,825.00 L524.40,827.60 L519.40,830.20 Z" fill="#111"/>
<path d="M487.80,854.90 L490.60,860.40 L493.40,854.90 Z" fill="#111"/>
<text x="502.40" y="825.00" font-size="7.2" fill="#1a1a1a" stroke="#1a1a1a" stroke-width="0.2" >1D</text>
<text x="479.60" y="839.60" font-size="7.2" fill="#1a1a1a" stroke="#1a1a1a" stroke-width="0.2" >2D</text>
<text transform="translate(480.60,885.00) rotate(-90)" x="0" y="0" font-size="8.2" fill="#1a1a1a" stroke="#1a1a1a" stroke-width="0.2" font-style="italic" >IMT</text>
<text x="0.60" y="10.70" font-size="13.6" fill="#222" font-weight="bold" stroke="#222" stroke-width="0.3">A</text>
<rect x="98.00" y="27.60" width="42.40" height="17.40" fill="#e7effa" stroke="#a3bbe3" stroke-width="0.8" rx="8.7" />
<text x="119.20" y="38.20" font-size="5.4" fill="#222" text-anchor="middle" font-weight="bold" textLength="36.40" lengthAdjust="spacingAndGlyphs" >REPLICATION</text>
<rect x="161.00" y="27.20" width="88.40" height="17.80" fill="#e7effa" stroke="#a3bbe3" stroke-width="0.8" rx="8.9" />
<text x="205.20" y="35.20" font-size="5.4" fill="#222" text-anchor="middle" font-weight="bold" textLength="50.00" lengthAdjust="spacingAndGlyphs" >TRANSCRIPTION &amp;</text>
<text x="205.20" y="41.40" font-size="5.4" fill="#222" text-anchor="middle" font-weight="bold" textLength="41.00" lengthAdjust="spacingAndGlyphs" >MAINTENANCE</text>
<rect x="273.00" y="27.40" width="45.40" height="17.20" fill="#e7effa" stroke="#a3bbe3" stroke-width="0.8" rx="8.600000000000001" />
<text x="295.70" y="38.20" font-size="5.4" fill="#222" text-anchor="middle" font-weight="bold" textLength="38.40" lengthAdjust="spacingAndGlyphs" >TRANSLATION</text>
<rect x="372.10" y="27.20" width="44.80" height="17.40" fill="#d7f0e9" stroke="#5f9d8b" stroke-width="0.8" rx="8.700000000000001" />
<text x="394.50" y="38.20" font-size="5.4" fill="#222" text-anchor="middle" font-weight="bold" textLength="23.00" lengthAdjust="spacingAndGlyphs" >OXPHOS</text>
<path d="M13.5,80 C11.5,71 22,66.5 33,68.6 C42,70.2 52,65.5 57.5,71.5 C62,77 59,86 50,88.3 C42,90.2 33,88 25,89 C17,90 14.5,85 13.5,80 Z" fill="#d6a99d" stroke="#c49488" stroke-width="0.5"/>
<path d="M16,79 C15,73 24,70.5 33,71.5 C42,72.5 50,69 54.5,73.5 C57.5,77 56,81.5 50,82.5 C42,84 34,82.5 26,83.5 C19,84.2 16.5,82 16,79 Z" fill="#f1e1db"/>
<path d="M20,72.5 L20,79 M22,82.5 L22,77" stroke="#d6a99d" stroke-width="1.3" fill="none"/>
<path d="M24,72.5 L24,79 M26,82.5 L26,77" stroke="#d6a99d" stroke-width="1.3" fill="none"/>
<path d="M28,72.5 L28,79 M30,82.5 L30,77" stroke="#d6a99d" stroke-width="1.3" fill="none"/>
<path d="M32,72.5 L32,79 M34,82.5 L34,77" stroke="#d6a99d" stroke-width="1.3" fill="none"/>
<path d="M36,72.5 L36,79 M38,82.5 L38,77" stroke="#d6a99d" stroke-width="1.3" fill="none"/>
<path d="M46,72.5 L46,79 M48,82.5 L48,77" stroke="#d6a99d" stroke-width="1.3" fill="none"/>
<path d="M50,72.5 L50,79 M52,82.5 L52,77" stroke="#d6a99d" stroke-width="1.3" fill="none"/>
<path d="M54,72.5 L54,79 M56,82.5 L56,77" stroke="#d6a99d" stroke-width="1.3" fill="none"/>
<path d="M15,83 C20,88 30,86.5 38,86.8 C46,87 54,86 58,81 C57,86.5 50,88.6 44,89 C36,89.5 30,88.2 24,89.3 C18,89.5 15.5,86.5 15,83 Z" fill="#c9978b" opacity="0.7"/>
<circle cx="27" cy="73" r="1.4" fill="none" stroke="#9aa4c8" stroke-width="0.4"/>
<circle cx="30.5" cy="79" r="1.4" fill="none" stroke="#9aa4c8" stroke-width="0.4"/>
<circle cx="50" cy="76" r="1.4" fill="none" stroke="#9aa4c8" stroke-width="0.4"/>
<rect x="38.20" y="73.70" width="5.60" height="5.80" fill="#f4f4f4" stroke="#666" stroke-width="0.6" />
<path d="M43.8,70 Q45.5,64.5 49.2,62.2" fill="none" stroke="#333" stroke-width="0.6"/>
<path d="M50.20,61.60 L49.44,63.93 L47.77,61.94 Z" fill="#222"/>
<path d="M72.00,48.60 L74.46,50.55 M71.63,51.45 L73.50,53.97 M70.53,54.10 L71.68,57.02 M68.78,56.38 L69.14,59.50 M66.50,58.13 L66.04,61.23 M63.85,59.23 L62.60,62.11 M61.00,59.60 L59.05,62.06 M58.15,59.23 L55.63,61.10 M55.50,58.13 L52.58,59.28 M53.22,56.38 L50.10,56.74 M51.47,54.10 L48.37,53.64 M50.37,51.45 L47.49,50.20 M50.00,48.60 L47.54,46.65 M50.37,45.75 L48.50,43.23 M51.47,43.10 L50.32,40.18 M53.22,40.82 L52.86,37.70 M55.50,39.07 L55.96,35.97 M58.15,37.97 L59.40,35.09 M61.00,37.60 L62.95,35.14 M63.85,37.97 L66.37,36.10 M66.50,39.07 L69.42,37.92 M68.78,40.82 L71.90,40.46 M70.53,43.10 L73.63,43.56 M71.63,45.75 L74.51,47.00" stroke="#35447a" stroke-width="1.05" stroke-linecap="round" fill="none"/>
<circle cx="61" cy="48.6" r="11.200000000000001" fill="none" stroke="#35447a" stroke-width="0.45" opacity="0.8"/>
<circle cx="61" cy="48.6" r="13.4" fill="none" stroke="#35447a" stroke-width="0.45" opacity="0.8"/>
<text x="60.50" y="50.50" font-size="5.9" fill="#222" stroke="#222" stroke-width="0.12" text-anchor="middle" textLength="19.00" lengthAdjust="spacingAndGlyphs" >mtDNA</text>
<path d="M80,43.2 Q86,44.5 90,48" fill="none" stroke="#333" stroke-width="0.6"/>
<path d="M91.20,49.40 L88.87,48.64 L90.86,46.97 Z" fill="#222"/>
<path d="M137.20,82.40 L139.71,84.35 M136.94,85.51 L139.10,87.85 M136.18,88.54 L137.92,91.20 M134.92,91.40 L136.20,94.31 M133.21,94.01 L134.00,97.09 M131.10,96.31 L131.36,99.48 M128.64,98.22 L128.38,101.39 M125.89,99.71 L125.11,102.79 M122.94,100.72 L121.66,103.64 M119.86,101.24 L118.12,103.90 M116.74,101.24 L114.59,103.58 M113.66,100.72 L111.15,102.68 M110.71,99.71 L107.91,101.22 M107.96,98.22 L104.95,99.26 M105.50,96.31 L102.36,96.83 M103.39,94.01 L100.20,94.01 M101.68,91.40 L98.54,90.87 M100.42,88.54 L97.41,87.51 M99.66,85.51 L96.86,84.00 M99.40,82.40 L96.89,80.45 M99.66,79.29 L97.50,76.95 M100.42,76.26 L98.68,73.60 M101.68,73.40 L100.40,70.49 M103.39,70.79 L102.60,67.71 M105.50,68.49 L105.24,65.32 M107.96,66.58 L108.22,63.41 M110.71,65.09 L111.49,62.01 M113.66,64.08 L114.94,61.16 M116.74,63.56 L118.48,60.90 M119.86,63.56 L122.01,61.22 M122.94,64.08 L125.45,62.12 M125.89,65.09 L128.69,63.58 M128.64,66.58 L131.65,65.54 M131.10,68.49 L134.24,67.97 M133.21,70.79 L136.40,70.79 M134.92,73.40 L138.06,73.93 M136.18,76.26 L139.19,77.29 M136.94,79.29 L139.74,80.80" stroke="#35447a" stroke-width="1.05" stroke-linecap="round" fill="none"/>
<circle cx="118.3" cy="82.4" r="19.099999999999998" fill="none" stroke="#35447a" stroke-width="0.45" opacity="0.8"/>
<circle cx="118.3" cy="82.4" r="21.3" fill="none" stroke="#35447a" stroke-width="0.45" opacity="0.8"/>
<path d="M103.60,68.00 L103.91,68.80 L104.21,69.45 L104.52,69.84 L104.82,69.93 L105.12,69.78 L105.43,69.51 L105.73,69.29 L106.04,69.26 L106.34,69.51 L106.65,70.04 L106.95,70.77 L107.26,71.57 L107.56,72.28 L107.87,72.75 L108.17,72.93 L108.48,72.83 L108.78,72.56 L109.09,72.25 L109.39,72.08 L109.70,72.14 L110.00,72.50 L110.31,73.10 L110.61,73.83 L110.92,74.52 L111.22,75.04 L111.53,75.27 L111.83,75.21 L112.14,74.92 L112.44,74.52 L112.75,74.19 L113.05,74.05 L113.36,74.20 L113.66,74.61 L113.97,75.21 L114.27,75.84 L114.58,76.36 L114.88,76.62 L115.19,76.58 L115.50,76.27 L115.80,75.80 L116.10,75.32 L116.41,74.98 L116.72,74.90 L117.02,75.10 L117.33,75.53 L117.63,76.06 L117.94,76.54 L118.24,76.82 L118.55,76.81 L118.85,76.50 L119.16,75.98 L119.46,75.38 L119.77,74.86 L120.07,74.56 L120.38,74.54 L120.68,74.79 L120.98,75.20 L121.29,75.63 L121.59,75.91 L121.90,75.94 L122.20,75.67 L122.51,75.14 L122.81,74.47 L123.12,73.82 L123.42,73.33 L123.73,73.12 L124.03,73.19 L124.34,73.47 L124.64,73.85 L124.95,74.15 L125.25,74.24 L125.56,74.05 L125.86,73.56 L126.17,72.89 L126.47,72.16 L126.78,71.55 L127.09,71.17 L127.39,71.09 L127.69,71.27 L128.00,71.60" fill="none" stroke="#3b4a7e" stroke-width="0.75"/>
<path d="M103.60,68.00 L103.91,67.76 L104.21,67.67 L104.52,67.84 L104.82,68.31 L105.12,69.01 L105.43,69.83 L105.73,70.59 L106.04,71.17 L106.34,71.45 L106.65,71.45 L106.95,71.24 L107.26,70.95 L107.56,70.76 L107.87,70.78 L108.17,71.08 L108.48,71.66 L108.78,72.40 L109.09,73.16 L109.39,73.78 L109.70,74.14 L110.00,74.20 L110.31,74.01 L110.61,73.67 L110.92,73.35 L111.22,73.19 L111.53,73.30 L111.83,73.69 L112.14,74.30 L112.44,74.99 L112.75,75.60 L113.05,76.00 L113.36,76.10 L113.66,75.91 L113.97,75.52 L114.27,75.08 L114.58,74.74 L114.88,74.63 L115.19,74.80 L115.50,75.23 L115.80,75.80 L116.10,76.36 L116.41,76.76 L116.72,76.89 L117.02,76.72 L117.33,76.29 L117.63,75.75 L117.94,75.24 L118.24,74.92 L118.55,74.86 L118.85,75.09 L119.16,75.51 L119.46,76.00 L119.77,76.38 L120.07,76.53 L120.38,76.39 L120.68,75.96 L120.98,75.36 L121.29,74.72 L121.59,74.21 L121.90,73.94 L122.20,73.97 L122.51,74.23 L122.81,74.63 L123.12,74.99 L123.42,75.18 L123.73,75.09 L124.03,74.71 L124.34,74.09 L124.64,73.38 L124.95,72.74 L125.25,72.30 L125.56,72.14 L125.86,72.26 L126.17,72.57 L126.47,72.93 L126.78,73.17 L127.09,73.17 L127.39,72.87 L127.69,72.31 L128.00,71.60" fill="none" stroke="#3b4a7e" stroke-width="0.75"/>
<circle cx="103.6" cy="68" r="2.6" fill="#b8284e"/>
<ellipse cx="128" cy="71.3" rx="2.2" ry="1.7" fill="#c23a62"/>
<path d="M129,70.5 Q132,62 136,65 Q139,68 141,63 Q143,60 146.5,62" fill="none" stroke="#4a5080" stroke-width="0.5"/>
<text x="94.00" y="59.40" font-size="5.3" fill="#c0392b" stroke="#c0392b" stroke-width="0.12" textLength="17.00" lengthAdjust="spacingAndGlyphs" >Twinkle</text>
<text x="111.00" y="82.00" font-size="5.2" fill="#c0392b" stroke="#c0392b" stroke-width="0.12" textLength="21.00" lengthAdjust="spacingAndGlyphs" >RNaseH1</text>
<path d="M159,81 L172,78.8" fill="none" stroke="#333" stroke-width="0.55"/>
<path d="M173.60,78.50 L171.92,80.02 L171.50,77.65 Z" fill="#222"/>
<path d="M151,112 L159.6,117.2" fill="none" stroke="#333" stroke-width="0.55"/>
<path d="M161.00,118.00 L158.74,118.04 L159.97,115.98 Z" fill="#222"/>
<path d="M187.5,72 C189,67.5 196,66.5 203,68 C210,66 218,66.5 224,67.5 C229,68.5 230.5,72 229,74.5 C226,77.5 216,76.5 208,77 C200,77.8 192,77.5 189,76 C187,75 187,73.5 187.5,72 Z" fill="#4a5888" opacity="0.55"/>
<path d="M187.00,71.50 L187.35,73.07 L187.71,74.32 L188.06,75.01 L188.42,75.01 L188.78,74.34 L189.13,73.17 L189.49,71.78 L189.84,70.50 L190.19,69.62 L190.55,69.36 L190.91,69.79 L191.26,70.83 L191.62,72.28 L191.97,73.83 L192.32,75.15 L192.68,75.97 L193.03,76.12 L193.39,75.57 L193.75,74.45 L194.10,73.00 L194.46,71.54 L194.81,70.39 L195.16,69.80 L195.52,69.88 L195.88,70.62 L196.23,71.85 L196.59,73.28 L196.94,74.59 L197.29,75.49 L197.65,75.76 L198.00,75.33 L198.36,74.26 L198.72,72.78 L199.07,71.19 L199.43,69.81 L199.78,68.92 L200.13,68.69 L200.49,69.15 L200.84,70.16 L201.20,71.50 L201.56,72.84 L201.91,73.85 L202.26,74.31 L202.62,74.08 L202.97,73.19 L203.33,71.81 L203.69,70.22 L204.04,68.74 L204.40,67.67 L204.75,67.24 L205.10,67.51 L205.46,68.41 L205.81,69.72 L206.17,71.15 L206.53,72.38 L206.88,73.12 L207.24,73.20 L207.59,72.61 L207.94,71.46 L208.30,70.00 L208.66,68.55 L209.01,67.43 L209.37,66.88 L209.72,67.03 L210.07,67.85 L210.43,69.17 L210.78,70.72 L211.14,72.17 L211.50,73.21 L211.85,73.64 L212.21,73.38 L212.56,72.50 L212.91,71.22 L213.27,69.83 L213.62,68.66 L213.98,67.99 L214.34,67.99 L214.69,68.68 L215.05,69.93 L215.40,71.50 L215.75,73.07 L216.11,74.32 L216.47,75.01 L216.82,75.01 L217.18,74.34 L217.53,73.17 L217.88,71.78 L218.24,70.50 L218.59,69.62 L218.95,69.36 L219.31,69.79 L219.66,70.83 L220.01,72.28 L220.37,73.83 L220.72,75.15 L221.08,75.97 L221.44,76.12 L221.79,75.57 L222.14,74.45 L222.50,73.00 L222.86,71.54 L223.21,70.39 L223.56,69.80 L223.92,69.88 L224.28,70.62 L224.63,71.85 L224.99,73.28 L225.34,74.59 L225.69,75.49 L226.05,75.76 L226.41,75.33 L226.76,74.26 L227.12,72.78 L227.47,71.19 L227.82,69.81 L228.18,68.92 L228.53,68.69 L228.89,69.15 L229.25,70.16 L229.60,71.50" fill="none" stroke="#3b4a7e" stroke-width="1.4"/>
<path d="M187.00,71.50 L187.35,70.16 L187.71,69.15 L188.06,68.69 L188.42,68.92 L188.78,69.81 L189.13,71.19 L189.49,72.78 L189.84,74.26 L190.19,75.33 L190.55,75.76 L190.91,75.49 L191.26,74.59 L191.62,73.28 L191.97,71.85 L192.32,70.62 L192.68,69.88 L193.03,69.80 L193.39,70.39 L193.75,71.54 L194.10,73.00 L194.46,74.45 L194.81,75.57 L195.16,76.12 L195.52,75.97 L195.88,75.15 L196.23,73.83 L196.59,72.28 L196.94,70.83 L197.29,69.79 L197.65,69.36 L198.00,69.62 L198.36,70.50 L198.72,71.78 L199.07,73.17 L199.43,74.34 L199.78,75.01 L200.13,75.01 L200.49,74.32 L200.84,73.07 L201.20,71.50 L201.56,69.93 L201.91,68.68 L202.26,67.99 L202.62,67.99 L202.97,68.66 L203.33,69.83 L203.69,71.22 L204.04,72.50 L204.40,73.38 L204.75,73.64 L205.10,73.21 L205.46,72.17 L205.81,70.72 L206.17,69.17 L206.53,67.85 L206.88,67.03 L207.24,66.88 L207.59,67.43 L207.94,68.55 L208.30,70.00 L208.66,71.46 L209.01,72.61 L209.37,73.20 L209.72,73.12 L210.07,72.38 L210.43,71.15 L210.78,69.72 L211.14,68.41 L211.50,67.51 L211.85,67.24 L212.21,67.67 L212.56,68.74 L212.91,70.22 L213.27,71.81 L213.62,73.19 L213.98,74.08 L214.34,74.31 L214.69,73.85 L215.05,72.84 L215.40,71.50 L215.75,70.16 L216.11,69.15 L216.47,68.69 L216.82,68.92 L217.18,69.81 L217.53,71.19 L217.88,72.78 L218.24,74.26 L218.59,75.33 L218.95,75.76 L219.31,75.49 L219.66,74.59 L220.01,73.28 L220.37,71.85 L220.72,70.62 L221.08,69.88 L221.44,69.80 L221.79,70.39 L222.14,71.54 L222.50,73.00 L222.86,74.45 L223.21,75.57 L223.56,76.12 L223.92,75.97 L224.28,75.15 L224.63,73.83 L224.99,72.28 L225.34,70.83 L225.69,69.79 L226.05,69.36 L226.41,69.62 L226.76,70.50 L227.12,71.78 L227.47,73.17 L227.82,74.34 L228.18,75.01 L228.53,75.01 L228.89,74.32 L229.25,73.07 L229.60,71.50" fill="none" stroke="#3b4a7e" stroke-width="1.4"/>
<path d="M187.00,71.50 L187.35,72.96 L187.71,73.72 L188.06,73.47 L188.42,72.38 L188.78,71.07 L189.13,70.28 L189.49,70.46 L189.84,71.57 L190.19,73.09 L190.55,74.29 L190.91,74.60 L191.26,73.89 L191.62,72.57 L191.97,71.35 L192.32,70.89 L192.68,71.44 L193.03,72.75 L193.39,74.16 L193.75,74.95 L194.10,74.73 L194.46,73.61 L194.81,72.17 L195.16,71.13 L195.52,71.02 L195.88,71.89 L196.23,73.25 L196.59,74.40 L196.94,74.70 L197.29,73.98 L197.65,72.56 L198.00,71.14 L198.36,70.39 L198.72,70.67 L199.07,71.77 L199.43,73.07 L199.78,73.87 L200.13,73.68 L200.49,72.55 L200.84,71.00 L201.20,69.77 L201.56,69.43 L201.91,70.09 L202.26,71.36 L202.62,72.52 L202.97,72.93 L203.33,72.31 L203.69,70.93 L204.04,69.44 L204.40,68.57 L204.75,68.71 L205.10,69.74 L205.46,71.10 L205.81,72.05 L206.17,72.07 L206.53,71.11 L206.88,69.66 L207.24,68.42 L207.59,68.03 L207.94,68.67 L208.30,70.00 L208.66,71.34 L209.01,72.01 L209.37,71.66 L209.72,70.49 L210.07,69.11 L210.43,68.26 L210.78,68.39 L211.14,69.47 L211.50,70.98 L211.85,72.17 L212.21,72.48 L212.56,71.79 L212.91,70.51 L213.27,69.33 L213.62,68.93 L213.98,69.55 L214.34,70.94 L214.69,72.44 L215.05,73.34 L215.40,73.23 L215.75,72.24 L216.11,70.92 L216.47,70.02 L216.82,70.06 L217.18,71.07 L217.53,72.60 L217.88,73.90 L218.24,74.37 L218.59,73.81 L218.95,72.56 L219.31,71.30 L219.66,70.72 L220.01,71.16 L220.37,72.42 L220.72,73.89 L221.08,74.83 L221.44,74.79 L221.79,73.80 L222.14,72.38 L222.50,71.27 L222.86,71.04 L223.21,71.81 L223.56,73.17 L223.92,74.41 L224.28,74.89 L224.63,74.32 L224.99,72.99 L225.34,71.54 L225.69,70.68 L226.05,70.83 L226.41,71.86 L226.76,73.20 L227.12,74.11 L227.47,74.08 L227.82,73.07 L228.18,71.55 L228.53,70.23 L228.89,69.75 L229.25,70.28 L229.60,71.50" fill="none" stroke="#6a78a8" stroke-width="0.8"/>
<path d="M187.00,71.50 L187.35,70.28 L187.71,69.75 L188.06,70.23 L188.42,71.55 L188.78,73.07 L189.13,74.08 L189.49,74.11 L189.84,73.20 L190.19,71.86 L190.55,70.83 L190.91,70.68 L191.26,71.54 L191.62,72.99 L191.97,74.32 L192.32,74.89 L192.68,74.41 L193.03,73.17 L193.39,71.81 L193.75,71.04 L194.10,71.27 L194.46,72.38 L194.81,73.80 L195.16,74.79 L195.52,74.83 L195.88,73.89 L196.23,72.42 L196.59,71.16 L196.94,70.72 L197.29,71.30 L197.65,72.56 L198.00,73.81 L198.36,74.37 L198.72,73.90 L199.07,72.60 L199.43,71.07 L199.78,70.06 L200.13,70.02 L200.49,70.92 L200.84,72.24 L201.20,73.23 L201.56,73.34 L201.91,72.44 L202.26,70.94 L202.62,69.55 L202.97,68.93 L203.33,69.33 L203.69,70.51 L204.04,71.79 L204.40,72.48 L204.75,72.17 L205.10,70.98 L205.46,69.47 L205.81,68.39 L206.17,68.26 L206.53,69.11 L206.88,70.49 L207.24,71.66 L207.59,72.01 L207.94,71.34 L208.30,70.00 L208.66,68.67 L209.01,68.03 L209.37,68.42 L209.72,69.66 L210.07,71.11 L210.43,72.07 L210.78,72.05 L211.14,71.10 L211.50,69.74 L211.85,68.71 L212.21,68.57 L212.56,69.44 L212.91,70.93 L213.27,72.31 L213.62,72.93 L213.98,72.52 L214.34,71.36 L214.69,70.09 L215.05,69.43 L215.40,69.77 L215.75,71.00 L216.11,72.55 L216.47,73.68 L216.82,73.87 L217.18,73.07 L217.53,71.77 L217.88,70.67 L218.24,70.39 L218.59,71.14 L218.95,72.56 L219.31,73.98 L219.66,74.70 L220.01,74.40 L220.37,73.25 L220.72,71.89 L221.08,71.02 L221.44,71.13 L221.79,72.17 L222.14,73.61 L222.50,74.73 L222.86,74.95 L223.21,74.16 L223.56,72.75 L223.92,71.44 L224.28,70.89 L224.63,71.35 L224.99,72.57 L225.34,73.89 L225.69,74.60 L226.05,74.29 L226.41,73.09 L226.76,71.57 L227.12,70.46 L227.47,70.28 L227.82,71.07 L228.18,72.38 L228.53,73.47 L228.89,73.72 L229.25,72.96 L229.60,71.50" fill="none" stroke="#6a78a8" stroke-width="0.8"/>
<ellipse cx="197" cy="68.5" rx="3" ry="2.3" fill="#c0305a" transform="rotate(-20 197 68.5)"/>
<ellipse cx="193" cy="73.5" rx="2.4" ry="1.8" fill="#c0305a" transform="rotate(10 193 73.5)"/>
<ellipse cx="210" cy="68" rx="2.3" ry="3" fill="#c0305a" transform="rotate(20 210 68)"/>
<ellipse cx="208" cy="74.5" rx="2.5" ry="1.8" fill="#c0305a" transform="rotate(0 208 74.5)"/>
<ellipse cx="219" cy="71" rx="2.2" ry="2.2" fill="#c0305a" transform="rotate(0 219 71)"/>
<ellipse cx="224.5" cy="69" rx="3" ry="2.2" fill="#c0305a" transform="rotate(10 224.5 69)"/>
<ellipse cx="202" cy="76" rx="2.2" ry="1.5" fill="#c0305a" transform="rotate(0 202 76)"/>
<text x="193.00" y="59.40" font-size="5.3" fill="#c0392b" stroke="#c0392b" stroke-width="0.12" textLength="12.00" lengthAdjust="spacingAndGlyphs" >Tfam</text>
<text x="211.00" y="89.00" font-size="5.3" fill="#c0392b" stroke="#c0392b" stroke-width="0.12" textLength="9.00" lengthAdjust="spacingAndGlyphs" >IMT</text>
<text x="204.00" y="95.60" font-size="5.3" fill="#c0392b" stroke="#c0392b" stroke-width="0.12" textLength="22.00" lengthAdjust="spacingAndGlyphs" >treatment</text>
<g transform="rotate(25 224.5 86.5)"><rect x="222.8" y="82.5" width="3.4" height="8" rx="1.7" fill="#f6f0f2" stroke="#c898a8" stroke-width="0.4"/><path d="M222.8,86.5 L226.2,86.5 L226.2,88.8 A1.7,1.7 0 0 1 222.8,88.8 Z" fill="#d8507a"/></g>
<path d="M209,98.2 L199.5,102.6" fill="none" stroke="#777" stroke-width="0.45"/>
<path d="M210.30,131.20 L212.81,133.15 M210.04,134.29 L212.18,136.64 M209.25,137.30 L210.97,139.97 M207.98,140.12 L209.22,143.05 M206.24,142.70 L206.97,145.79 M204.09,144.94 L204.28,148.11 M201.59,146.78 L201.25,149.94 M198.82,148.18 L197.95,151.24 M195.86,149.09 L194.48,151.95 M192.78,149.48 L190.94,152.07 M189.68,149.35 L187.42,151.59 M186.64,148.70 L184.04,150.53 M183.76,147.54 L180.89,148.90 M181.12,145.91 L178.06,146.77 M178.79,143.86 L175.63,144.19 M176.84,141.45 L173.67,141.24 M175.32,138.74 L172.24,138.00 M174.29,135.81 L171.37,134.56 M173.77,132.75 L171.10,131.02 M173.77,129.65 L171.43,127.49 M174.29,126.59 L172.35,124.07 M175.32,123.66 L173.84,120.85 M176.84,120.95 L175.85,117.93 M178.79,118.54 L178.33,115.39 M181.12,116.49 L181.19,113.31 M183.76,114.86 L184.37,111.74 M186.64,113.70 L187.77,110.73 M189.68,113.05 L191.29,110.31 M192.78,112.92 L194.83,110.49 M195.86,113.31 L198.29,111.27 M198.82,114.22 L201.57,112.62 M201.59,115.62 L204.57,114.50 M204.09,117.46 L207.21,116.87 M206.24,119.70 L209.41,119.64 M207.98,122.28 L211.12,122.75 M209.25,125.10 L212.27,126.11 M210.04,128.11 L212.84,129.60" stroke="#35447a" stroke-width="1.05" stroke-linecap="round" fill="none"/>
<circle cx="192" cy="131.2" r="18.5" fill="none" stroke="#35447a" stroke-width="0.45" opacity="0.8"/>
<circle cx="192" cy="131.2" r="20.700000000000003" fill="none" stroke="#35447a" stroke-width="0.45" opacity="0.8"/>
<path d="M177.60,117.00 L177.92,117.61 L178.23,118.06 L178.55,118.25 L178.87,118.15 L179.19,117.81 L179.50,117.35 L179.82,116.94 L180.14,116.72 L180.46,116.77 L180.78,117.12 L181.09,117.67 L181.41,118.28 L181.73,118.80 L182.04,119.10 L182.36,119.10 L182.68,118.83 L183.00,118.38 L183.31,117.91 L183.63,117.57 L183.95,117.47 L184.27,117.67 L184.59,118.11 L184.90,118.69 L185.22,119.23 L185.54,119.61 L185.85,119.70 L186.17,119.50 L186.49,119.07 L186.81,118.55 L187.12,118.09 L187.44,117.83 L187.76,117.86 L188.08,118.17 L188.39,118.66 L188.71,119.19 L189.03,119.60 L189.35,119.77 L189.66,119.65 L189.98,119.25 L190.30,118.70 L190.62,118.14 L190.94,117.73 L191.25,117.58 L191.57,117.72 L191.89,118.10 L192.20,118.58 L192.52,119.01 L192.84,119.24 L193.16,119.19 L193.47,118.85 L193.79,118.30 L194.11,117.67 L194.43,117.13 L194.75,116.82 L195.06,116.78 L195.38,117.02 L195.70,117.42 L196.01,117.85 L196.33,118.14 L196.65,118.17 L196.97,117.91 L197.28,117.39 L197.60,116.73 L197.92,116.10 L198.24,115.63 L198.56,115.43 L198.87,115.53 L199.19,115.84 L199.51,116.25 L199.82,116.58 L200.14,116.70 L200.46,116.54 L200.78,116.09 L201.09,115.45 L201.41,114.77 L201.73,114.19 L202.05,113.85 L202.37,113.81 L202.68,114.03 L203.00,114.40" fill="none" stroke="#3b4a7e" stroke-width="0.75"/>
<path d="M177.60,117.00 L177.92,116.56 L178.23,116.28 L178.55,116.26 L178.87,116.53 L179.19,117.04 L179.50,117.66 L179.82,118.24 L180.14,118.62 L180.46,118.72 L180.78,118.53 L181.09,118.13 L181.41,117.66 L181.73,117.28 L182.04,117.12 L182.36,117.26 L182.68,117.66 L183.00,118.23 L183.31,118.82 L183.63,119.27 L183.95,119.47 L184.27,119.37 L184.59,119.02 L184.90,118.53 L185.22,118.06 L185.54,117.76 L185.85,117.73 L186.17,117.98 L186.49,118.45 L186.81,119.02 L187.12,119.50 L187.44,119.78 L187.76,119.76 L188.08,119.46 L188.39,118.97 L188.71,118.42 L189.03,117.98 L189.35,117.78 L189.66,117.86 L189.98,118.21 L190.30,118.70 L190.62,119.19 L190.94,119.52 L191.25,119.58 L191.57,119.34 L191.89,118.86 L192.20,118.27 L192.52,117.71 L192.84,117.34 L193.16,117.25 L193.47,117.44 L193.79,117.83 L194.11,118.29 L194.43,118.66 L194.75,118.79 L195.06,118.63 L195.38,118.19 L195.70,117.58 L196.01,116.94 L196.33,116.43 L196.65,116.17 L196.97,116.20 L197.28,116.48 L197.60,116.89 L197.92,117.27 L198.24,117.48 L198.56,117.41 L198.87,117.05 L199.19,116.46 L199.51,115.78 L199.82,115.17 L200.14,114.76 L200.46,114.64 L200.78,114.79 L201.09,115.14 L201.41,115.53 L201.73,115.81 L202.05,115.85 L202.37,115.59 L202.68,115.07 L203.00,114.40" fill="none" stroke="#3b4a7e" stroke-width="0.75"/>
<circle cx="177.6" cy="117" r="2.4" fill="#b8284e"/>
<circle cx="203" cy="114.4" r="2" fill="#c23a62"/>
<ellipse cx="189.5" cy="111.5" rx="2.8" ry="1.5" fill="#e8a0b0"/>
<path d="M204.5,114 Q208,108 212,112 Q216,116 220,111 Q224,106 229.5,110" fill="none" stroke="#4a5080" stroke-width="0.5"/>
<text x="184.00" y="106.40" font-size="4.8" fill="#c0392b" stroke="#c0392b" stroke-width="0.12" textLength="13.00" lengthAdjust="spacingAndGlyphs" >Polrmt</text>
<text x="205.60" y="108.00" font-size="4.6" fill="#c0392b" stroke="#c0392b" stroke-width="0.12" textLength="10.00" lengthAdjust="spacingAndGlyphs" >Tefm</text>
<path d="M248,91 L262.5,91" fill="none" stroke="#333" stroke-width="0.55"/>
<path d="M264.20,91.00 L262.28,92.20 L262.28,89.80 Z" fill="#222"/>
<path d="M291,86 C290,77 298,74 306,75 C314,75.5 320,79 319.5,86 C319,92 314,95 305,95 C296,95 291.5,92 291,86 Z" fill="#d2d2d2" stroke="#b8b8b8" stroke-width="0.4"/>
<ellipse cx="305.5" cy="99.5" rx="14" ry="4.6" fill="#cacaca" stroke="#b4b4b4" stroke-width="0.4"/>
<rect x="296.50" y="83.00" width="4.60" height="11.50" fill="#a8a8a8" stroke="#888" stroke-width="0.3" />
<rect x="302.40" y="82.50" width="4.60" height="12.00" fill="#7c7c7c" stroke="#666" stroke-width="0.3" />
<rect x="308.30" y="83.00" width="4.80" height="11.50" fill="#3c3c3c" stroke="#333" stroke-width="0.3" />
<rect x="271.00" y="96.20" width="2.05" height="2.80" fill="#7a4aa0" />
<rect x="273.05" y="96.20" width="2.05" height="2.80" fill="#d08a3a" />
<rect x="275.10" y="96.20" width="2.05" height="2.80" fill="#3a8aa0" />
<rect x="277.15" y="96.20" width="2.05" height="2.80" fill="#c04a6a" />
<rect x="279.20" y="96.20" width="2.05" height="2.80" fill="#6a9a3a" />
<rect x="281.25" y="96.20" width="2.05" height="2.80" fill="#4a5ab0" />
<rect x="283.30" y="96.20" width="2.05" height="2.80" fill="#7a4aa0" />
<rect x="285.35" y="96.20" width="2.05" height="2.80" fill="#d08a3a" />
<rect x="287.40" y="96.20" width="2.05" height="2.80" fill="#3a8aa0" />
<rect x="289.45" y="96.20" width="2.05" height="2.80" fill="#c04a6a" />
<rect x="291.50" y="96.20" width="2.05" height="2.80" fill="#6a9a3a" />
<rect x="293.55" y="96.20" width="2.05" height="2.80" fill="#4a5ab0" />
<rect x="295.60" y="96.20" width="2.05" height="2.80" fill="#7a4aa0" />
<rect x="297.65" y="96.20" width="2.05" height="2.80" fill="#d08a3a" />
<rect x="299.70" y="96.20" width="2.05" height="2.80" fill="#3a8aa0" />
<rect x="301.75" y="96.20" width="2.05" height="2.80" fill="#c04a6a" />
<rect x="303.80" y="96.20" width="2.05" height="2.80" fill="#6a9a3a" />
<rect x="305.85" y="96.20" width="2.05" height="2.80" fill="#4a5ab0" />
<rect x="307.90" y="96.20" width="2.05" height="2.80" fill="#7a4aa0" />
<rect x="309.95" y="96.20" width="2.05" height="2.80" fill="#d08a3a" />
<rect x="312.00" y="96.20" width="2.05" height="2.80" fill="#3a8aa0" />
<rect x="314.05" y="96.20" width="2.05" height="2.80" fill="#c04a6a" />
<rect x="316.10" y="96.20" width="2.05" height="2.80" fill="#6a9a3a" />
<rect x="318.15" y="96.20" width="2.05" height="2.80" fill="#4a5ab0" />
<ellipse cx="293.6" cy="84.6" rx="2.6" ry="3.4" fill="#c83868"/>
<text x="281.60" y="78.60" font-size="5.2" fill="#c0392b" stroke="#c0392b" stroke-width="0.12" textLength="14.80" lengthAdjust="spacingAndGlyphs" >Mterf4</text>
<path d="M306.5,79.5 L307.5,74 L312,70 L317.5,71 L323,68.2 L326.5,62.8" fill="none" stroke="#7a90c0" stroke-width="0.5"/>
<circle cx="306.5" cy="79.5" r="1.5" fill="#fff" stroke="#7a90c0" stroke-width="0.45"/>
<circle cx="307.5" cy="74" r="1.5" fill="#fff" stroke="#7a90c0" stroke-width="0.45"/>
<circle cx="312" cy="70" r="1.5" fill="#fff" stroke="#7a90c0" stroke-width="0.45"/>
<circle cx="317.5" cy="71" r="1.5" fill="#e8eef8" stroke="#7a90c0" stroke-width="0.45"/>
<circle cx="323" cy="68.2" r="1.5" fill="#fff" stroke="#7a90c0" stroke-width="0.45"/>
<circle cx="326.5" cy="62.8" r="1.5" fill="#3a78c0" stroke="#7a90c0" stroke-width="0.45"/>
<path d="M327,91 L340.5,91" fill="none" stroke="#333" stroke-width="0.55"/>
<path d="M342.20,91.00 L340.28,92.20 L340.28,89.80 Z" fill="#222"/>
<line x1="357.00" y1="85.30" x2="429.00" y2="85.30" stroke="#e8a8b0" stroke-width="0.9" stroke-dasharray="1.2,0.8"/>
<line x1="357.00" y1="88.80" x2="429.00" y2="88.80" stroke="#e8a8b0" stroke-width="0.9" stroke-dasharray="1.2,0.8"/>
<line x1="357.00" y1="92.20" x2="429.00" y2="92.20" stroke="#e8a8b0" stroke-width="0.9" stroke-dasharray="1.2,0.8"/>
<line x1="357.00" y1="95.00" x2="429.00" y2="95.00" stroke="#e8a8b0" stroke-width="0.9" stroke-dasharray="1.2,0.8"/>
<ellipse cx="367.4" cy="86.5" rx="4" ry="9" fill="#dcdcdc" stroke="#aaa" stroke-width="0.4"/>
<path d="M363.5,92 C364,88 370,87.5 373,89 C376,90.5 376,95 372,96.5 C368,97.5 363,96 363.5,92 Z" fill="#2a5a98"/>
<ellipse cx="375" cy="93" rx="2.5" ry="3" fill="#e4e4e4" stroke="#aaa" stroke-width="0.3"/>
<ellipse cx="384.5" cy="86" rx="3.3" ry="2.3" fill="#e0e0e0" stroke="#aaa" stroke-width="0.35"/>
<circle cx="386.2" cy="92.4" r="1.7" fill="#f0f0b0" stroke="#b0b070" stroke-width="0.3"/>
<ellipse cx="394.7" cy="88.3" rx="3.9" ry="7" fill="#dedede" stroke="#aaa" stroke-width="0.4"/>
<ellipse cx="406.4" cy="92.6" rx="3.7" ry="6.2" fill="#dcdcdc" stroke="#aaa" stroke-width="0.4"/>
<ellipse cx="416" cy="77.5" rx="5" ry="5.8" fill="#e2e2e2" stroke="#aaa" stroke-width="0.4"/>
<path d="M413,76 L413,81 M416,73 L416,82 M419,76 L419,81" stroke="#bbb" stroke-width="0.4"/>
<rect x="414.50" y="82.50" width="3.00" height="13.50" fill="#dadada" stroke="#aaa" stroke-width="0.35" rx="1.2" />
<text x="392.60" y="109.10" font-size="4.9" fill="#c0392b" stroke="#c0392b" stroke-width="0.12" text-anchor="middle" font-style="italic" >NDUFB3</text>
<text x="392.60" y="114.50" font-size="4.9" fill="#c0392b" stroke="#c0392b" stroke-width="0.12" text-anchor="middle" font-style="italic" >NDUFB4</text>
<text x="392.60" y="120.40" font-size="4.9" fill="#c0392b" stroke="#c0392b" stroke-width="0.12" text-anchor="middle" font-style="italic" >NDUFAF4</text>
<text x="392.60" y="126.20" font-size="4.9" fill="#c0392b" stroke="#c0392b" stroke-width="0.12" text-anchor="middle" font-style="italic" >NDUFA1</text>
<text x="392.60" y="132.00" font-size="4.9" fill="#c0392b" stroke="#c0392b" stroke-width="0.12" text-anchor="middle" font-style="italic" >NDUFB11</text>
<text x="392.60" y="137.40" font-size="4.9" fill="#c0392b" stroke="#c0392b" stroke-width="0.12" text-anchor="middle" font-style="italic" >NDUFB7</text>
<path d="M377,139.6 Q377,141.4 379,141.4 L390,141.4 Q392,141.4 392.3,143.4 Q392.6,141.4 394.6,141.4 L405,141.4 Q407,141.4 407,139.6" fill="none" stroke="#666" stroke-width="0.55"/>
<ellipse cx="392.4" cy="155" rx="11" ry="7.2" fill="#ebe3d3" stroke="#b8ae9c" stroke-width="0.6"/>
<ellipse cx="392.4" cy="154" rx="8.8" ry="5.2" fill="#f3ede2" stroke="#cfc6b4" stroke-width="0.4"/>
<path d="M386,154 q2,-3 4,0 q2,2 4,-1 q2,-2 3,1 M388,156.5 q2,-2 4,0 q2,2 4,-1" fill="none" stroke="#a07864" stroke-width="0.9"/>
<text x="392.30" y="172.40" font-size="5.8" fill="#222" stroke="#222" stroke-width="0.12" text-anchor="middle" textLength="45.40" lengthAdjust="spacingAndGlyphs" >CRISPR/Cas9 KO</text>
<text x="392.00" y="179.00" font-size="5.8" fill="#222" stroke="#222" stroke-width="0.12" text-anchor="middle" textLength="38.00" lengthAdjust="spacingAndGlyphs" >HEK293T cells</text>
<path d="M392.4,187 L380.5,196" fill="none" stroke="#333" stroke-width="0.55"/>
<path d="M379.20,197.00 L380.01,194.89 L381.46,196.80 Z" fill="#222"/>
<path d="M106,152.4 Q106.2,156 109.5,156 L209,156 Q211.5,156.2 212,159 Q212.5,156.2 215,156 L314.5,156 Q317.6,156 317.6,152.4" fill="none" stroke="#555" stroke-width="0.7"/>
<path d="M166.50,170.50 C161.50,168.50 157.50,167.50 156.50,168.00 C155.50,169.00 157.50,171.00 159.50,172.00" fill="none" stroke="#c8928a" stroke-width="0.9"/>
<path d="M172.00,178.50 l-0.6,3.5 l2.6,0 M181.50,177.50 l0.2,3 l2.4,0.3" fill="none" stroke="#d4a098" stroke-width="1.4"/>
<ellipse cx="175.50" cy="172.00" rx="9" ry="6.8" fill="#685a52"/>
<path d="M179.50,166.50 C182.50,163.50 186.50,165.50 187.50,168.50 C187.00,171.50 183.50,173.50 180.50,172.50 Z" fill="#685a52"/>
<path d="M181.50,164.50 L182.50,162.00 L184.50,165.00 Z" fill="#685a52"/>
<ellipse cx="175.20" cy="165.00" rx="2.4" ry="3" fill="#c69a94" stroke="#7a6a62" stroke-width="0.3"/>
<circle cx="180.90" cy="167.10" r="0.55" fill="#1a1a1a"/>
<circle cx="187.10" cy="167.90" r="0.8" fill="#d4a098"/>
<path d="M243.50,170.50 C238.50,168.50 234.50,167.50 233.50,168.00 C232.50,169.00 234.50,171.00 236.50,172.00" fill="none" stroke="#c8928a" stroke-width="0.9"/>
<path d="M249.00,178.50 l-0.6,3.5 l2.6,0 M258.50,177.50 l0.2,3 l2.4,0.3" fill="none" stroke="#d4a098" stroke-width="1.4"/>
<ellipse cx="252.50" cy="172.00" rx="9" ry="6.8" fill="#685a52"/>
<path d="M256.50,166.50 C259.50,163.50 263.50,165.50 264.50,168.50 C264.00,171.50 260.50,173.50 257.50,172.50 Z" fill="#685a52"/>
<path d="M258.50,164.50 L259.50,162.00 L261.50,165.00 Z" fill="#685a52"/>
<ellipse cx="252.20" cy="165.00" rx="2.4" ry="3" fill="#c69a94" stroke="#7a6a62" stroke-width="0.3"/>
<circle cx="257.90" cy="167.10" r="0.55" fill="#1a1a1a"/>
<circle cx="264.10" cy="167.90" r="0.8" fill="#d4a098"/>
<text x="174.80" y="194.00" font-size="5.9" fill="#222" stroke="#222" stroke-width="0.12" text-anchor="middle" textLength="18.40" lengthAdjust="spacingAndGlyphs" >Control</text>
<text x="253.00" y="192.00" font-size="5.9" fill="#222" stroke="#222" stroke-width="0.12" text-anchor="middle" textLength="62.00" lengthAdjust="spacingAndGlyphs" >conditional knockout or</text>
<text x="253.00" y="198.60" font-size="5.9" fill="#222" stroke="#222" stroke-width="0.12" text-anchor="middle" textLength="52.00" lengthAdjust="spacingAndGlyphs" >IMT-treated animals</text>
<path d="M290,200.4 L308.6,202.3" fill="none" stroke="#333" stroke-width="0.55"/>
<path d="M310.40,202.50 L308.37,203.49 L308.62,201.11 Z" fill="#222"/>
<rect x="316.40" y="193.00" width="56.00" height="20.60" fill="#b2627c" stroke="#8c3c5a" stroke-width="0.8" rx="3.6" />
<text x="344.40" y="202.00" font-size="6.4" fill="#f6e8ec" stroke="#f6e8ec" stroke-width="0.12" text-anchor="middle" textLength="39.00" lengthAdjust="spacingAndGlyphs" >Mitochondrial</text>
<text x="344.40" y="208.60" font-size="6.3" fill="#f6e8ec" stroke="#f6e8ec" stroke-width="0.12" text-anchor="middle" textLength="33.00" lengthAdjust="spacingAndGlyphs" >Dysfunction</text>
<path d="M333,221 C336,216 346,216 352,219 C357,221 361,219 364,222 C366,226 362,232 357,234 C351,236 347,231 341,230 C336,229 331,227 333,221 Z" fill="#c9958c"/>
<path d="M338,221 L339,228" stroke="#f3e4e0" stroke-width="1.1"/>
<path d="M342,221 L343,228" stroke="#f3e4e0" stroke-width="1.1"/>
<path d="M346,221 L347,228" stroke="#f3e4e0" stroke-width="1.1"/>
<path d="M350,221 L351,228" stroke="#f3e4e0" stroke-width="1.1"/>
<path d="M354,221 L355,228" stroke="#f3e4e0" stroke-width="1.1"/>
<path d="M358,221 L359,228" stroke="#f3e4e0" stroke-width="1.1"/>
<path d="M331.5,224 l2,1 M332,228 l2.5,-0.5 M363,218 l1.5,-1.5 M365,221 l2,-0.5" stroke="#d8b0a8" stroke-width="0.7"/>
</svg></body></html>
